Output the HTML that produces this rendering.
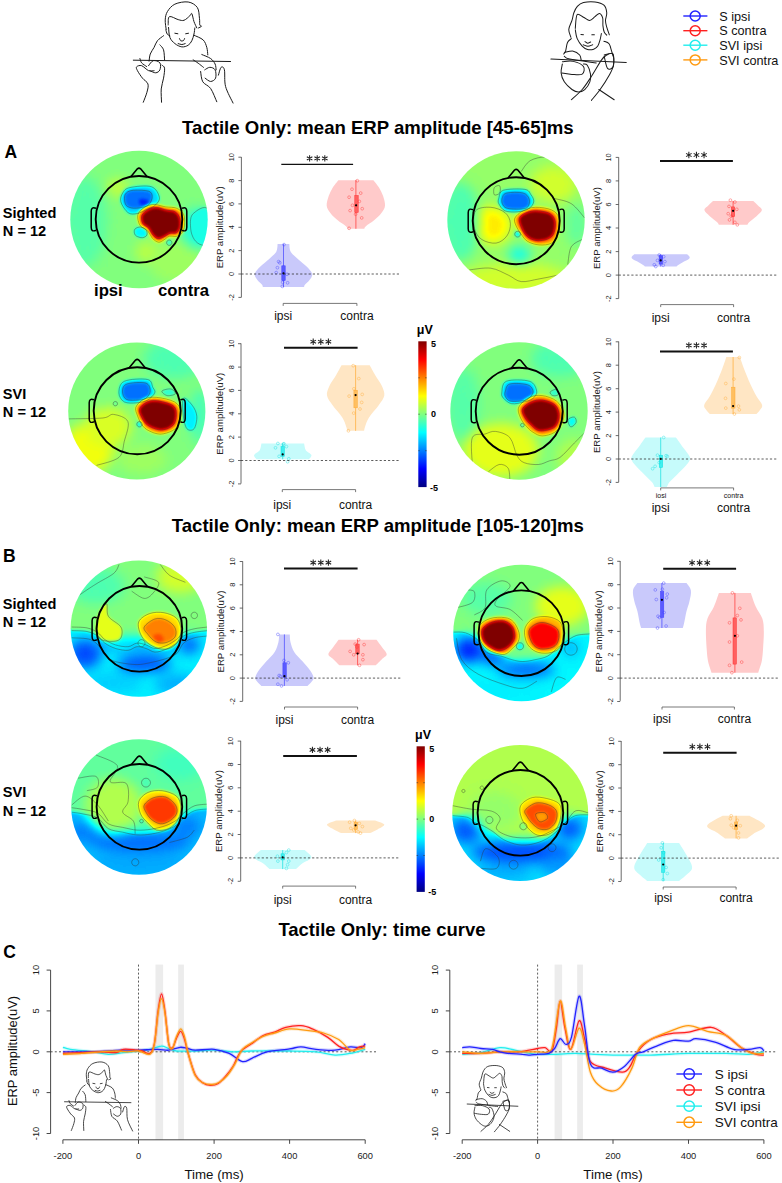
<!DOCTYPE html><html><head><meta charset="utf-8"><style>html,body{margin:0;padding:0;background:#fff;width:782px;height:1183px;overflow:hidden}svg{display:block}</style></head><body><svg width="782" height="1183" viewBox="0 0 782 1183" font-family="Liberation Sans, sans-serif">
<defs><linearGradient id="jetv" x1="0" y1="1" x2="0" y2="0"><stop offset="0" stop-color="#000080"/><stop offset="0.125" stop-color="#0000ff"/><stop offset="0.375" stop-color="#00ffff"/><stop offset="0.5" stop-color="#80ff80"/><stop offset="0.625" stop-color="#ffff00"/><stop offset="0.875" stop-color="#ff0000"/><stop offset="1" stop-color="#800000"/></linearGradient></defs>
<rect width="782" height="1183" fill="#fff"/>
<defs><clipPath id="clip0"><circle cx="139.0" cy="219.5" r="68.7"/></clipPath><clipPath id="clip1"><circle cx="516.0" cy="220.0" r="68.7"/></clipPath><clipPath id="clip2"><circle cx="136.8" cy="411.0" r="68.6"/></clipPath><clipPath id="clip3"><circle cx="519.0" cy="411.0" r="68.7"/></clipPath><clipPath id="clip4"><circle cx="138.8" cy="628.6" r="68.2"/></clipPath><clipPath id="clip5"><circle cx="521.4" cy="633.0" r="68.2"/></clipPath><clipPath id="clip6"><circle cx="139.0" cy="807.0" r="67.8"/></clipPath><clipPath id="clip7"><circle cx="520.2" cy="813.0" r="68.0"/></clipPath><filter id="jet" x="-5%" y="-5%" width="110%" height="110%" color-interpolation-filters="sRGB"><feGaussianBlur stdDeviation="1.7"/><feComponentTransfer><feFuncR type="table" tableValues="0 0 0 0 0.5 1 1 1 0.5"/><feFuncG type="table" tableValues="0 0 0.5 1 1 1 0.5 0 0"/><feFuncB type="table" tableValues="0.5 1 1 1 0.5 0 0 0 0"/></feComponentTransfer></filter><filter id="soft" x="-20%" y="-20%" width="140%" height="140%" color-interpolation-filters="sRGB"><feGaussianBlur stdDeviation="6"/></filter></defs>
<g clip-path="url(#clip0)"><g filter="url(#jet)">
<rect x="58.3" y="138.7" width="161.5" height="161.5" fill="#808080"/>
<g filter="url(#soft)">
<ellipse cx="117.3" cy="187.6" rx="10.7" ry="9.0" fill="#919191"/>
<ellipse cx="147.8" cy="252.0" rx="12.5" ry="10.7" fill="#8f8f8f"/>
<ellipse cx="85.1" cy="221.6" rx="21.5" ry="44.8" fill="#757575"/>
<ellipse cx="176.4" cy="261.0" rx="26.9" ry="21.5" fill="#878787"/>
<ellipse cx="197.9" cy="228.8" rx="16.1" ry="19.7" fill="#666666"/>
</g>
<path d="M122.7,193.0C124.2,190.6 125.1,188.6 129.9,187.6C134.6,186.5 146.4,185.1 151.3,186.7C156.3,188.3 158.8,194.3 159.4,197.4C160.0,200.6 156.9,203.6 154.9,205.5C153.0,207.4 150.8,207.7 147.8,209.1C144.8,210.4 140.3,213.0 137.0,213.6C133.7,214.1 130.8,214.6 128.1,212.7C125.4,210.7 121.8,205.2 120.9,201.9C120.0,198.6 121.2,195.4 122.7,193.0Z" fill="#575757"/>
<path d="M126.3,193.0C127.8,191.6 129.7,190.6 133.4,190.3C137.2,190.0 145.5,190.1 148.7,191.2C151.8,192.2 152.1,194.5 152.2,196.5C152.4,198.6 150.9,202.0 149.6,203.7C148.2,205.4 146.9,206.2 144.2,206.9C141.5,207.7 136.4,208.4 133.4,208.2C130.5,207.9 127.8,207.1 126.3,205.5C124.8,203.9 124.5,200.4 124.5,198.3C124.5,196.2 124.8,194.3 126.3,193.0Z" fill="#3c3c3c"/>
<path d="M139.7,199.2C140.9,198.5 146.6,199.2 147.8,200.1C149.0,201.0 148.1,203.9 146.9,204.6C145.7,205.3 141.8,205.5 140.6,204.6C139.4,203.7 138.5,200.0 139.7,199.2Z" fill="#292929"/>
<path d="M138.8,212.7C140.2,210.6 143.3,207.7 146.0,206.4C148.7,205.0 151.6,204.5 154.9,204.6C158.2,204.7 162.1,206.3 165.7,206.9C169.3,207.5 173.4,206.9 176.4,208.2C179.4,209.4 182.2,211.6 183.6,214.4C184.9,217.3 184.7,222.1 184.5,225.2C184.2,228.2 183.5,230.9 182.1,232.7C180.8,234.6 178.6,235.7 176.4,236.3C174.3,236.9 171.3,235.7 169.3,236.3C167.2,236.9 165.7,238.9 163.9,239.9C162.1,240.9 160.4,242.5 158.5,242.2C156.6,241.9 154.0,240.0 152.2,238.1C150.5,236.2 149.7,232.9 147.8,230.9C145.8,228.9 142.2,228.1 140.6,226.1C139.0,224.1 138.2,221.2 137.9,218.9C137.6,216.7 137.5,214.7 138.8,212.7Z" fill="#b8b8b8"/>
<path d="M142.0,215.3C143.0,213.0 146.2,210.7 148.7,209.4C151.1,208.2 153.9,207.6 156.7,207.6C159.6,207.7 162.6,209.3 165.7,210.0C168.7,210.7 172.7,210.4 175.0,211.8C177.3,213.1 178.8,215.5 179.6,218.0C180.5,220.6 180.5,224.5 180.0,227.0C179.5,229.4 178.1,231.7 176.4,232.7C174.8,233.8 172.2,232.6 170.1,233.2C168.1,233.9 166.0,235.9 163.9,236.8C161.8,237.7 159.6,239.1 157.6,238.6C155.7,238.2 153.7,235.9 152.2,234.1C150.8,232.3 150.2,229.7 148.7,227.9C147.1,226.1 143.9,225.5 142.8,223.4C141.7,221.3 141.1,217.7 142.0,215.3Z" fill="#ffffff"/>
<path d="M135.2,228.8C136.3,227.9 138.8,226.8 140.6,227.0C142.4,227.1 144.9,228.3 146.0,229.7C147.0,231.0 147.5,233.7 146.9,235.0C146.3,236.4 144.2,237.6 142.4,237.7C140.6,237.9 137.5,236.8 136.1,235.9C134.8,235.0 134.5,233.5 134.3,232.3C134.2,231.2 134.2,229.7 135.2,228.8Z" fill="#5e5e5e"/>
<path d="M171.9,242.7C171.9,243.4 171.6,244.2 171.1,244.6C170.7,245.1 169.9,245.4 169.3,245.4C168.6,245.4 167.8,245.1 167.4,244.6C166.9,244.2 166.6,243.4 166.6,242.7C166.6,242.1 166.9,241.3 167.4,240.8C167.8,240.4 168.6,240.0 169.3,240.0C169.9,240.0 170.7,240.4 171.1,240.8C171.6,241.3 171.9,242.1 171.9,242.7Z" fill="#6b6b6b"/>
<path d="M192.5,214.4C195.4,211.2 204.8,204.3 207.7,209.1C210.7,213.9 211.5,237.1 210.4,243.1C209.4,249.1 204.2,245.5 201.5,244.9C198.8,244.3 196.1,242.2 194.3,239.5C192.5,236.8 191.0,232.9 190.7,228.8C190.4,224.6 189.7,217.7 192.5,214.4Z" fill="#666666"/>
</g>
<path d="M122.7,193.0C124.2,190.6 125.1,188.6 129.9,187.6C134.6,186.5 146.4,185.1 151.3,186.7C156.3,188.3 158.8,194.3 159.4,197.4C160.0,200.6 156.9,203.6 154.9,205.5C153.0,207.4 150.8,207.7 147.8,209.1C144.8,210.4 140.3,213.0 137.0,213.6C133.7,214.1 130.8,214.6 128.1,212.7C125.4,210.7 121.8,205.2 120.9,201.9C120.0,198.6 121.2,195.4 122.7,193.0Z" fill="none" stroke="#333" stroke-opacity="0.75" stroke-width="0.55"/>
<path d="M126.3,193.0C127.8,191.6 129.7,190.6 133.4,190.3C137.2,190.0 145.5,190.1 148.7,191.2C151.8,192.2 152.1,194.5 152.2,196.5C152.4,198.6 150.9,202.0 149.6,203.7C148.2,205.4 146.9,206.2 144.2,206.9C141.5,207.7 136.4,208.4 133.4,208.2C130.5,207.9 127.8,207.1 126.3,205.5C124.8,203.9 124.5,200.4 124.5,198.3C124.5,196.2 124.8,194.3 126.3,193.0Z" fill="none" stroke="#333" stroke-opacity="0.75" stroke-width="0.55"/>
<path d="M138.8,212.7C140.2,210.6 143.3,207.7 146.0,206.4C148.7,205.0 151.6,204.5 154.9,204.6C158.2,204.7 162.1,206.3 165.7,206.9C169.3,207.5 173.4,206.9 176.4,208.2C179.4,209.4 182.2,211.6 183.6,214.4C184.9,217.3 184.7,222.1 184.5,225.2C184.2,228.2 183.5,230.9 182.1,232.7C180.8,234.6 178.6,235.7 176.4,236.3C174.3,236.9 171.3,235.7 169.3,236.3C167.2,236.9 165.7,238.9 163.9,239.9C162.1,240.9 160.4,242.5 158.5,242.2C156.6,241.9 154.0,240.0 152.2,238.1C150.5,236.2 149.7,232.9 147.8,230.9C145.8,228.9 142.2,228.1 140.6,226.1C139.0,224.1 138.2,221.2 137.9,218.9C137.6,216.7 137.5,214.7 138.8,212.7Z" fill="none" stroke="#333" stroke-opacity="0.75" stroke-width="0.55"/>
<path d="M142.0,215.3C143.0,213.0 146.2,210.7 148.7,209.4C151.1,208.2 153.9,207.6 156.7,207.6C159.6,207.7 162.6,209.3 165.7,210.0C168.7,210.7 172.7,210.4 175.0,211.8C177.3,213.1 178.8,215.5 179.6,218.0C180.5,220.6 180.5,224.5 180.0,227.0C179.5,229.4 178.1,231.7 176.4,232.7C174.8,233.8 172.2,232.6 170.1,233.2C168.1,233.9 166.0,235.9 163.9,236.8C161.8,237.7 159.6,239.1 157.6,238.6C155.7,238.2 153.7,235.9 152.2,234.1C150.8,232.3 150.2,229.7 148.7,227.9C147.1,226.1 143.9,225.5 142.8,223.4C141.7,221.3 141.1,217.7 142.0,215.3Z" fill="none" stroke="#333" stroke-opacity="0.75" stroke-width="0.55"/>
<path d="M135.2,228.8C136.3,227.9 138.8,226.8 140.6,227.0C142.4,227.1 144.9,228.3 146.0,229.7C147.0,231.0 147.5,233.7 146.9,235.0C146.3,236.4 144.2,237.6 142.4,237.7C140.6,237.9 137.5,236.8 136.1,235.9C134.8,235.0 134.5,233.5 134.3,232.3C134.2,231.2 134.2,229.7 135.2,228.8Z" fill="none" stroke="#333" stroke-opacity="0.75" stroke-width="0.55"/>
<path d="M171.9,242.7C171.9,243.4 171.6,244.2 171.1,244.6C170.7,245.1 169.9,245.4 169.3,245.4C168.6,245.4 167.8,245.1 167.4,244.6C166.9,244.2 166.6,243.4 166.6,242.7C166.6,242.1 166.9,241.3 167.4,240.8C167.8,240.4 168.6,240.0 169.3,240.0C169.9,240.0 170.7,240.4 171.1,240.8C171.6,241.3 171.9,242.1 171.9,242.7Z" fill="none" stroke="#333" stroke-opacity="0.75" stroke-width="0.55"/>
<path d="M192.5,214.4C195.4,211.2 204.8,204.3 207.7,209.1C210.7,213.9 211.5,237.1 210.4,243.1C209.4,249.1 204.2,245.5 201.5,244.9C198.8,244.3 196.1,242.2 194.3,239.5C192.5,236.8 191.0,232.9 190.7,228.8C190.4,224.6 189.7,217.7 192.5,214.4Z" fill="none" stroke="#333" stroke-opacity="0.75" stroke-width="0.55"/>
</g>
<circle cx="139.0" cy="219.3" r="43.3" fill="none" stroke="#000" stroke-width="1.9"/>
<path d="M130.8,176.8 L137.4,168.8 Q138.99641962047977,167.4 140.6,168.8 L147.2,176.8" fill="none" stroke="#000" stroke-width="1.6" stroke-linejoin="round"/>
<path d="M96.0,208.3 Q91.2,206.3 91.2,211.3 L91.2,227.3 Q91.2,232.3 96.0,230.3" fill="none" stroke="#000" stroke-width="1.5"/>
<path d="M182.0,208.3 Q186.8,206.3 186.8,211.3 L186.8,227.3 Q186.8,232.3 182.0,230.3" fill="none" stroke="#000" stroke-width="1.5"/>
<g clip-path="url(#clip1)"><g filter="url(#jet)">
<rect x="435.3" y="139.3" width="161.5" height="161.5" fill="#858585"/>
<g filter="url(#soft)">
<path d="M475.5,210.9C478.2,207.3 485.8,207.0 490.8,207.3C495.7,207.6 501.8,210.0 505.1,212.7C508.4,215.3 510.1,219.5 510.4,223.4C510.7,227.3 509.3,232.6 506.9,235.9C504.5,239.2 500.3,242.5 496.1,243.1C491.9,243.7 485.4,241.9 481.8,239.5C478.2,237.1 475.7,233.5 474.6,228.8C473.6,224.0 472.9,214.4 475.5,210.9Z" fill="#a4a4a4"/>
<ellipse cx="553.4" cy="184.0" rx="23.3" ry="17.9" fill="#949494"/>
<ellipse cx="460.3" cy="221.6" rx="19.7" ry="39.4" fill="#737373"/>
<ellipse cx="519.4" cy="255.6" rx="10.7" ry="9.0" fill="#616161"/>
<ellipse cx="515.8" cy="278.9" rx="53.7" ry="16.1" fill="#949494"/>
<ellipse cx="576.7" cy="225.2" rx="10.7" ry="21.5" fill="#787878"/>
</g>
<path d="M498.8,198.3C499.6,196.1 499.0,191.8 503.3,190.3C507.6,188.8 520.1,188.6 524.8,189.4C529.4,190.1 529.5,192.7 531.0,194.8C532.5,196.8 534.2,199.5 533.7,201.9C533.3,204.3 531.0,207.4 528.3,209.1C525.7,210.7 521.5,211.5 517.6,211.8C513.7,212.1 508.2,212.2 505.1,210.9C501.9,209.5 499.9,205.8 498.8,203.7C497.8,201.6 498.1,200.6 498.8,198.3Z" fill="#595959"/>
<path d="M502.4,197.4C503.1,195.6 503.4,193.7 506.9,193.0C510.3,192.2 519.2,191.9 523.0,193.0C526.7,194.0 528.5,196.8 529.2,199.2C530.0,201.6 529.1,205.6 527.5,207.3C525.8,208.9 522.8,208.9 519.4,209.1C516.0,209.2 509.7,209.1 506.9,208.2C504.0,207.3 503.1,205.5 502.4,203.7C501.6,201.9 501.6,199.2 502.4,197.4Z" fill="#3c3c3c"/>
<path d="M514.9,218.0C516.1,215.6 519.5,212.7 523.0,210.9C526.4,209.1 530.7,207.4 535.5,207.3C540.3,207.1 547.7,208.2 551.6,210.0C555.5,211.8 557.7,214.0 558.8,218.0C559.8,222.1 559.1,230.0 557.9,234.1C556.7,238.3 554.8,241.3 551.6,243.1C548.5,244.9 543.1,245.2 539.1,244.9C535.1,244.6 530.4,243.1 527.5,241.3C524.5,239.5 523.1,236.8 521.2,234.1C519.2,231.5 516.9,227.9 515.8,225.2C514.8,222.5 513.7,220.4 514.9,218.0Z" fill="#b8b8b8"/>
<path d="M519.4,218.0C520.3,215.6 523.6,213.9 526.6,212.7C529.5,211.5 533.4,210.7 537.3,210.9C541.2,211.0 546.8,211.8 549.8,213.6C552.8,215.3 554.6,218.2 555.2,221.6C555.8,225.0 554.9,231.2 553.4,234.1C551.9,237.1 549.2,238.5 546.3,239.5C543.3,240.6 538.8,241.0 535.5,240.4C532.2,239.8 528.9,238.2 526.6,235.9C524.2,233.7 522.4,230.0 521.2,227.0C520.0,224.0 518.5,220.4 519.4,218.0Z" fill="#ffffff"/>
<path d="M520.5,234.1C520.5,234.8 520.1,235.7 519.6,236.2C519.2,236.6 518.3,237.0 517.6,237.0C516.9,237.0 516.1,236.6 515.6,236.2C515.1,235.7 514.7,234.8 514.7,234.1C514.7,233.5 515.1,232.6 515.6,232.1C516.1,231.6 516.9,231.3 517.6,231.3C518.3,231.3 519.2,231.6 519.6,232.1C520.1,232.6 520.5,233.5 520.5,234.1Z" fill="#5e5e5e"/>
</g>
<path d="M475.5,210.9C478.2,207.3 485.8,207.0 490.8,207.3C495.7,207.6 501.8,210.0 505.1,212.7C508.4,215.3 510.1,219.5 510.4,223.4C510.7,227.3 509.3,232.6 506.9,235.9C504.5,239.2 500.3,242.5 496.1,243.1C491.9,243.7 485.4,241.9 481.8,239.5C478.2,237.1 475.7,233.5 474.6,228.8C473.6,224.0 472.9,214.4 475.5,210.9Z" fill="none" stroke="#333" stroke-opacity="0.75" stroke-width="0.55"/>
<path d="M498.8,198.3C499.6,196.1 499.0,191.8 503.3,190.3C507.6,188.8 520.1,188.6 524.8,189.4C529.4,190.1 529.5,192.7 531.0,194.8C532.5,196.8 534.2,199.5 533.7,201.9C533.3,204.3 531.0,207.4 528.3,209.1C525.7,210.7 521.5,211.5 517.6,211.8C513.7,212.1 508.2,212.2 505.1,210.9C501.9,209.5 499.9,205.8 498.8,203.7C497.8,201.6 498.1,200.6 498.8,198.3Z" fill="none" stroke="#333" stroke-opacity="0.75" stroke-width="0.55"/>
<path d="M502.4,197.4C503.1,195.6 503.4,193.7 506.9,193.0C510.3,192.2 519.2,191.9 523.0,193.0C526.7,194.0 528.5,196.8 529.2,199.2C530.0,201.6 529.1,205.6 527.5,207.3C525.8,208.9 522.8,208.9 519.4,209.1C516.0,209.2 509.7,209.1 506.9,208.2C504.0,207.3 503.1,205.5 502.4,203.7C501.6,201.9 501.6,199.2 502.4,197.4Z" fill="none" stroke="#333" stroke-opacity="0.75" stroke-width="0.55"/>
<path d="M514.9,218.0C516.1,215.6 519.5,212.7 523.0,210.9C526.4,209.1 530.7,207.4 535.5,207.3C540.3,207.1 547.7,208.2 551.6,210.0C555.5,211.8 557.7,214.0 558.8,218.0C559.8,222.1 559.1,230.0 557.9,234.1C556.7,238.3 554.8,241.3 551.6,243.1C548.5,244.9 543.1,245.2 539.1,244.9C535.1,244.6 530.4,243.1 527.5,241.3C524.5,239.5 523.1,236.8 521.2,234.1C519.2,231.5 516.9,227.9 515.8,225.2C514.8,222.5 513.7,220.4 514.9,218.0Z" fill="none" stroke="#333" stroke-opacity="0.75" stroke-width="0.55"/>
<path d="M519.4,218.0C520.3,215.6 523.6,213.9 526.6,212.7C529.5,211.5 533.4,210.7 537.3,210.9C541.2,211.0 546.8,211.8 549.8,213.6C552.8,215.3 554.6,218.2 555.2,221.6C555.8,225.0 554.9,231.2 553.4,234.1C551.9,237.1 549.2,238.5 546.3,239.5C543.3,240.6 538.8,241.0 535.5,240.4C532.2,239.8 528.9,238.2 526.6,235.9C524.2,233.7 522.4,230.0 521.2,227.0C520.0,224.0 518.5,220.4 519.4,218.0Z" fill="none" stroke="#333" stroke-opacity="0.75" stroke-width="0.55"/>
<path d="M520.5,234.1C520.5,234.8 520.1,235.7 519.6,236.2C519.2,236.6 518.3,237.0 517.6,237.0C516.9,237.0 516.1,236.6 515.6,236.2C515.1,235.7 514.7,234.8 514.7,234.1C514.7,233.5 515.1,232.6 515.6,232.1C516.1,231.6 516.9,231.3 517.6,231.3C518.3,231.3 519.2,231.6 519.6,232.1C520.1,232.6 520.5,233.5 520.5,234.1Z" fill="none" stroke="#333" stroke-opacity="0.75" stroke-width="0.55"/>
<path d="" fill="none" stroke="#333" stroke-opacity="0.75" stroke-width="0.55"/>
<path d="M521.2,171.5C522.7,169.7 526.0,163.1 530.1,160.7C534.3,158.4 540.9,156.6 546.3,157.2C551.6,157.8 559.7,163.1 562.4,164.3" fill="none" stroke="#333" stroke-opacity="0.75" stroke-width="0.55"/>
<path d="M553.4,198.3C556.4,199.2 566.1,200.4 571.3,203.7C576.5,207.0 582.5,215.6 584.7,218.0" fill="none" stroke="#333" stroke-opacity="0.75" stroke-width="0.55"/>
<path d="M469.3,269.9C472.9,269.6 484.2,267.3 490.8,268.2C497.3,269.0 503.6,273.1 508.7,275.3C513.7,277.6 516.1,281.0 521.2,281.6C526.3,282.2 533.1,279.9 539.1,278.9C545.1,277.8 551.0,276.8 557.0,275.3C563.0,273.8 571.9,270.8 574.9,269.9" fill="none" stroke="#333" stroke-opacity="0.75" stroke-width="0.55"/>
<path d="M567.7,264.6C568.3,261.6 568.9,250.8 571.3,246.7C573.7,242.5 580.3,240.7 582.1,239.5" fill="none" stroke="#333" stroke-opacity="0.75" stroke-width="0.55"/>
<path d="M494.3,187.6C495.2,186.1 498.8,184.9 499.7,185.8C500.6,186.7 500.6,191.5 499.7,193.0C498.8,194.5 495.2,195.6 494.3,194.8C493.4,193.9 493.4,189.1 494.3,187.6Z" fill="none" stroke="#333" stroke-opacity="0.75" stroke-width="0.55"/>
</g>
<circle cx="516.2" cy="220.7" r="43.5" fill="none" stroke="#000" stroke-width="1.9"/>
<path d="M508.0,178.0 L514.6,170.0 Q516.1754385964912,168.6 517.8,170.0 L524.4,178.0" fill="none" stroke="#000" stroke-width="1.6" stroke-linejoin="round"/>
<path d="M473.0,209.7 Q468.2,207.7 468.2,212.7 L468.2,228.7 Q468.2,233.7 473.0,231.7" fill="none" stroke="#000" stroke-width="1.5"/>
<path d="M559.4,209.7 Q564.2,207.7 564.2,212.7 L564.2,228.7 Q564.2,233.7 559.4,231.7" fill="none" stroke="#000" stroke-width="1.5"/>
<g clip-path="url(#clip2)"><g filter="url(#jet)">
<rect x="56.3" y="330.4" width="161.1" height="161.1" fill="#808080"/>
<g filter="url(#soft)">
<ellipse cx="88.5" cy="448.4" rx="25.1" ry="25.1" fill="#9c9c9c"/>
<ellipse cx="108.2" cy="426.9" rx="23.3" ry="19.7" fill="#969696"/>
<ellipse cx="174.4" cy="358.9" rx="30.4" ry="19.7" fill="#737373"/>
<ellipse cx="142.2" cy="459.2" rx="25.1" ry="14.3" fill="#878787"/>
<ellipse cx="199.5" cy="416.2" rx="9.0" ry="26.9" fill="#707070"/>
</g>
<path d="M118.9,392.9C118.9,389.5 119.5,383.5 124.3,381.3C129.1,379.0 142.8,378.4 147.6,379.5C152.3,380.5 151.7,385.3 152.9,387.5C154.1,389.8 155.6,390.8 154.7,392.9C153.8,395.0 150.5,398.4 147.6,400.1C144.6,401.7 140.7,402.5 136.8,402.8C132.9,403.1 127.3,403.5 124.3,401.9C121.3,400.2 118.9,396.3 118.9,392.9Z" fill="#595959"/>
<path d="M122.5,391.1C122.6,388.6 123.1,385.3 127.0,384.0C130.9,382.6 141.9,381.9 145.8,383.1C149.6,384.3 150.2,388.6 150.2,391.1C150.2,393.7 148.0,396.8 145.8,398.3C143.5,399.8 140.1,399.9 136.8,400.1C133.5,400.2 128.5,400.7 126.1,399.2C123.7,397.7 122.3,393.7 122.5,391.1Z" fill="#3c3c3c"/>
<path d="M135.9,407.2C137.0,404.4 140.5,400.8 144.0,399.2C147.4,397.5 151.4,396.9 156.5,397.4C161.6,397.8 170.4,399.6 174.4,401.9C178.4,404.1 179.9,407.2 180.7,410.8C181.4,414.4 180.2,420.1 178.9,423.3C177.5,426.6 175.8,428.7 172.6,430.5C169.5,432.3 164.1,434.1 160.1,434.1C156.1,434.1 151.4,432.0 148.5,430.5C145.5,429.0 144.0,427.5 142.2,425.1C140.4,422.8 138.8,419.2 137.7,416.2C136.7,413.2 134.9,410.1 135.9,407.2Z" fill="#b8b8b8"/>
<path d="M139.5,409.0C140.4,406.3 144.4,403.2 147.6,401.9C150.7,400.5 154.1,400.4 158.3,401.0C162.5,401.6 169.6,403.5 172.6,405.4C175.6,407.4 175.9,409.6 176.2,412.6C176.5,415.6 175.9,420.7 174.4,423.3C172.9,426.0 169.9,427.7 167.3,428.7C164.6,429.8 161.6,430.2 158.3,429.6C155.0,429.0 150.2,427.1 147.6,425.1C144.9,423.2 143.5,420.7 142.2,418.0C140.8,415.3 138.6,411.7 139.5,409.0Z" fill="#ffffff"/>
<path d="M142.2,424.2C142.2,424.9 141.8,425.7 141.4,426.1C141.0,426.6 140.1,426.9 139.5,426.9C138.9,426.9 138.1,426.6 137.6,426.1C137.2,425.7 136.8,424.9 136.8,424.2C136.8,423.6 137.2,422.8 137.6,422.3C138.1,421.9 138.9,421.6 139.5,421.6C140.1,421.6 141.0,421.9 141.4,422.3C141.8,422.8 142.2,423.6 142.2,424.2Z" fill="#5e5e5e"/>
<path d="M183.4,398.3C184.9,396.5 190.1,402.5 192.3,405.4C194.6,408.4 196.5,412.3 196.8,416.2C197.1,420.1 195.7,426.6 194.1,428.7C192.5,430.8 188.7,430.8 186.9,428.7C185.2,426.6 184.0,421.3 183.4,416.2C182.8,411.1 181.9,400.1 183.4,398.3Z" fill="#5c5c5c"/>
<path d="M161.9,391.1C162.5,390.0 168.6,388.5 170.8,389.0C173.1,389.4 175.9,392.7 175.3,393.8C174.7,394.9 169.5,396.0 167.3,395.6C165.0,395.2 161.3,392.2 161.9,391.1Z" fill="#6b6b6b"/>
<path d="M117.5,403.7C117.5,404.2 117.2,404.8 116.9,405.2C116.5,405.5 115.8,405.8 115.3,405.8C114.8,405.8 114.2,405.5 113.8,405.2C113.5,404.8 113.2,404.2 113.2,403.7C113.2,403.2 113.5,402.5 113.8,402.1C114.2,401.8 114.8,401.5 115.3,401.5C115.8,401.5 116.5,401.8 116.9,402.1C117.2,402.5 117.5,403.2 117.5,403.7Z" fill="#787878"/>
</g>
<path d="M118.9,392.9C118.9,389.5 119.5,383.5 124.3,381.3C129.1,379.0 142.8,378.4 147.6,379.5C152.3,380.5 151.7,385.3 152.9,387.5C154.1,389.8 155.6,390.8 154.7,392.9C153.8,395.0 150.5,398.4 147.6,400.1C144.6,401.7 140.7,402.5 136.8,402.8C132.9,403.1 127.3,403.5 124.3,401.9C121.3,400.2 118.9,396.3 118.9,392.9Z" fill="none" stroke="#333" stroke-opacity="0.75" stroke-width="0.55"/>
<path d="M122.5,391.1C122.6,388.6 123.1,385.3 127.0,384.0C130.9,382.6 141.9,381.9 145.8,383.1C149.6,384.3 150.2,388.6 150.2,391.1C150.2,393.7 148.0,396.8 145.8,398.3C143.5,399.8 140.1,399.9 136.8,400.1C133.5,400.2 128.5,400.7 126.1,399.2C123.7,397.7 122.3,393.7 122.5,391.1Z" fill="none" stroke="#333" stroke-opacity="0.75" stroke-width="0.55"/>
<path d="M135.9,407.2C137.0,404.4 140.5,400.8 144.0,399.2C147.4,397.5 151.4,396.9 156.5,397.4C161.6,397.8 170.4,399.6 174.4,401.9C178.4,404.1 179.9,407.2 180.7,410.8C181.4,414.4 180.2,420.1 178.9,423.3C177.5,426.6 175.8,428.7 172.6,430.5C169.5,432.3 164.1,434.1 160.1,434.1C156.1,434.1 151.4,432.0 148.5,430.5C145.5,429.0 144.0,427.5 142.2,425.1C140.4,422.8 138.8,419.2 137.7,416.2C136.7,413.2 134.9,410.1 135.9,407.2Z" fill="none" stroke="#333" stroke-opacity="0.75" stroke-width="0.55"/>
<path d="M139.5,409.0C140.4,406.3 144.4,403.2 147.6,401.9C150.7,400.5 154.1,400.4 158.3,401.0C162.5,401.6 169.6,403.5 172.6,405.4C175.6,407.4 175.9,409.6 176.2,412.6C176.5,415.6 175.9,420.7 174.4,423.3C172.9,426.0 169.9,427.7 167.3,428.7C164.6,429.8 161.6,430.2 158.3,429.6C155.0,429.0 150.2,427.1 147.6,425.1C144.9,423.2 143.5,420.7 142.2,418.0C140.8,415.3 138.6,411.7 139.5,409.0Z" fill="none" stroke="#333" stroke-opacity="0.75" stroke-width="0.55"/>
<path d="M142.2,424.2C142.2,424.9 141.8,425.7 141.4,426.1C141.0,426.6 140.1,426.9 139.5,426.9C138.9,426.9 138.1,426.6 137.6,426.1C137.2,425.7 136.8,424.9 136.8,424.2C136.8,423.6 137.2,422.8 137.6,422.3C138.1,421.9 138.9,421.6 139.5,421.6C140.1,421.6 141.0,421.9 141.4,422.3C141.8,422.8 142.2,423.6 142.2,424.2Z" fill="none" stroke="#333" stroke-opacity="0.75" stroke-width="0.55"/>
<path d="M183.4,398.3C184.9,396.5 190.1,402.5 192.3,405.4C194.6,408.4 196.5,412.3 196.8,416.2C197.1,420.1 195.7,426.6 194.1,428.7C192.5,430.8 188.7,430.8 186.9,428.7C185.2,426.6 184.0,421.3 183.4,416.2C182.8,411.1 181.9,400.1 183.4,398.3Z" fill="none" stroke="#333" stroke-opacity="0.75" stroke-width="0.55"/>
<path d="M161.9,391.1C162.5,390.0 168.6,388.5 170.8,389.0C173.1,389.4 175.9,392.7 175.3,393.8C174.7,394.9 169.5,396.0 167.3,395.6C165.0,395.2 161.3,392.2 161.9,391.1Z" fill="none" stroke="#333" stroke-opacity="0.75" stroke-width="0.55"/>
<path d="M117.5,403.7C117.5,404.2 117.2,404.8 116.9,405.2C116.5,405.5 115.8,405.8 115.3,405.8C114.8,405.8 114.2,405.5 113.8,405.2C113.5,404.8 113.2,404.2 113.2,403.7C113.2,403.2 113.5,402.5 113.8,402.1C114.2,401.8 114.8,401.5 115.3,401.5C115.8,401.5 116.5,401.8 116.9,402.1C117.2,402.5 117.5,403.2 117.5,403.7Z" fill="none" stroke="#333" stroke-opacity="0.75" stroke-width="0.55"/>
<path d="M68.8,418.9C74.5,418.7 95.3,418.7 102.8,418.0C110.3,417.2 109.4,413.8 113.5,414.4C117.7,415.0 126.1,417.1 127.9,421.6C129.7,426.0 125.8,435.3 124.3,441.3C122.8,447.2 123.5,453.3 118.9,457.4C114.3,461.4 100.3,464.1 96.5,465.4" fill="none" stroke="#333" stroke-opacity="0.75" stroke-width="0.55"/>
</g>
<circle cx="137.2" cy="410.8" r="43.5" fill="none" stroke="#000" stroke-width="1.9"/>
<path d="M129.0,368.1 L135.6,360.1 Q137.17543859649123,358.7 138.8,360.1 L145.4,368.1" fill="none" stroke="#000" stroke-width="1.6" stroke-linejoin="round"/>
<path d="M94.0,399.8 Q89.2,397.8 89.2,402.8 L89.2,418.8 Q89.2,423.8 94.0,421.8" fill="none" stroke="#000" stroke-width="1.5"/>
<path d="M180.4,399.8 Q185.2,397.8 185.2,402.8 L185.2,418.8 Q185.2,423.8 180.4,421.8" fill="none" stroke="#000" stroke-width="1.5"/>
<g clip-path="url(#clip3)"><g filter="url(#jet)">
<rect x="438.3" y="330.3" width="161.5" height="161.5" fill="#808080"/>
<g filter="url(#soft)">
<ellipse cx="500.9" cy="450.2" rx="37.6" ry="26.9" fill="#999999"/>
<ellipse cx="560.0" cy="358.9" rx="28.6" ry="17.9" fill="#737373"/>
<ellipse cx="463.3" cy="403.7" rx="16.1" ry="35.8" fill="#757575"/>
<ellipse cx="574.3" cy="457.4" rx="17.9" ry="17.9" fill="#8c8c8c"/>
</g>
<path d="M501.8,392.9C502.3,390.1 501.7,383.2 506.3,381.3C510.9,379.3 524.5,379.6 529.6,381.3C534.6,382.9 536.1,388.3 536.7,391.1C537.3,394.0 535.2,396.5 533.1,398.3C531.1,400.1 527.8,401.0 524.2,401.9C520.6,402.8 515.1,404.3 511.7,403.7C508.2,403.1 505.2,400.1 503.6,398.3C502.0,396.5 501.4,395.7 501.8,392.9Z" fill="#595959"/>
<path d="M505.4,391.1C506.1,389.0 506.1,385.0 509.9,384.0C513.6,382.9 523.9,383.5 527.8,384.9C531.6,386.2 533.1,389.6 533.1,392.0C533.1,394.4 529.9,397.7 527.8,399.2C525.7,400.7 523.6,400.7 520.6,401.0C517.6,401.3 512.4,401.7 509.9,401.0C507.3,400.2 506.1,398.1 505.4,396.5C504.6,394.9 504.6,393.2 505.4,391.1Z" fill="#3c3c3c"/>
<path d="M518.8,407.2C520.3,403.8 525.7,399.3 529.6,397.4C533.4,395.5 537.6,395.0 542.1,395.6C546.6,396.2 552.8,398.1 556.4,401.0C560.0,403.8 562.7,408.9 563.6,412.6C564.5,416.3 563.3,420.1 561.8,423.3C560.3,426.6 557.9,430.2 554.6,432.3C551.3,434.4 545.7,435.9 542.1,435.9C538.5,435.9 535.7,433.8 533.1,432.3C530.6,430.8 529.0,429.3 526.9,426.9C524.8,424.5 522.0,421.3 520.6,418.0C519.3,414.7 517.3,410.7 518.8,407.2Z" fill="#b8b8b8"/>
<path d="M522.4,409.0C523.4,406.3 528.1,403.4 531.3,401.9C534.6,400.4 538.2,399.6 542.1,400.1C546.0,400.5 551.8,402.2 554.6,404.6C557.5,406.9 558.8,411.0 559.1,414.4C559.4,417.8 558.1,422.6 556.4,425.1C554.8,427.7 552.2,428.7 549.3,429.6C546.3,430.5 541.5,431.3 538.5,430.5C535.5,429.8 533.6,427.2 531.3,425.1C529.1,423.1 526.6,420.7 525.1,418.0C523.6,415.3 521.4,411.7 522.4,409.0Z" fill="#ffffff"/>
<path d="M568.0,419.8C568.6,418.1 573.0,416.6 574.3,417.1C575.7,417.5 576.7,420.8 576.1,422.5C575.5,424.1 572.1,427.4 570.7,426.9C569.4,426.5 567.5,421.4 568.0,419.8Z" fill="#616161"/>
<path d="M550.1,392.0C550.7,391.0 555.1,388.9 556.4,389.3C557.8,389.8 558.8,393.7 558.2,394.7C557.6,395.7 554.2,396.0 552.8,395.6C551.5,395.2 549.5,393.1 550.1,392.0Z" fill="#6b6b6b"/>
<path d="M524.2,425.1C524.2,425.6 524.0,426.1 523.7,426.4C523.4,426.7 522.8,426.9 522.4,426.9C522.0,426.9 521.4,426.7 521.1,426.4C520.8,426.1 520.6,425.6 520.6,425.1C520.6,424.7 520.8,424.2 521.1,423.9C521.4,423.6 522.0,423.3 522.4,423.3C522.8,423.3 523.4,423.6 523.7,423.9C524.0,424.2 524.2,424.7 524.2,425.1Z" fill="#666666"/>
</g>
<path d="M501.8,392.9C502.3,390.1 501.7,383.2 506.3,381.3C510.9,379.3 524.5,379.6 529.6,381.3C534.6,382.9 536.1,388.3 536.7,391.1C537.3,394.0 535.2,396.5 533.1,398.3C531.1,400.1 527.8,401.0 524.2,401.9C520.6,402.8 515.1,404.3 511.7,403.7C508.2,403.1 505.2,400.1 503.6,398.3C502.0,396.5 501.4,395.7 501.8,392.9Z" fill="none" stroke="#333" stroke-opacity="0.75" stroke-width="0.55"/>
<path d="M505.4,391.1C506.1,389.0 506.1,385.0 509.9,384.0C513.6,382.9 523.9,383.5 527.8,384.9C531.6,386.2 533.1,389.6 533.1,392.0C533.1,394.4 529.9,397.7 527.8,399.2C525.7,400.7 523.6,400.7 520.6,401.0C517.6,401.3 512.4,401.7 509.9,401.0C507.3,400.2 506.1,398.1 505.4,396.5C504.6,394.9 504.6,393.2 505.4,391.1Z" fill="none" stroke="#333" stroke-opacity="0.75" stroke-width="0.55"/>
<path d="M518.8,407.2C520.3,403.8 525.7,399.3 529.6,397.4C533.4,395.5 537.6,395.0 542.1,395.6C546.6,396.2 552.8,398.1 556.4,401.0C560.0,403.8 562.7,408.9 563.6,412.6C564.5,416.3 563.3,420.1 561.8,423.3C560.3,426.6 557.9,430.2 554.6,432.3C551.3,434.4 545.7,435.9 542.1,435.9C538.5,435.9 535.7,433.8 533.1,432.3C530.6,430.8 529.0,429.3 526.9,426.9C524.8,424.5 522.0,421.3 520.6,418.0C519.3,414.7 517.3,410.7 518.8,407.2Z" fill="none" stroke="#333" stroke-opacity="0.75" stroke-width="0.55"/>
<path d="M522.4,409.0C523.4,406.3 528.1,403.4 531.3,401.9C534.6,400.4 538.2,399.6 542.1,400.1C546.0,400.5 551.8,402.2 554.6,404.6C557.5,406.9 558.8,411.0 559.1,414.4C559.4,417.8 558.1,422.6 556.4,425.1C554.8,427.7 552.2,428.7 549.3,429.6C546.3,430.5 541.5,431.3 538.5,430.5C535.5,429.8 533.6,427.2 531.3,425.1C529.1,423.1 526.6,420.7 525.1,418.0C523.6,415.3 521.4,411.7 522.4,409.0Z" fill="none" stroke="#333" stroke-opacity="0.75" stroke-width="0.55"/>
<path d="M568.0,419.8C568.6,418.1 573.0,416.6 574.3,417.1C575.7,417.5 576.7,420.8 576.1,422.5C575.5,424.1 572.1,427.4 570.7,426.9C569.4,426.5 567.5,421.4 568.0,419.8Z" fill="none" stroke="#333" stroke-opacity="0.75" stroke-width="0.55"/>
<path d="M550.1,392.0C550.7,391.0 555.1,388.9 556.4,389.3C557.8,389.8 558.8,393.7 558.2,394.7C557.6,395.7 554.2,396.0 552.8,395.6C551.5,395.2 549.5,393.1 550.1,392.0Z" fill="none" stroke="#333" stroke-opacity="0.75" stroke-width="0.55"/>
<path d="M524.2,425.1C524.2,425.6 524.0,426.1 523.7,426.4C523.4,426.7 522.8,426.9 522.4,426.9C522.0,426.9 521.4,426.7 521.1,426.4C520.8,426.1 520.6,425.6 520.6,425.1C520.6,424.7 520.8,424.2 521.1,423.9C521.4,423.6 522.0,423.3 522.4,423.3C522.8,423.3 523.4,423.6 523.7,423.9C524.0,424.2 524.2,424.7 524.2,425.1Z" fill="none" stroke="#333" stroke-opacity="0.75" stroke-width="0.55"/>
<path d="M472.3,464.5C472.3,460.0 470.2,442.7 472.3,437.7C474.4,432.6 480.9,435.1 484.8,434.1C488.7,433.0 491.4,430.8 495.5,431.4C499.7,432.0 506.3,433.6 509.9,437.7C513.4,441.7 514.6,451.4 517.0,455.6C519.4,459.7 520.6,461.2 524.2,462.7C527.8,464.2 534.3,464.8 538.5,464.5C542.7,464.2 545.7,462.1 549.3,460.9C552.8,459.7 555.8,460.3 560.0,457.4C564.2,454.4 569.8,447.5 574.3,443.0C578.8,438.6 584.8,432.6 586.8,430.5" fill="none" stroke="#333" stroke-opacity="0.75" stroke-width="0.55"/>
<path d="M488.4,471.7C490.2,470.5 495.8,465.1 499.1,464.5C502.4,463.9 506.3,465.4 508.1,468.1C509.9,470.8 509.6,478.5 509.9,480.6" fill="none" stroke="#333" stroke-opacity="0.75" stroke-width="0.55"/>
</g>
<circle cx="519.2" cy="411.2" r="43.5" fill="none" stroke="#000" stroke-width="1.9"/>
<path d="M511.0,368.5 L517.6,360.5 Q519.1754385964912,359.1 520.8,360.5 L527.4,368.5" fill="none" stroke="#000" stroke-width="1.6" stroke-linejoin="round"/>
<path d="M476.0,400.2 Q471.2,398.2 471.2,403.2 L471.2,419.2 Q471.2,424.2 476.0,422.2" fill="none" stroke="#000" stroke-width="1.5"/>
<path d="M562.4,400.2 Q567.2,398.2 567.2,403.2 L567.2,419.2 Q567.2,424.2 562.4,422.2" fill="none" stroke="#000" stroke-width="1.5"/>
<g clip-path="url(#clip4)"><g filter="url(#jet)">
<rect x="58.6" y="548.4" width="160.4" height="160.4" fill="#808080"/>
<path d="M61.8,630.2C63.5,617.4 67.5,630.4 71.7,630.6C75.9,630.8 82.6,630.6 86.9,631.5C91.2,632.4 94.7,634.0 97.6,636.0C100.6,637.9 101.8,641.1 104.8,643.1C107.8,645.2 111.7,647.3 115.5,648.5C119.4,649.7 124.5,650.6 128.1,650.3C131.7,650.0 134.0,647.0 137.0,646.7C140.0,646.4 143.0,647.6 146.0,648.5C149.0,649.4 151.6,651.9 154.9,652.1C158.2,652.2 162.1,650.9 165.7,649.4C169.3,647.9 173.4,645.4 176.4,643.1C179.4,640.9 180.6,637.8 183.6,636.0C186.6,634.2 190.3,633.3 194.3,632.4C198.3,631.5 203.9,631.0 207.7,630.6C211.6,630.2 215.9,617.4 217.6,630.2C219.2,643.1 243.5,694.7 217.6,707.6C191.6,720.5 87.8,720.5 61.8,707.6C35.9,694.7 60.2,643.1 61.8,630.2Z" fill="#5c5c5c"/>
<g filter="url(#soft)">
<ellipse cx="85.1" cy="653.9" rx="16.1" ry="14.3" fill="#333333"/>
<ellipse cx="144.2" cy="663.7" rx="26.9" ry="8.1" fill="#333333"/>
<ellipse cx="188.9" cy="644.9" rx="10.7" ry="9.0" fill="#383838"/>
<ellipse cx="113.8" cy="682.5" rx="28.6" ry="10.7" fill="#545454"/>
<ellipse cx="176.4" cy="684.3" rx="21.5" ry="10.7" fill="#4c4c4c"/>
<ellipse cx="140.6" cy="644.9" rx="44.8" ry="7.2" fill="#4c4c4c"/>
<ellipse cx="180.0" cy="576.9" rx="23.3" ry="16.1" fill="#949494"/>
<ellipse cx="95.9" cy="585.9" rx="28.6" ry="17.9" fill="#737373"/>
</g>
<path d="M99.4,612.7C101.2,608.2 105.1,603.2 106.6,603.8C108.1,604.4 106.0,612.4 108.4,616.3C110.8,620.2 118.8,623.4 120.9,627.0C123.0,630.6 122.1,635.4 120.9,637.8C119.7,640.2 117.0,641.1 113.8,641.3C110.5,641.6 104.2,641.3 101.2,639.6C98.2,637.8 96.2,635.1 95.9,630.6C95.6,626.1 97.6,617.2 99.4,612.7Z" fill="#999999"/>
<path d="M138.8,621.7C140.3,618.2 145.4,615.1 149.6,613.6C153.7,612.1 159.4,612.0 163.9,612.7C168.4,613.5 173.6,615.4 176.4,618.1C179.2,620.8 180.6,624.9 180.9,628.8C181.2,632.7 180.1,638.1 178.2,641.3C176.3,644.6 172.5,647.3 169.3,648.5C166.0,649.7 162.1,649.4 158.5,648.5C154.9,647.6 150.8,645.5 147.8,643.1C144.8,640.8 142.1,637.8 140.6,634.2C139.1,630.6 137.3,625.1 138.8,621.7Z" fill="#a8a8a8"/>
<path d="M144.2,627.0C145.4,624.5 151.3,620.2 154.9,619.0C158.5,617.8 162.4,618.5 165.7,619.9C169.0,621.2 173.0,624.3 174.6,627.0C176.3,629.7 176.4,633.6 175.5,636.0C174.6,638.4 171.5,640.2 169.3,641.3C167.0,642.5 164.5,643.1 162.1,643.1C159.7,643.1 157.3,642.8 154.9,641.3C152.5,639.9 149.6,636.6 147.8,634.2C146.0,631.8 143.0,629.6 144.2,627.0Z" fill="#bfbfbf"/>
<path d="M153.1,636.0C153.4,634.5 158.5,633.6 160.3,634.2C162.1,634.8 164.2,638.1 163.9,639.6C163.6,641.1 160.3,643.7 158.5,643.1C156.7,642.5 152.8,637.5 153.1,636.0Z" fill="#cccccc"/>
<path d="M145.1,643.1C145.1,644.0 144.6,645.1 144.0,645.7C143.4,646.3 142.3,646.7 141.5,646.7C140.7,646.7 139.6,646.3 139.0,645.7C138.4,645.1 137.9,644.0 137.9,643.1C137.9,642.3 138.4,641.2 139.0,640.6C139.6,640.0 140.7,639.6 141.5,639.6C142.3,639.6 143.4,640.0 144.0,640.6C144.6,641.2 145.1,642.3 145.1,643.1Z" fill="#666666"/>
</g>
<path d="M99.4,612.7C101.2,608.2 105.1,603.2 106.6,603.8C108.1,604.4 106.0,612.4 108.4,616.3C110.8,620.2 118.8,623.4 120.9,627.0C123.0,630.6 122.1,635.4 120.9,637.8C119.7,640.2 117.0,641.1 113.8,641.3C110.5,641.6 104.2,641.3 101.2,639.6C98.2,637.8 96.2,635.1 95.9,630.6C95.6,626.1 97.6,617.2 99.4,612.7Z" fill="none" stroke="#333" stroke-opacity="0.75" stroke-width="0.55"/>
<path d="M138.8,621.7C140.3,618.2 145.4,615.1 149.6,613.6C153.7,612.1 159.4,612.0 163.9,612.7C168.4,613.5 173.6,615.4 176.4,618.1C179.2,620.8 180.6,624.9 180.9,628.8C181.2,632.7 180.1,638.1 178.2,641.3C176.3,644.6 172.5,647.3 169.3,648.5C166.0,649.7 162.1,649.4 158.5,648.5C154.9,647.6 150.8,645.5 147.8,643.1C144.8,640.8 142.1,637.8 140.6,634.2C139.1,630.6 137.3,625.1 138.8,621.7Z" fill="none" stroke="#333" stroke-opacity="0.75" stroke-width="0.55"/>
<path d="M144.2,627.0C145.4,624.5 151.3,620.2 154.9,619.0C158.5,617.8 162.4,618.5 165.7,619.9C169.0,621.2 173.0,624.3 174.6,627.0C176.3,629.7 176.4,633.6 175.5,636.0C174.6,638.4 171.5,640.2 169.3,641.3C167.0,642.5 164.5,643.1 162.1,643.1C159.7,643.1 157.3,642.8 154.9,641.3C152.5,639.9 149.6,636.6 147.8,634.2C146.0,631.8 143.0,629.6 144.2,627.0Z" fill="none" stroke="#333" stroke-opacity="0.75" stroke-width="0.55"/>
<path d="M145.1,643.1C145.1,644.0 144.6,645.1 144.0,645.7C143.4,646.3 142.3,646.7 141.5,646.7C140.7,646.7 139.6,646.3 139.0,645.7C138.4,645.1 137.9,644.0 137.9,643.1C137.9,642.3 138.4,641.2 139.0,640.6C139.6,640.0 140.7,639.6 141.5,639.6C142.3,639.6 143.4,640.0 144.0,640.6C144.6,641.2 145.1,642.3 145.1,643.1Z" fill="none" stroke="#333" stroke-opacity="0.75" stroke-width="0.55"/>
<path d="M71.7,627.0C74.2,627.2 82.6,627.0 86.9,627.9C91.2,628.8 94.7,630.5 97.6,632.4C100.6,634.3 101.8,637.5 104.8,639.6C107.8,641.6 111.7,643.7 115.5,644.9C119.4,646.1 124.5,647.0 128.1,646.7C131.7,646.4 134.0,643.4 137.0,643.1C140.0,642.8 143.0,644.0 146.0,644.9C149.0,645.8 151.6,648.4 154.9,648.5C158.2,648.7 162.1,647.3 165.7,645.8C169.3,644.3 173.4,641.8 176.4,639.6C179.4,637.3 180.6,634.2 183.6,632.4C186.6,630.6 190.3,629.7 194.3,628.8C198.3,627.9 205.5,627.3 207.7,627.0" fill="none" stroke="#333" stroke-opacity="0.75" stroke-width="0.55"/>
<path d="M71.7,630.6C74.2,630.8 82.6,630.6 86.9,631.5C91.2,632.4 94.7,634.0 97.6,636.0C100.6,637.9 101.8,641.1 104.8,643.1C107.8,645.2 111.7,647.3 115.5,648.5C119.4,649.7 124.5,650.6 128.1,650.3C131.7,650.0 134.0,647.0 137.0,646.7C140.0,646.4 143.0,647.6 146.0,648.5C149.0,649.4 151.6,651.9 154.9,652.1C158.2,652.2 162.1,650.9 165.7,649.4C169.3,647.9 173.4,645.4 176.4,643.1C179.4,640.9 180.6,637.8 183.6,636.0C186.6,634.2 190.3,633.3 194.3,632.4C198.3,631.5 205.5,630.9 207.7,630.6" fill="none" stroke="#333" stroke-opacity="0.75" stroke-width="0.55"/>
<path d="M71.7,637.8C74.8,638.1 85.6,637.8 90.5,639.6C95.4,641.3 97.9,645.2 101.2,648.5C104.5,651.8 106.9,656.9 110.2,659.3C113.5,661.6 116.4,661.9 120.9,662.8C125.4,663.7 132.3,664.6 137.0,664.6C141.8,664.6 145.1,663.7 149.6,662.8C154.0,661.9 159.4,660.7 163.9,659.3C168.4,657.8 173.1,656.6 176.4,653.9C179.7,651.2 180.6,645.8 183.6,643.1C186.6,640.5 190.3,639.0 194.3,637.8C198.3,636.6 205.5,636.3 207.7,636.0" fill="none" stroke="#333" stroke-opacity="0.75" stroke-width="0.55"/>
<path d="M79.7,594.8C82.4,593.0 90.2,587.6 95.9,584.1C101.5,580.5 109.9,576.6 113.8,573.3C117.6,570.0 118.2,565.9 119.1,564.4" fill="none" stroke="#333" stroke-opacity="0.75" stroke-width="0.55"/>
<path d="M160.3,564.4C161.8,566.2 165.1,572.1 169.3,575.1C173.4,578.1 182.7,581.1 185.4,582.3" fill="none" stroke="#333" stroke-opacity="0.75" stroke-width="0.55"/>
<path d="M131.7,591.2C133.7,592.4 140.6,598.1 144.2,598.4C147.8,598.7 150.8,595.7 153.1,593.0C155.5,590.3 160.0,585.0 158.5,582.3C157.0,579.6 146.6,577.8 144.2,576.9" fill="none" stroke="#333" stroke-opacity="0.75" stroke-width="0.55"/>
<path d="M197.5,615.4C197.5,616.2 197.1,617.1 196.6,617.7C196.1,618.2 195.1,618.6 194.3,618.6C193.6,618.6 192.6,618.2 192.0,617.7C191.5,617.1 191.1,616.2 191.1,615.4C191.1,614.6 191.5,613.6 192.0,613.1C192.6,612.6 193.6,612.2 194.3,612.2C195.1,612.2 196.1,612.6 196.6,613.1C197.1,613.6 197.5,614.6 197.5,615.4Z" fill="none" stroke="#333" stroke-opacity="0.75" stroke-width="0.55"/>
</g>
<circle cx="139.4" cy="628.8" r="42.8" fill="none" stroke="#000" stroke-width="1.9"/>
<path d="M131.2,586.8 L137.8,578.8 Q139.35445757250267,577.4 141.0,578.8 L147.6,586.8" fill="none" stroke="#000" stroke-width="1.6" stroke-linejoin="round"/>
<path d="M96.9,617.8 Q92.1,615.8 92.1,620.8 L92.1,636.8 Q92.1,641.8 96.9,639.8" fill="none" stroke="#000" stroke-width="1.5"/>
<path d="M181.8,617.8 Q186.6,615.8 186.6,620.8 L186.6,636.8 Q186.6,641.8 181.8,639.8" fill="none" stroke="#000" stroke-width="1.5"/>
<g clip-path="url(#clip5)"><g filter="url(#jet)">
<rect x="441.1" y="552.8" width="160.4" height="160.4" fill="#808080"/>
<path d="M443.8,631.7C445.5,618.5 450.1,631.9 453.7,632.1C457.3,632.3 461.3,631.5 465.3,632.8C469.3,634.1 474.3,636.7 477.9,640.0C481.4,643.3 482.9,649.8 486.8,652.5C490.7,655.2 496.9,654.9 501.1,656.1C505.3,657.3 508.3,658.8 511.9,659.7C515.4,660.6 518.7,661.5 522.6,661.5C526.5,661.5 531.0,660.6 535.1,659.7C539.3,658.8 543.8,658.2 547.7,656.1C551.5,654.0 555.4,649.5 558.4,647.1C561.4,644.8 562.6,643.7 565.6,641.8C568.6,639.8 572.3,636.8 576.3,635.5C580.3,634.2 585.9,634.2 589.7,633.9C593.6,633.6 597.9,620.6 599.6,633.5C601.2,646.5 625.5,698.6 599.6,711.6C573.6,724.6 469.8,724.9 443.8,711.6C417.9,698.3 442.2,645.0 443.8,631.7Z" fill="#5e5e5e"/>
<g filter="url(#soft)">
<ellipse cx="468.9" cy="650.0" rx="14.3" ry="12.5" fill="#292929"/>
<ellipse cx="492.2" cy="657.9" rx="10.7" ry="7.2" fill="#333333"/>
<ellipse cx="526.2" cy="669.7" rx="28.6" ry="7.2" fill="#383838"/>
<ellipse cx="570.9" cy="648.2" rx="8.1" ry="8.1" fill="#4c4c4c"/>
<ellipse cx="504.7" cy="688.3" rx="35.8" ry="10.7" fill="#5c5c5c"/>
<ellipse cx="562.0" cy="606.0" rx="26.9" ry="19.7" fill="#999999"/>
<ellipse cx="486.8" cy="598.8" rx="25.1" ry="16.1" fill="#757575"/>
</g>
<path d="M479.6,625.7C481.4,622.4 486.2,619.8 490.4,618.5C494.6,617.2 500.8,617.0 504.7,617.6C508.6,618.2 511.3,619.5 513.7,622.1C516.0,624.6 518.3,629.5 519.0,632.8C519.8,636.1 519.3,639.1 518.1,641.8C516.9,644.5 514.1,646.8 511.9,648.9C509.6,651.0 507.7,653.7 504.7,654.3C501.7,654.9 497.2,653.7 494.0,652.5C490.7,651.3 487.4,649.5 485.0,647.1C482.6,644.8 480.5,641.8 479.6,638.2C478.7,634.6 477.9,628.9 479.6,625.7Z" fill="#b8b8b8"/>
<path d="M482.3,629.2C483.8,626.3 488.4,623.4 492.2,622.1C495.9,620.7 501.3,620.3 504.7,621.2C508.1,622.1 511.1,624.6 512.8,627.4C514.4,630.3 515.3,634.9 514.6,638.2C513.8,641.5 510.8,645.1 508.3,647.1C505.7,649.2 502.3,650.7 499.3,650.7C496.4,650.7 493.1,648.9 490.4,647.1C487.7,645.3 484.6,643.0 483.2,640.0C481.9,637.0 480.8,632.2 482.3,629.2Z" fill="#ffffff"/>
<path d="M525.3,627.4C526.6,624.2 529.6,620.3 533.3,618.5C537.1,616.7 543.2,616.1 547.7,616.7C552.1,617.3 557.7,619.1 560.2,622.1C562.7,625.1 562.9,630.4 562.9,634.6C562.9,638.8 562.1,644.2 560.2,647.1C558.3,650.1 554.8,651.6 551.3,652.5C547.7,653.4 542.3,653.4 538.7,652.5C535.1,651.6 532.0,649.5 529.8,647.1C527.5,644.8 526.0,641.5 525.3,638.2C524.5,634.9 524.0,630.7 525.3,627.4Z" fill="#b2b2b2"/>
<path d="M528.9,631.0C529.5,627.7 533.2,625.2 536.0,623.9C538.9,622.5 542.3,622.1 545.9,623.0C549.5,623.9 555.4,626.4 557.5,629.2C559.6,632.1 559.2,637.0 558.4,640.0C557.7,643.0 556.0,645.6 553.0,647.1C550.1,648.6 543.9,649.5 540.5,648.9C537.1,648.3 534.4,646.5 532.5,643.6C530.5,640.6 528.3,634.3 528.9,631.0Z" fill="#e0e0e0"/>
<path d="M523.5,646.2C523.5,647.1 523.1,648.2 522.5,648.8C521.9,649.4 520.8,649.8 519.9,649.8C519.1,649.8 518.0,649.4 517.4,648.8C516.8,648.2 516.3,647.1 516.3,646.2C516.3,645.4 516.8,644.3 517.4,643.7C518.0,643.1 519.1,642.7 519.9,642.7C520.8,642.7 521.9,643.1 522.5,643.7C523.1,644.3 523.5,645.4 523.5,646.2Z" fill="#616161"/>
</g>
<path d="M479.6,625.7C481.4,622.4 486.2,619.8 490.4,618.5C494.6,617.2 500.8,617.0 504.7,617.6C508.6,618.2 511.3,619.5 513.7,622.1C516.0,624.6 518.3,629.5 519.0,632.8C519.8,636.1 519.3,639.1 518.1,641.8C516.9,644.5 514.1,646.8 511.9,648.9C509.6,651.0 507.7,653.7 504.7,654.3C501.7,654.9 497.2,653.7 494.0,652.5C490.7,651.3 487.4,649.5 485.0,647.1C482.6,644.8 480.5,641.8 479.6,638.2C478.7,634.6 477.9,628.9 479.6,625.7Z" fill="none" stroke="#333" stroke-opacity="0.75" stroke-width="0.55"/>
<path d="M482.3,629.2C483.8,626.3 488.4,623.4 492.2,622.1C495.9,620.7 501.3,620.3 504.7,621.2C508.1,622.1 511.1,624.6 512.8,627.4C514.4,630.3 515.3,634.9 514.6,638.2C513.8,641.5 510.8,645.1 508.3,647.1C505.7,649.2 502.3,650.7 499.3,650.7C496.4,650.7 493.1,648.9 490.4,647.1C487.7,645.3 484.6,643.0 483.2,640.0C481.9,637.0 480.8,632.2 482.3,629.2Z" fill="none" stroke="#333" stroke-opacity="0.75" stroke-width="0.55"/>
<path d="M525.3,627.4C526.6,624.2 529.6,620.3 533.3,618.5C537.1,616.7 543.2,616.1 547.7,616.7C552.1,617.3 557.7,619.1 560.2,622.1C562.7,625.1 562.9,630.4 562.9,634.6C562.9,638.8 562.1,644.2 560.2,647.1C558.3,650.1 554.8,651.6 551.3,652.5C547.7,653.4 542.3,653.4 538.7,652.5C535.1,651.6 532.0,649.5 529.8,647.1C527.5,644.8 526.0,641.5 525.3,638.2C524.5,634.9 524.0,630.7 525.3,627.4Z" fill="none" stroke="#333" stroke-opacity="0.75" stroke-width="0.55"/>
<path d="M528.9,631.0C529.5,627.7 533.2,625.2 536.0,623.9C538.9,622.5 542.3,622.1 545.9,623.0C549.5,623.9 555.4,626.4 557.5,629.2C559.6,632.1 559.2,637.0 558.4,640.0C557.7,643.0 556.0,645.6 553.0,647.1C550.1,648.6 543.9,649.5 540.5,648.9C537.1,648.3 534.4,646.5 532.5,643.6C530.5,640.6 528.3,634.3 528.9,631.0Z" fill="none" stroke="#333" stroke-opacity="0.75" stroke-width="0.55"/>
<path d="M523.5,646.2C523.5,647.1 523.1,648.2 522.5,648.8C521.9,649.4 520.8,649.8 519.9,649.8C519.1,649.8 518.0,649.4 517.4,648.8C516.8,648.2 516.3,647.1 516.3,646.2C516.3,645.4 516.8,644.3 517.4,643.7C518.0,643.1 519.1,642.7 519.9,642.7C520.8,642.7 521.9,643.1 522.5,643.7C523.1,644.3 523.5,645.4 523.5,646.2Z" fill="none" stroke="#333" stroke-opacity="0.75" stroke-width="0.55"/>
<path d="M453.7,632.1C455.6,632.2 461.3,631.5 465.3,632.8C469.3,634.1 474.3,636.7 477.9,640.0C481.4,643.3 482.9,649.8 486.8,652.5C490.7,655.2 496.9,654.9 501.1,656.1C505.3,657.3 508.3,658.8 511.9,659.7C515.4,660.6 518.7,661.5 522.6,661.5C526.5,661.5 531.0,660.6 535.1,659.7C539.3,658.8 543.8,658.2 547.7,656.1C551.5,654.0 555.4,649.5 558.4,647.1C561.4,644.8 562.6,643.7 565.6,641.8C568.6,639.8 572.3,636.8 576.3,635.5C580.3,634.2 587.5,634.2 589.7,633.9" fill="none" stroke="#333" stroke-opacity="0.75" stroke-width="0.55"/>
<path d="M456.4,607.8C459.1,606.9 469.5,605.1 472.5,602.4C475.5,599.7 475.2,593.7 474.3,591.6C473.4,589.6 468.3,590.2 467.1,589.9" fill="none" stroke="#333" stroke-opacity="0.75" stroke-width="0.55"/>
<path d="M474.3,614.9C476.1,613.7 482.9,611.9 485.0,607.8C487.1,603.6 484.1,594.3 486.8,589.9C489.5,585.4 497.2,581.5 501.1,580.9C505.0,580.3 510.7,583.3 510.1,586.3C509.5,589.3 499.9,595.5 497.5,598.8C495.2,602.1 493.7,604.2 495.8,606.0C497.8,607.8 505.6,607.2 510.1,609.5C514.6,611.9 520.5,618.5 522.6,620.3" fill="none" stroke="#333" stroke-opacity="0.75" stroke-width="0.55"/>
<path d="M456.4,638.2C457.3,641.8 458.2,653.7 461.7,659.7C465.3,665.6 470.7,669.8 477.9,674.0C485.0,678.2 497.2,682.3 504.7,684.7C512.2,687.1 517.2,688.9 522.6,688.3C528.0,687.7 534.5,682.3 536.9,681.2" fill="none" stroke="#333" stroke-opacity="0.75" stroke-width="0.55"/>
<path d="M551.3,691.9C552.1,689.5 554.2,679.7 556.6,677.6C559.0,675.5 564.1,679.1 565.6,679.4" fill="none" stroke="#333" stroke-opacity="0.75" stroke-width="0.55"/>
<path d="M577.2,648.9C577.2,650.4 576.4,652.3 575.4,653.4C574.3,654.4 572.4,655.2 570.9,655.2C569.5,655.2 567.6,654.4 566.5,653.4C565.5,652.3 564.7,650.4 564.7,648.9C564.7,647.5 565.5,645.5 566.5,644.5C567.6,643.5 569.5,642.7 570.9,642.7C572.4,642.7 574.3,643.5 575.4,644.5C576.4,645.5 577.2,647.5 577.2,648.9Z" fill="none" stroke="#333" stroke-opacity="0.75" stroke-width="0.55"/>
</g>
<circle cx="521.4" cy="633.2" r="42.8" fill="none" stroke="#000" stroke-width="1.9"/>
<path d="M513.2,591.2 L519.8,583.2 Q521.3544575725027,581.8 523.0,583.2 L529.6,591.2" fill="none" stroke="#000" stroke-width="1.6" stroke-linejoin="round"/>
<path d="M478.9,622.2 Q474.1,620.2 474.1,625.2 L474.1,641.2 Q474.1,646.2 478.9,644.2" fill="none" stroke="#000" stroke-width="1.5"/>
<path d="M563.8,622.2 Q568.6,620.2 568.6,625.2 L568.6,641.2 Q568.6,646.2 563.8,644.2" fill="none" stroke="#000" stroke-width="1.5"/>
<g clip-path="url(#clip6)"><g filter="url(#jet)">
<rect x="59.1" y="727.1" width="159.7" height="159.7" fill="#787878"/>
<path d="M61.8,811.8C63.5,799.6 68.1,811.8 71.7,812.2C75.3,812.5 79.0,813.0 83.3,814.0C87.6,814.9 93.5,815.5 97.6,817.9C101.8,820.4 104.2,826.3 108.4,828.7C112.6,831.0 117.9,831.2 122.7,832.2C127.5,833.3 132.3,834.6 137.0,834.9C141.8,835.2 146.6,834.8 151.3,834.0C156.1,833.3 161.5,831.9 165.7,830.4C169.8,829.0 173.4,827.2 176.4,825.1C179.4,823.0 180.6,820.3 183.6,817.9C186.6,815.5 190.3,812.2 194.3,810.8C198.3,809.3 203.9,809.3 207.7,809.0C211.6,808.6 215.9,795.8 217.6,808.6C219.2,821.4 243.5,872.8 217.6,885.6C191.6,898.4 87.8,897.9 61.8,885.6C35.9,873.3 60.2,824.1 61.8,811.8Z" fill="#4f4f4f"/>
<g filter="url(#soft)">
<ellipse cx="140.6" cy="842.6" rx="50.1" ry="9.0" fill="#3b3b3b"/>
<ellipse cx="85.1" cy="831.9" rx="16.1" ry="10.7" fill="#404040"/>
<ellipse cx="187.2" cy="826.5" rx="14.3" ry="10.7" fill="#404040"/>
<ellipse cx="140.6" cy="862.3" rx="46.5" ry="10.7" fill="#4a4a4a"/>
<ellipse cx="113.8" cy="805.0" rx="28.6" ry="26.9" fill="#8c8c8c"/>
<ellipse cx="180.0" cy="763.9" rx="25.1" ry="16.1" fill="#707070"/>
</g>
<path d="M138.8,801.4C140.0,797.9 143.9,794.3 147.8,792.5C151.6,790.7 157.3,790.1 162.1,790.7C166.9,791.3 173.3,793.4 176.4,796.1C179.5,798.8 180.6,802.9 180.9,806.8C181.2,810.7 180.1,815.8 178.2,819.3C176.3,822.9 172.8,826.5 169.3,828.3C165.7,830.1 160.3,831.0 156.7,830.1C153.1,829.2 150.5,825.6 147.8,822.9C145.1,820.2 142.1,817.6 140.6,814.0C139.1,810.4 137.6,805.0 138.8,801.4Z" fill="#a8a8a8"/>
<path d="M144.2,805.0C145.4,802.6 149.6,799.2 153.1,797.9C156.7,796.5 161.9,795.8 165.7,797.0C169.4,798.2 173.7,802.2 175.5,805.0C177.3,807.9 177.5,811.3 176.4,814.0C175.4,816.7 171.9,819.5 169.3,821.1C166.6,822.8 163.3,824.1 160.3,823.8C157.3,823.5 153.7,821.3 151.3,819.3C149.0,817.4 147.2,814.6 146.0,812.2C144.8,809.8 143.0,807.4 144.2,805.0Z" fill="#d1d1d1"/>
<path d="M150.5,782.6C150.5,783.7 149.9,785.1 149.1,785.8C148.4,786.6 147.0,787.1 146.0,787.1C144.9,787.1 143.6,786.6 142.8,785.8C142.1,785.1 141.5,783.7 141.5,782.6C141.5,781.6 142.1,780.2 142.8,779.5C143.6,778.7 144.9,778.2 146.0,778.2C147.0,778.2 148.4,778.7 149.1,779.5C149.9,780.2 150.5,781.6 150.5,782.6Z" fill="#737373"/>
<path d="M143.3,821.1C143.3,821.6 143.1,822.1 142.8,822.4C142.5,822.7 141.9,822.9 141.5,822.9C141.1,822.9 140.5,822.7 140.2,822.4C139.9,822.1 139.7,821.6 139.7,821.1C139.7,820.7 139.9,820.2 140.2,819.9C140.5,819.6 141.1,819.3 141.5,819.3C141.9,819.3 142.5,819.6 142.8,819.9C143.1,820.2 143.3,820.7 143.3,821.1Z" fill="#6b6b6b"/>
</g>
<path d="M138.8,801.4C140.0,797.9 143.9,794.3 147.8,792.5C151.6,790.7 157.3,790.1 162.1,790.7C166.9,791.3 173.3,793.4 176.4,796.1C179.5,798.8 180.6,802.9 180.9,806.8C181.2,810.7 180.1,815.8 178.2,819.3C176.3,822.9 172.8,826.5 169.3,828.3C165.7,830.1 160.3,831.0 156.7,830.1C153.1,829.2 150.5,825.6 147.8,822.9C145.1,820.2 142.1,817.6 140.6,814.0C139.1,810.4 137.6,805.0 138.8,801.4Z" fill="none" stroke="#333" stroke-opacity="0.75" stroke-width="0.55"/>
<path d="M144.2,805.0C145.4,802.6 149.6,799.2 153.1,797.9C156.7,796.5 161.9,795.8 165.7,797.0C169.4,798.2 173.7,802.2 175.5,805.0C177.3,807.9 177.5,811.3 176.4,814.0C175.4,816.7 171.9,819.5 169.3,821.1C166.6,822.8 163.3,824.1 160.3,823.8C157.3,823.5 153.7,821.3 151.3,819.3C149.0,817.4 147.2,814.6 146.0,812.2C144.8,809.8 143.0,807.4 144.2,805.0Z" fill="none" stroke="#333" stroke-opacity="0.75" stroke-width="0.55"/>
<path d="M150.5,782.6C150.5,783.7 149.9,785.1 149.1,785.8C148.4,786.6 147.0,787.1 146.0,787.1C144.9,787.1 143.6,786.6 142.8,785.8C142.1,785.1 141.5,783.7 141.5,782.6C141.5,781.6 142.1,780.2 142.8,779.5C143.6,778.7 144.9,778.2 146.0,778.2C147.0,778.2 148.4,778.7 149.1,779.5C149.9,780.2 150.5,781.6 150.5,782.6Z" fill="none" stroke="#333" stroke-opacity="0.75" stroke-width="0.55"/>
<path d="M143.3,821.1C143.3,821.6 143.1,822.1 142.8,822.4C142.5,822.7 141.9,822.9 141.5,822.9C141.1,822.9 140.5,822.7 140.2,822.4C139.9,822.1 139.7,821.6 139.7,821.1C139.7,820.7 139.9,820.2 140.2,819.9C140.5,819.6 141.1,819.3 141.5,819.3C141.9,819.3 142.5,819.6 142.8,819.9C143.1,820.2 143.3,820.7 143.3,821.1Z" fill="none" stroke="#333" stroke-opacity="0.75" stroke-width="0.55"/>
<path d="M71.7,812.2C73.6,812.5 79.0,813.0 83.3,814.0C87.6,814.9 93.5,815.5 97.6,817.9C101.8,820.4 104.2,826.3 108.4,828.7C112.6,831.0 117.9,831.2 122.7,832.2C127.5,833.3 132.3,834.6 137.0,834.9C141.8,835.2 146.6,834.8 151.3,834.0C156.1,833.3 161.5,831.9 165.7,830.4C169.8,829.0 173.4,827.2 176.4,825.1C179.4,823.0 180.6,820.3 183.6,817.9C186.6,815.5 190.3,812.2 194.3,810.8C198.3,809.3 205.5,809.3 207.7,809.0" fill="none" stroke="#333" stroke-opacity="0.75" stroke-width="0.55"/>
<path d="M71.7,807.7C73.6,808.0 79.0,808.6 83.3,809.5C87.6,810.4 93.5,810.7 97.6,813.1C101.8,815.5 104.2,821.4 108.4,823.8C112.6,826.2 117.9,826.4 122.7,827.4C127.5,828.4 132.3,829.8 137.0,830.1C141.8,830.4 146.6,829.9 151.3,829.2C156.1,828.4 161.5,827.1 165.7,825.6C169.8,824.1 173.4,822.3 176.4,820.2C179.4,818.2 180.6,815.5 183.6,813.1C186.6,810.7 190.3,807.4 194.3,805.9C198.3,804.4 205.5,804.4 207.7,804.1" fill="none" stroke="#333" stroke-opacity="0.75" stroke-width="0.55"/>
<path d="M95.9,754.9C99.4,756.7 114.9,761.2 117.3,765.6C119.7,770.1 108.7,778.8 110.2,781.8C111.7,784.7 123.3,780.3 126.3,783.5C129.3,786.8 128.7,796.7 128.1,801.4C127.5,806.2 121.8,808.9 122.7,812.2C123.6,815.5 131.4,817.6 133.4,821.1C135.5,824.7 134.9,831.6 135.2,833.7" fill="none" stroke="#333" stroke-opacity="0.75" stroke-width="0.55"/>
<path d="M78.0,778.2C80.9,777.9 92.6,774.9 95.9,776.4C99.1,777.9 99.1,784.7 97.6,787.1C96.2,789.5 88.7,790.1 86.9,790.7" fill="none" stroke="#333" stroke-opacity="0.75" stroke-width="0.55"/>
<path d="M71.7,805.0C73.9,803.5 80.8,796.1 85.1,796.1C89.4,796.1 93.8,800.9 97.6,805.0C101.5,809.2 106.6,818.5 108.4,821.1" fill="none" stroke="#333" stroke-opacity="0.75" stroke-width="0.55"/>
<path d="M138.8,862.3C138.8,863.2 138.4,864.2 137.8,864.8C137.2,865.4 136.1,865.9 135.2,865.9C134.4,865.9 133.3,865.4 132.7,864.8C132.1,864.2 131.7,863.2 131.7,862.3C131.7,861.5 132.1,860.4 132.7,859.8C133.3,859.2 134.4,858.7 135.2,858.7C136.1,858.7 137.2,859.2 137.8,859.8C138.4,860.4 138.8,861.5 138.8,862.3Z" fill="none" stroke="#333" stroke-opacity="0.75" stroke-width="0.55"/>
<path d="" fill="none" stroke="#333" stroke-opacity="0.75" stroke-width="0.55"/>
<path d="M169.3,842.6C172.2,841.7 183.0,839.3 187.2,837.3C191.3,835.2 193.1,831.3 194.3,830.1" fill="none" stroke="#333" stroke-opacity="0.75" stroke-width="0.55"/>
</g>
<circle cx="139.4" cy="806.8" r="42.8" fill="none" stroke="#000" stroke-width="1.9"/>
<path d="M131.2,764.8 L137.8,756.8 Q139.35445757250267,755.4 141.0,756.8 L147.6,764.8" fill="none" stroke="#000" stroke-width="1.6" stroke-linejoin="round"/>
<path d="M96.9,795.8 Q92.1,793.8 92.1,798.8 L92.1,814.8 Q92.1,819.8 96.9,817.8" fill="none" stroke="#000" stroke-width="1.5"/>
<path d="M181.8,795.8 Q186.6,793.8 186.6,798.8 L186.6,814.8 Q186.6,819.8 181.8,817.8" fill="none" stroke="#000" stroke-width="1.5"/>
<g clip-path="url(#clip7)"><g filter="url(#jet)">
<rect x="440.1" y="733.0" width="160.1" height="160.1" fill="#8c8c8c"/>
<path d="M442.8,815.3C444.5,802.7 448.5,815.3 452.7,815.7C456.9,816.0 464.2,816.3 467.9,817.5C471.6,818.7 472.7,821.5 475.1,822.8C477.4,824.2 479.2,823.9 482.2,825.3C485.2,826.8 489.4,829.2 493.0,831.6C496.5,834.0 499.5,837.5 503.7,839.7C507.9,841.8 513.3,843.9 518.0,844.7C522.8,845.4 527.6,845.1 532.3,844.1C537.1,843.2 542.5,841.0 546.7,838.8C550.8,836.5 554.1,833.6 557.4,830.7C560.7,827.9 563.4,824.3 566.4,821.8C569.3,819.3 571.6,816.8 575.3,815.7C579.0,814.5 584.9,815.0 588.7,814.8C592.6,814.6 596.9,801.6 598.6,814.4C600.2,827.2 624.5,878.7 598.6,891.6C572.6,904.4 468.8,904.3 442.8,891.6C416.9,878.9 441.2,828.0 442.8,815.3Z" fill="#575757"/>
<g filter="url(#soft)">
<ellipse cx="494.8" cy="811.0" rx="25.1" ry="19.7" fill="#858585"/>
<ellipse cx="521.6" cy="852.2" rx="50.1" ry="10.7" fill="#333333"/>
<ellipse cx="466.1" cy="830.7" rx="14.3" ry="12.5" fill="#363636"/>
<ellipse cx="569.9" cy="828.9" rx="12.5" ry="10.7" fill="#363636"/>
<ellipse cx="503.7" cy="871.9" rx="28.6" ry="9.0" fill="#4c4c4c"/>
<ellipse cx="557.4" cy="864.7" rx="17.9" ry="10.7" fill="#454545"/>
</g>
<path d="M520.7,805.7C522.5,802.2 528.0,798.8 532.3,797.6C536.7,796.4 542.2,797.5 546.7,798.5C551.1,799.5 556.8,801.2 559.2,803.9C561.6,806.6 561.3,810.7 561.0,814.6C560.7,818.5 559.5,823.9 557.4,827.1C555.3,830.4 551.7,833.0 548.5,834.3C545.2,835.6 541.0,836.1 537.7,835.2C534.4,834.3 531.5,831.8 528.8,828.9C526.1,826.1 523.0,822.1 521.6,818.2C520.3,814.3 518.9,809.1 520.7,805.7Z" fill="#a8a8a8"/>
<path d="M525.2,810.1C526.7,807.9 532.1,803.9 535.9,803.0C539.8,802.1 545.0,803.4 548.5,804.8C551.9,806.1 555.3,808.2 556.5,811.0C557.7,813.9 557.0,818.8 555.6,821.8C554.3,824.8 551.1,827.7 548.5,828.9C545.8,830.1 542.2,829.8 539.5,828.9C536.8,828.0 534.4,825.6 532.3,823.6C530.3,821.5 528.2,818.6 527.0,816.4C525.8,814.2 523.7,812.4 525.2,810.1Z" fill="#cccccc"/>
<path d="M535.9,813.7C537.1,812.5 542.9,812.1 544.9,812.8C546.8,813.6 548.2,816.7 547.6,818.2C547.0,819.7 542.9,821.5 541.3,821.8C539.7,822.1 538.6,821.3 537.7,820.0C536.8,818.6 534.7,814.9 535.9,813.7Z" fill="#b8b8b8"/>
<path d="M493.0,820.0C493.0,820.8 492.5,821.9 491.9,822.5C491.3,823.1 490.2,823.6 489.4,823.6C488.5,823.6 487.4,823.1 486.9,822.5C486.3,821.9 485.8,820.8 485.8,820.0C485.8,819.1 486.3,818.0 486.9,817.4C487.4,816.8 488.5,816.4 489.4,816.4C490.2,816.4 491.3,816.8 491.9,817.4C492.5,818.0 493.0,819.1 493.0,820.0Z" fill="#808080"/>
<path d="M527.0,826.2C527.0,827.1 526.5,828.2 525.9,828.8C525.3,829.4 524.2,829.8 523.4,829.8C522.6,829.8 521.5,829.4 520.9,828.8C520.3,828.2 519.8,827.1 519.8,826.2C519.8,825.4 520.3,824.3 520.9,823.7C521.5,823.1 522.6,822.7 523.4,822.7C524.2,822.7 525.3,823.1 525.9,823.7C526.5,824.3 527.0,825.4 527.0,826.2Z" fill="#808080"/>
</g>
<path d="M520.7,805.7C522.5,802.2 528.0,798.8 532.3,797.6C536.7,796.4 542.2,797.5 546.7,798.5C551.1,799.5 556.8,801.2 559.2,803.9C561.6,806.6 561.3,810.7 561.0,814.6C560.7,818.5 559.5,823.9 557.4,827.1C555.3,830.4 551.7,833.0 548.5,834.3C545.2,835.6 541.0,836.1 537.7,835.2C534.4,834.3 531.5,831.8 528.8,828.9C526.1,826.1 523.0,822.1 521.6,818.2C520.3,814.3 518.9,809.1 520.7,805.7Z" fill="none" stroke="#333" stroke-opacity="0.75" stroke-width="0.55"/>
<path d="M525.2,810.1C526.7,807.9 532.1,803.9 535.9,803.0C539.8,802.1 545.0,803.4 548.5,804.8C551.9,806.1 555.3,808.2 556.5,811.0C557.7,813.9 557.0,818.8 555.6,821.8C554.3,824.8 551.1,827.7 548.5,828.9C545.8,830.1 542.2,829.8 539.5,828.9C536.8,828.0 534.4,825.6 532.3,823.6C530.3,821.5 528.2,818.6 527.0,816.4C525.8,814.2 523.7,812.4 525.2,810.1Z" fill="none" stroke="#333" stroke-opacity="0.75" stroke-width="0.55"/>
<path d="M535.9,813.7C537.1,812.5 542.9,812.1 544.9,812.8C546.8,813.6 548.2,816.7 547.6,818.2C547.0,819.7 542.9,821.5 541.3,821.8C539.7,822.1 538.6,821.3 537.7,820.0C536.8,818.6 534.7,814.9 535.9,813.7Z" fill="none" stroke="#333" stroke-opacity="0.75" stroke-width="0.55"/>
<path d="M493.0,820.0C493.0,820.8 492.5,821.9 491.9,822.5C491.3,823.1 490.2,823.6 489.4,823.6C488.5,823.6 487.4,823.1 486.9,822.5C486.3,821.9 485.8,820.8 485.8,820.0C485.8,819.1 486.3,818.0 486.9,817.4C487.4,816.8 488.5,816.4 489.4,816.4C490.2,816.4 491.3,816.8 491.9,817.4C492.5,818.0 493.0,819.1 493.0,820.0Z" fill="none" stroke="#333" stroke-opacity="0.75" stroke-width="0.55"/>
<path d="M527.0,826.2C527.0,827.1 526.5,828.2 525.9,828.8C525.3,829.4 524.2,829.8 523.4,829.8C522.6,829.8 521.5,829.4 520.9,828.8C520.3,828.2 519.8,827.1 519.8,826.2C519.8,825.4 520.3,824.3 520.9,823.7C521.5,823.1 522.6,822.7 523.4,822.7C524.2,822.7 525.3,823.1 525.9,823.7C526.5,824.3 527.0,825.4 527.0,826.2Z" fill="none" stroke="#333" stroke-opacity="0.75" stroke-width="0.55"/>
<path d="M452.7,805.7C455.8,806.3 465.1,808.3 471.5,809.2C477.9,810.1 486.4,809.5 491.2,811.0C495.9,812.5 499.2,815.2 500.1,818.2C501.0,821.2 495.1,825.9 496.5,828.9C498.0,831.9 504.3,834.6 509.1,836.1C513.9,837.6 520.1,837.9 525.2,837.9C530.3,837.9 535.0,837.3 539.5,836.1C544.0,834.9 547.9,832.8 552.0,830.7C556.2,828.6 560.7,826.8 564.6,823.6C568.5,820.3 571.4,812.8 575.3,811.0C579.3,809.2 586.1,812.5 588.2,812.8" fill="none" stroke="#333" stroke-opacity="0.75" stroke-width="0.55"/>
<path d="M452.7,815.7C455.2,816.0 464.2,816.3 467.9,817.5C471.6,818.7 472.7,821.5 475.1,822.8C477.4,824.2 479.2,823.9 482.2,825.3C485.2,826.8 489.4,829.2 493.0,831.6C496.5,834.0 499.5,837.5 503.7,839.7C507.9,841.8 513.3,843.9 518.0,844.7C522.8,845.4 527.6,845.1 532.3,844.1C537.1,843.2 542.5,841.0 546.7,838.8C550.8,836.5 554.1,833.6 557.4,830.7C560.7,827.9 563.4,824.3 566.4,821.8C569.3,819.3 571.6,816.8 575.3,815.7C579.0,814.5 586.5,814.9 588.7,814.8" fill="none" stroke="#333" stroke-opacity="0.75" stroke-width="0.55"/>
<path d="M480.4,861.2C481.3,859.1 482.8,849.2 485.8,848.6C488.8,848.0 496.5,854.3 498.3,857.6C500.1,860.9 499.5,866.5 496.5,868.3C493.6,870.1 483.1,868.3 480.4,868.3" fill="none" stroke="#333" stroke-opacity="0.75" stroke-width="0.55"/>
<path d="M518.0,864.7C518.0,865.8 517.5,867.2 516.7,867.9C516.0,868.6 514.6,869.2 513.6,869.2C512.5,869.2 511.1,868.6 510.4,867.9C509.6,867.2 509.1,865.8 509.1,864.7C509.1,863.7 509.6,862.3 510.4,861.6C511.1,860.8 512.5,860.3 513.6,860.3C514.6,860.3 516.0,860.8 516.7,861.6C517.5,862.3 518.0,863.7 518.0,864.7Z" fill="none" stroke="#333" stroke-opacity="0.75" stroke-width="0.55"/>
<path d="" fill="none" stroke="#333" stroke-opacity="0.75" stroke-width="0.55"/>
<path d="M556.0,847.7C556.0,848.7 555.5,849.9 554.8,850.5C554.2,851.2 553.0,851.7 552.0,851.7C551.1,851.7 549.9,851.2 549.3,850.5C548.6,849.9 548.1,848.7 548.1,847.7C548.1,846.8 548.6,845.6 549.3,844.9C549.9,844.3 551.1,843.8 552.0,843.8C553.0,843.8 554.2,844.3 554.8,844.9C555.5,845.6 556.0,846.8 556.0,847.7Z" fill="none" stroke="#333" stroke-opacity="0.75" stroke-width="0.55"/>
<path d="M465.0,791.0C465.0,791.4 464.8,791.8 464.6,792.1C464.3,792.4 463.8,792.6 463.4,792.6C463.0,792.6 462.6,792.4 462.3,792.1C462.0,791.8 461.8,791.4 461.8,791.0C461.8,790.6 462.0,790.1 462.3,789.8C462.6,789.6 463.0,789.4 463.4,789.4C463.8,789.4 464.3,789.6 464.6,789.8C464.8,790.1 465.0,790.6 465.0,791.0Z" fill="none" stroke="#333" stroke-opacity="0.75" stroke-width="0.55"/>
<path d="M483.7,787.8C483.7,788.2 483.4,788.7 483.1,789.0C482.8,789.3 482.3,789.5 481.9,789.5C481.4,789.5 480.9,789.3 480.6,789.0C480.3,788.7 480.1,788.2 480.1,787.8C480.1,787.3 480.3,786.8 480.6,786.5C480.9,786.2 481.4,786.0 481.9,786.0C482.3,786.0 482.8,786.2 483.1,786.5C483.4,786.8 483.7,787.3 483.7,787.8Z" fill="none" stroke="#333" stroke-opacity="0.75" stroke-width="0.55"/>
</g>
<circle cx="520.4" cy="812.8" r="42.8" fill="none" stroke="#000" stroke-width="1.9"/>
<path d="M512.2,770.8 L518.8,762.8 Q520.3544575725027,761.4 522.0,762.8 L528.6,770.8" fill="none" stroke="#000" stroke-width="1.6" stroke-linejoin="round"/>
<path d="M477.9,801.8 Q473.1,799.8 473.1,804.8 L473.1,820.8 Q473.1,825.8 477.9,823.8" fill="none" stroke="#000" stroke-width="1.5"/>
<path d="M562.8,801.8 Q567.6,799.8 567.6,804.8 L567.6,820.8 Q567.6,825.8 562.8,823.8" fill="none" stroke="#000" stroke-width="1.5"/>
<text x="182.1" y="134.0" font-size="18.5" font-weight="bold" text-anchor="start" fill="#000" textLength="391.4" lengthAdjust="spacingAndGlyphs" >Tactile Only: mean ERP amplitude [45-65]ms</text>
<text x="171.8" y="531.5" font-size="18.5" font-weight="bold" text-anchor="start" fill="#000" textLength="412" lengthAdjust="spacingAndGlyphs" >Tactile Only: mean ERP amplitude [105-120]ms</text>
<text x="278.4" y="935.7" font-size="18.5" font-weight="bold" text-anchor="start" fill="#000" textLength="207.2" lengthAdjust="spacingAndGlyphs" >Tactile Only: time curve</text>
<text x="4.6" y="157.6" font-size="17.5" font-weight="bold" text-anchor="start" fill="#000" >A</text>
<text x="3.0" y="561.9" font-size="17.5" font-weight="bold" text-anchor="start" fill="#000" >B</text>
<text x="3.2" y="958.4" font-size="17.5" font-weight="bold" text-anchor="start" fill="#000" >C</text>
<text x="2.8" y="218.2" font-size="14.6" font-weight="bold" text-anchor="start" fill="#000" >Sighted</text>
<text x="2.8" y="235.7" font-size="14.6" font-weight="bold" text-anchor="start" fill="#000" >N = 12</text>
<text x="2.8" y="399.3" font-size="14.6" font-weight="bold" text-anchor="start" fill="#000" >SVI</text>
<text x="2.8" y="416.5" font-size="14.6" font-weight="bold" text-anchor="start" fill="#000" >N = 12</text>
<text x="2.8" y="609.0" font-size="14.6" font-weight="bold" text-anchor="start" fill="#000" >Sighted</text>
<text x="2.8" y="626.6" font-size="14.6" font-weight="bold" text-anchor="start" fill="#000" >N = 12</text>
<text x="2.8" y="797.4" font-size="14.6" font-weight="bold" text-anchor="start" fill="#000" >SVI</text>
<text x="2.8" y="815.6" font-size="14.6" font-weight="bold" text-anchor="start" fill="#000" >N = 12</text>
<text x="94.0" y="296.0" font-size="16.7" font-weight="bold" text-anchor="start" fill="#000" >ipsi</text>
<text x="158.0" y="296.0" font-size="16.7" font-weight="bold" text-anchor="start" fill="#000" >contra</text>
<rect x="418.3" y="341.3" width="8.300000000000011" height="145.8" fill="url(#jetv)"/>
<line x1="418.3" y1="377.8" x2="419.8" y2="377.8" stroke="#333" stroke-width="0.6"/><line x1="425.1" y1="377.8" x2="426.6" y2="377.8" stroke="#333" stroke-width="0.6"/>
<line x1="418.3" y1="414.2" x2="419.8" y2="414.2" stroke="#333" stroke-width="0.6"/><line x1="425.1" y1="414.2" x2="426.6" y2="414.2" stroke="#333" stroke-width="0.6"/>
<line x1="418.3" y1="450.7" x2="419.8" y2="450.7" stroke="#333" stroke-width="0.6"/><line x1="425.1" y1="450.7" x2="426.6" y2="450.7" stroke="#333" stroke-width="0.6"/>
<text x="416.8" y="334.3" font-size="12.5" font-weight="bold" text-anchor="start" fill="#000" >μV</text>
<text x="431.1" y="347.3" font-size="9" font-weight="bold" text-anchor="start" fill="#000" >5</text>
<text x="431.1" y="417.4" font-size="9" font-weight="bold" text-anchor="start" fill="#000" >0</text>
<text x="430.1" y="490.6" font-size="9" font-weight="bold" text-anchor="start" fill="#000" >-5</text>
<rect x="416.6" y="746.3" width="8.199999999999989" height="145.60000000000002" fill="url(#jetv)"/>
<line x1="416.6" y1="782.7" x2="418.1" y2="782.7" stroke="#333" stroke-width="0.6"/><line x1="423.3" y1="782.7" x2="424.8" y2="782.7" stroke="#333" stroke-width="0.6"/>
<line x1="416.6" y1="819.1" x2="418.1" y2="819.1" stroke="#333" stroke-width="0.6"/><line x1="423.3" y1="819.1" x2="424.8" y2="819.1" stroke="#333" stroke-width="0.6"/>
<line x1="416.6" y1="855.5" x2="418.1" y2="855.5" stroke="#333" stroke-width="0.6"/><line x1="423.3" y1="855.5" x2="424.8" y2="855.5" stroke="#333" stroke-width="0.6"/>
<text x="415.1" y="739.3" font-size="12.5" font-weight="bold" text-anchor="start" fill="#000" >μV</text>
<text x="429.3" y="752.3" font-size="9" font-weight="bold" text-anchor="start" fill="#000" >5</text>
<text x="429.3" y="822.3" font-size="9" font-weight="bold" text-anchor="start" fill="#000" >0</text>
<text x="428.3" y="895.4" font-size="9" font-weight="bold" text-anchor="start" fill="#000" >-5</text>
<line x1="241.4" y1="157.1" x2="241.4" y2="297.3" stroke="#444" stroke-width="0.8"/>
<line x1="238.4" y1="297.4" x2="241.4" y2="297.4" stroke="#444" stroke-width="0.8"/>
<text transform="translate(233.9,297.4) rotate(-90)" font-size="7.4" text-anchor="middle" fill="#222">-2</text>
<line x1="238.4" y1="274.0" x2="241.4" y2="274.0" stroke="#444" stroke-width="0.8"/>
<text transform="translate(233.9,274.0) rotate(-90)" font-size="7.4" text-anchor="middle" fill="#222">0</text>
<line x1="238.4" y1="250.6" x2="241.4" y2="250.6" stroke="#444" stroke-width="0.8"/>
<text transform="translate(233.9,250.6) rotate(-90)" font-size="7.4" text-anchor="middle" fill="#222">2</text>
<line x1="238.4" y1="227.3" x2="241.4" y2="227.3" stroke="#444" stroke-width="0.8"/>
<text transform="translate(233.9,227.3) rotate(-90)" font-size="7.4" text-anchor="middle" fill="#222">4</text>
<line x1="238.4" y1="203.9" x2="241.4" y2="203.9" stroke="#444" stroke-width="0.8"/>
<text transform="translate(233.9,203.9) rotate(-90)" font-size="7.4" text-anchor="middle" fill="#222">6</text>
<line x1="238.4" y1="180.6" x2="241.4" y2="180.6" stroke="#444" stroke-width="0.8"/>
<text transform="translate(233.9,180.6) rotate(-90)" font-size="7.4" text-anchor="middle" fill="#222">8</text>
<line x1="238.4" y1="157.2" x2="241.4" y2="157.2" stroke="#444" stroke-width="0.8"/>
<text transform="translate(233.9,157.2) rotate(-90)" font-size="7.4" text-anchor="middle" fill="#222">10</text>
<text transform="translate(223.1,227.4) rotate(-90)" font-size="9.6" text-anchor="middle" fill="#222">ERP amplitude(uV)</text>
<line x1="281.3" y1="164.4" x2="353.1" y2="164.4" stroke="#111" stroke-width="1.4"/>
<path d="M309.60,155.20V161.60M306.83,156.80L312.37,160.00M306.83,160.00L312.37,156.80" stroke="#222" stroke-width="1.05" fill="none"/>
<path d="M317.20,155.20V161.60M314.43,156.80L319.97,160.00M314.43,160.00L319.97,156.80" stroke="#222" stroke-width="1.05" fill="none"/>
<path d="M324.80,155.20V161.60M322.03,156.80L327.57,160.00M322.03,160.00L327.57,156.80" stroke="#222" stroke-width="1.05" fill="none"/>
<path d="M283.2,305.9 V303.4 H356.9 V305.9" fill="none" stroke="#555" stroke-width="0.8"/>
<text x="283.2" y="320.4" font-size="12" font-weight="normal" text-anchor="middle" fill="#111" >ipsi</text>
<text x="356.9" y="320.4" font-size="12" font-weight="normal" text-anchor="middle" fill="#111" >contra</text>
<line x1="618.7" y1="157.3" x2="618.7" y2="298.5" stroke="#444" stroke-width="0.8"/>
<line x1="615.7" y1="298.6" x2="618.7" y2="298.6" stroke="#444" stroke-width="0.8"/>
<text transform="translate(611.2,298.6) rotate(-90)" font-size="7.4" text-anchor="middle" fill="#222">-2</text>
<line x1="615.7" y1="275.1" x2="618.7" y2="275.1" stroke="#444" stroke-width="0.8"/>
<text transform="translate(611.2,275.1) rotate(-90)" font-size="7.4" text-anchor="middle" fill="#222">0</text>
<line x1="615.7" y1="251.6" x2="618.7" y2="251.6" stroke="#444" stroke-width="0.8"/>
<text transform="translate(611.2,251.6) rotate(-90)" font-size="7.4" text-anchor="middle" fill="#222">2</text>
<line x1="615.7" y1="228.0" x2="618.7" y2="228.0" stroke="#444" stroke-width="0.8"/>
<text transform="translate(611.2,228.0) rotate(-90)" font-size="7.4" text-anchor="middle" fill="#222">4</text>
<line x1="615.7" y1="204.5" x2="618.7" y2="204.5" stroke="#444" stroke-width="0.8"/>
<text transform="translate(611.2,204.5) rotate(-90)" font-size="7.4" text-anchor="middle" fill="#222">6</text>
<line x1="615.7" y1="180.9" x2="618.7" y2="180.9" stroke="#444" stroke-width="0.8"/>
<text transform="translate(611.2,180.9) rotate(-90)" font-size="7.4" text-anchor="middle" fill="#222">8</text>
<line x1="615.7" y1="157.4" x2="618.7" y2="157.4" stroke="#444" stroke-width="0.8"/>
<text transform="translate(611.2,157.4) rotate(-90)" font-size="7.4" text-anchor="middle" fill="#222">10</text>
<text transform="translate(600.4,228.1) rotate(-90)" font-size="9.6" text-anchor="middle" fill="#222">ERP amplitude(uV)</text>
<line x1="660" y1="161" x2="732.9" y2="161" stroke="#111" stroke-width="2.0"/>
<path d="M688.85,151.80V158.20M686.08,153.40L691.62,156.60M686.08,156.60L691.62,153.40" stroke="#222" stroke-width="1.05" fill="none"/>
<path d="M696.45,151.80V158.20M693.68,153.40L699.22,156.60M693.68,156.60L699.22,153.40" stroke="#222" stroke-width="1.05" fill="none"/>
<path d="M704.05,151.80V158.20M701.28,153.40L706.82,156.60M701.28,156.60L706.82,153.40" stroke="#222" stroke-width="1.05" fill="none"/>
<path d="M660.7,307.1 V304.6 H733.6 V307.1" fill="none" stroke="#555" stroke-width="0.8"/>
<text x="660.7" y="321.8" font-size="12" font-weight="normal" text-anchor="middle" fill="#111" >ipsi</text>
<text x="733.6" y="321.8" font-size="12" font-weight="normal" text-anchor="middle" fill="#111" >contra</text>
<line x1="241.0" y1="343.4" x2="241.0" y2="483.6" stroke="#444" stroke-width="0.8"/>
<line x1="238.0" y1="483.9" x2="241.0" y2="483.9" stroke="#444" stroke-width="0.8"/>
<text transform="translate(233.5,483.9) rotate(-90)" font-size="7.4" text-anchor="middle" fill="#222">-2</text>
<line x1="238.0" y1="460.5" x2="241.0" y2="460.5" stroke="#444" stroke-width="0.8"/>
<text transform="translate(233.5,460.5) rotate(-90)" font-size="7.4" text-anchor="middle" fill="#222">0</text>
<line x1="238.0" y1="437.1" x2="241.0" y2="437.1" stroke="#444" stroke-width="0.8"/>
<text transform="translate(233.5,437.1) rotate(-90)" font-size="7.4" text-anchor="middle" fill="#222">2</text>
<line x1="238.0" y1="413.8" x2="241.0" y2="413.8" stroke="#444" stroke-width="0.8"/>
<text transform="translate(233.5,413.8) rotate(-90)" font-size="7.4" text-anchor="middle" fill="#222">4</text>
<line x1="238.0" y1="390.4" x2="241.0" y2="390.4" stroke="#444" stroke-width="0.8"/>
<text transform="translate(233.5,390.4) rotate(-90)" font-size="7.4" text-anchor="middle" fill="#222">6</text>
<line x1="238.0" y1="367.1" x2="241.0" y2="367.1" stroke="#444" stroke-width="0.8"/>
<text transform="translate(233.5,367.1) rotate(-90)" font-size="7.4" text-anchor="middle" fill="#222">8</text>
<line x1="238.0" y1="343.7" x2="241.0" y2="343.7" stroke="#444" stroke-width="0.8"/>
<text transform="translate(233.5,343.7) rotate(-90)" font-size="7.4" text-anchor="middle" fill="#222">10</text>
<text transform="translate(222.7,413.7) rotate(-90)" font-size="9.6" text-anchor="middle" fill="#222">ERP amplitude(uV)</text>
<line x1="284" y1="347.7" x2="357.6" y2="347.7" stroke="#111" stroke-width="2.0"/>
<path d="M313.20,338.50V344.90M310.43,340.10L315.97,343.30M310.43,343.30L315.97,340.10" stroke="#222" stroke-width="1.05" fill="none"/>
<path d="M320.80,338.50V344.90M318.03,340.10L323.57,343.30M318.03,343.30L323.57,340.10" stroke="#222" stroke-width="1.05" fill="none"/>
<path d="M328.40,338.50V344.90M325.63,340.10L331.17,343.30M325.63,343.30L331.17,340.10" stroke="#222" stroke-width="1.05" fill="none"/>
<path d="M282.3,492.1 V489.6 H355.6 V492.1" fill="none" stroke="#555" stroke-width="0.8"/>
<text x="282.3" y="508.6" font-size="12" font-weight="normal" text-anchor="middle" fill="#111" >ipsi</text>
<text x="355.6" y="508.6" font-size="12" font-weight="normal" text-anchor="middle" fill="#111" >contra</text>
<line x1="618.7" y1="341.5" x2="618.7" y2="482.2" stroke="#444" stroke-width="0.8"/>
<line x1="615.7" y1="482.4" x2="618.7" y2="482.4" stroke="#444" stroke-width="0.8"/>
<text transform="translate(611.2,482.4) rotate(-90)" font-size="7.4" text-anchor="middle" fill="#222">-2</text>
<line x1="615.7" y1="459.0" x2="618.7" y2="459.0" stroke="#444" stroke-width="0.8"/>
<text transform="translate(611.2,459.0) rotate(-90)" font-size="7.4" text-anchor="middle" fill="#222">0</text>
<line x1="615.7" y1="435.6" x2="618.7" y2="435.6" stroke="#444" stroke-width="0.8"/>
<text transform="translate(611.2,435.6) rotate(-90)" font-size="7.4" text-anchor="middle" fill="#222">2</text>
<line x1="615.7" y1="412.1" x2="618.7" y2="412.1" stroke="#444" stroke-width="0.8"/>
<text transform="translate(611.2,412.1) rotate(-90)" font-size="7.4" text-anchor="middle" fill="#222">4</text>
<line x1="615.7" y1="388.7" x2="618.7" y2="388.7" stroke="#444" stroke-width="0.8"/>
<text transform="translate(611.2,388.7) rotate(-90)" font-size="7.4" text-anchor="middle" fill="#222">6</text>
<line x1="615.7" y1="365.2" x2="618.7" y2="365.2" stroke="#444" stroke-width="0.8"/>
<text transform="translate(611.2,365.2) rotate(-90)" font-size="7.4" text-anchor="middle" fill="#222">8</text>
<line x1="615.7" y1="341.8" x2="618.7" y2="341.8" stroke="#444" stroke-width="0.8"/>
<text transform="translate(611.2,341.8) rotate(-90)" font-size="7.4" text-anchor="middle" fill="#222">10</text>
<text transform="translate(600.4,412.1) rotate(-90)" font-size="9.6" text-anchor="middle" fill="#222">ERP amplitude(uV)</text>
<line x1="660" y1="351.4" x2="732.9" y2="351.4" stroke="#111" stroke-width="2.0"/>
<path d="M688.85,342.20V348.60M686.08,343.80L691.62,347.00M686.08,347.00L691.62,343.80" stroke="#222" stroke-width="1.05" fill="none"/>
<path d="M696.45,342.20V348.60M693.68,343.80L699.22,347.00M693.68,347.00L699.22,343.80" stroke="#222" stroke-width="1.05" fill="none"/>
<path d="M704.05,342.20V348.60M701.28,343.80L706.82,347.00M701.28,347.00L706.82,343.80" stroke="#222" stroke-width="1.05" fill="none"/>
<path d="M660.7,490.4 V487.9 H733.6 V490.4" fill="none" stroke="#555" stroke-width="0.8"/>
<text x="660.7" y="511.7" font-size="12" font-weight="normal" text-anchor="middle" fill="#111" >ipsi</text>
<text x="733.6" y="511.7" font-size="12" font-weight="normal" text-anchor="middle" fill="#111" >contra</text>
<line x1="242.7" y1="561.3" x2="242.7" y2="701.2" stroke="#444" stroke-width="0.8"/>
<line x1="239.7" y1="701.4" x2="242.7" y2="701.4" stroke="#444" stroke-width="0.8"/>
<text transform="translate(235.2,701.4) rotate(-90)" font-size="7.4" text-anchor="middle" fill="#222">-2</text>
<line x1="239.7" y1="678.1" x2="242.7" y2="678.1" stroke="#444" stroke-width="0.8"/>
<text transform="translate(235.2,678.1) rotate(-90)" font-size="7.4" text-anchor="middle" fill="#222">0</text>
<line x1="239.7" y1="654.8" x2="242.7" y2="654.8" stroke="#444" stroke-width="0.8"/>
<text transform="translate(235.2,654.8) rotate(-90)" font-size="7.4" text-anchor="middle" fill="#222">2</text>
<line x1="239.7" y1="631.5" x2="242.7" y2="631.5" stroke="#444" stroke-width="0.8"/>
<text transform="translate(235.2,631.5) rotate(-90)" font-size="7.4" text-anchor="middle" fill="#222">4</text>
<line x1="239.7" y1="608.1" x2="242.7" y2="608.1" stroke="#444" stroke-width="0.8"/>
<text transform="translate(235.2,608.1) rotate(-90)" font-size="7.4" text-anchor="middle" fill="#222">6</text>
<line x1="239.7" y1="584.8" x2="242.7" y2="584.8" stroke="#444" stroke-width="0.8"/>
<text transform="translate(235.2,584.8) rotate(-90)" font-size="7.4" text-anchor="middle" fill="#222">8</text>
<line x1="239.7" y1="561.5" x2="242.7" y2="561.5" stroke="#444" stroke-width="0.8"/>
<text transform="translate(235.2,561.5) rotate(-90)" font-size="7.4" text-anchor="middle" fill="#222">10</text>
<text transform="translate(224.4,631.5) rotate(-90)" font-size="9.6" text-anchor="middle" fill="#222">ERP amplitude(uV)</text>
<line x1="284" y1="568.6" x2="357.6" y2="568.6" stroke="#111" stroke-width="2.0"/>
<path d="M313.20,559.40V565.80M310.43,561.00L315.97,564.20M310.43,564.20L315.97,561.00" stroke="#222" stroke-width="1.05" fill="none"/>
<path d="M320.80,559.40V565.80M318.03,561.00L323.57,564.20M318.03,564.20L323.57,561.00" stroke="#222" stroke-width="1.05" fill="none"/>
<path d="M328.40,559.40V565.80M325.63,561.00L331.17,564.20M325.63,564.20L331.17,561.00" stroke="#222" stroke-width="1.05" fill="none"/>
<path d="M284.5,709.5 V707.0 H357.6 V709.5" fill="none" stroke="#555" stroke-width="0.8"/>
<text x="284.5" y="724.3" font-size="12" font-weight="normal" text-anchor="middle" fill="#111" >ipsi</text>
<text x="357.6" y="724.3" font-size="12" font-weight="normal" text-anchor="middle" fill="#111" >contra</text>
<line x1="620.2" y1="561.0" x2="620.2" y2="700.9" stroke="#444" stroke-width="0.8"/>
<line x1="617.2" y1="701.5" x2="620.2" y2="701.5" stroke="#444" stroke-width="0.8"/>
<text transform="translate(612.7,701.5) rotate(-90)" font-size="7.4" text-anchor="middle" fill="#222">-2</text>
<line x1="617.2" y1="678.1" x2="620.2" y2="678.1" stroke="#444" stroke-width="0.8"/>
<text transform="translate(612.7,678.1) rotate(-90)" font-size="7.4" text-anchor="middle" fill="#222">0</text>
<line x1="617.2" y1="654.7" x2="620.2" y2="654.7" stroke="#444" stroke-width="0.8"/>
<text transform="translate(612.7,654.7) rotate(-90)" font-size="7.4" text-anchor="middle" fill="#222">2</text>
<line x1="617.2" y1="631.4" x2="620.2" y2="631.4" stroke="#444" stroke-width="0.8"/>
<text transform="translate(612.7,631.4) rotate(-90)" font-size="7.4" text-anchor="middle" fill="#222">4</text>
<line x1="617.2" y1="608.0" x2="620.2" y2="608.0" stroke="#444" stroke-width="0.8"/>
<text transform="translate(612.7,608.0) rotate(-90)" font-size="7.4" text-anchor="middle" fill="#222">6</text>
<line x1="617.2" y1="584.7" x2="620.2" y2="584.7" stroke="#444" stroke-width="0.8"/>
<text transform="translate(612.7,584.7) rotate(-90)" font-size="7.4" text-anchor="middle" fill="#222">8</text>
<line x1="617.2" y1="561.3" x2="620.2" y2="561.3" stroke="#444" stroke-width="0.8"/>
<text transform="translate(612.7,561.3) rotate(-90)" font-size="7.4" text-anchor="middle" fill="#222">10</text>
<text transform="translate(601.9,631.2) rotate(-90)" font-size="9.6" text-anchor="middle" fill="#222">ERP amplitude(uV)</text>
<line x1="663.2" y1="568.8" x2="736.1" y2="568.8" stroke="#111" stroke-width="2.0"/>
<path d="M692.05,559.60V566.00M689.28,561.20L694.82,564.40M689.28,564.40L694.82,561.20" stroke="#222" stroke-width="1.05" fill="none"/>
<path d="M699.65,559.60V566.00M696.88,561.20L702.42,564.40M696.88,564.40L702.42,561.20" stroke="#222" stroke-width="1.05" fill="none"/>
<path d="M707.25,559.60V566.00M704.48,561.20L710.02,564.40M704.48,564.40L710.02,561.20" stroke="#222" stroke-width="1.05" fill="none"/>
<path d="M662,709.5 V707.0 H734.4 V709.5" fill="none" stroke="#555" stroke-width="0.8"/>
<text x="662.0" y="723.0" font-size="12" font-weight="normal" text-anchor="middle" fill="#111" >ipsi</text>
<text x="734.4" y="723.0" font-size="12" font-weight="normal" text-anchor="middle" fill="#111" >contra</text>
<line x1="240.7" y1="740.8" x2="240.7" y2="881.0" stroke="#444" stroke-width="0.8"/>
<line x1="237.7" y1="881.3" x2="240.7" y2="881.3" stroke="#444" stroke-width="0.8"/>
<text transform="translate(233.2,881.3) rotate(-90)" font-size="7.4" text-anchor="middle" fill="#222">-2</text>
<line x1="237.7" y1="857.9" x2="240.7" y2="857.9" stroke="#444" stroke-width="0.8"/>
<text transform="translate(233.2,857.9) rotate(-90)" font-size="7.4" text-anchor="middle" fill="#222">0</text>
<line x1="237.7" y1="834.5" x2="240.7" y2="834.5" stroke="#444" stroke-width="0.8"/>
<text transform="translate(233.2,834.5) rotate(-90)" font-size="7.4" text-anchor="middle" fill="#222">2</text>
<line x1="237.7" y1="811.2" x2="240.7" y2="811.2" stroke="#444" stroke-width="0.8"/>
<text transform="translate(233.2,811.2) rotate(-90)" font-size="7.4" text-anchor="middle" fill="#222">4</text>
<line x1="237.7" y1="787.8" x2="240.7" y2="787.8" stroke="#444" stroke-width="0.8"/>
<text transform="translate(233.2,787.8) rotate(-90)" font-size="7.4" text-anchor="middle" fill="#222">6</text>
<line x1="237.7" y1="764.5" x2="240.7" y2="764.5" stroke="#444" stroke-width="0.8"/>
<text transform="translate(233.2,764.5) rotate(-90)" font-size="7.4" text-anchor="middle" fill="#222">8</text>
<line x1="237.7" y1="741.1" x2="240.7" y2="741.1" stroke="#444" stroke-width="0.8"/>
<text transform="translate(233.2,741.1) rotate(-90)" font-size="7.4" text-anchor="middle" fill="#222">10</text>
<text transform="translate(222.4,811.1) rotate(-90)" font-size="9.6" text-anchor="middle" fill="#222">ERP amplitude(uV)</text>
<line x1="283.2" y1="755.9" x2="356.9" y2="755.9" stroke="#111" stroke-width="2.0"/>
<path d="M312.45,746.70V753.10M309.68,748.30L315.22,751.50M309.68,751.50L315.22,748.30" stroke="#222" stroke-width="1.05" fill="none"/>
<path d="M320.05,746.70V753.10M317.28,748.30L322.82,751.50M317.28,751.50L322.82,748.30" stroke="#222" stroke-width="1.05" fill="none"/>
<path d="M327.65,746.70V753.10M324.88,748.30L330.42,751.50M324.88,751.50L330.42,748.30" stroke="#222" stroke-width="1.05" fill="none"/>
<path d="M282.7,888.6 V886.1 H355.6 V888.6" fill="none" stroke="#555" stroke-width="0.8"/>
<text x="282.7" y="903.6" font-size="12" font-weight="normal" text-anchor="middle" fill="#111" >ipsi</text>
<text x="355.6" y="903.6" font-size="12" font-weight="normal" text-anchor="middle" fill="#111" >contra</text>
<line x1="621.2" y1="741.0" x2="621.2" y2="880.9" stroke="#444" stroke-width="0.8"/>
<line x1="618.2" y1="881.5" x2="621.2" y2="881.5" stroke="#444" stroke-width="0.8"/>
<text transform="translate(613.7,881.5) rotate(-90)" font-size="7.4" text-anchor="middle" fill="#222">-2</text>
<line x1="618.2" y1="858.1" x2="621.2" y2="858.1" stroke="#444" stroke-width="0.8"/>
<text transform="translate(613.7,858.1) rotate(-90)" font-size="7.4" text-anchor="middle" fill="#222">0</text>
<line x1="618.2" y1="834.7" x2="621.2" y2="834.7" stroke="#444" stroke-width="0.8"/>
<text transform="translate(613.7,834.7) rotate(-90)" font-size="7.4" text-anchor="middle" fill="#222">2</text>
<line x1="618.2" y1="811.4" x2="621.2" y2="811.4" stroke="#444" stroke-width="0.8"/>
<text transform="translate(613.7,811.4) rotate(-90)" font-size="7.4" text-anchor="middle" fill="#222">4</text>
<line x1="618.2" y1="788.0" x2="621.2" y2="788.0" stroke="#444" stroke-width="0.8"/>
<text transform="translate(613.7,788.0) rotate(-90)" font-size="7.4" text-anchor="middle" fill="#222">6</text>
<line x1="618.2" y1="764.7" x2="621.2" y2="764.7" stroke="#444" stroke-width="0.8"/>
<text transform="translate(613.7,764.7) rotate(-90)" font-size="7.4" text-anchor="middle" fill="#222">8</text>
<line x1="618.2" y1="741.3" x2="621.2" y2="741.3" stroke="#444" stroke-width="0.8"/>
<text transform="translate(613.7,741.3) rotate(-90)" font-size="7.4" text-anchor="middle" fill="#222">10</text>
<text transform="translate(602.9,811.2) rotate(-90)" font-size="9.6" text-anchor="middle" fill="#222">ERP amplitude(uV)</text>
<line x1="663.2" y1="752.7" x2="736.6" y2="752.7" stroke="#111" stroke-width="2.0"/>
<path d="M692.30,743.50V749.90M689.53,745.10L695.07,748.30M689.53,748.30L695.07,745.10" stroke="#222" stroke-width="1.05" fill="none"/>
<path d="M699.90,743.50V749.90M697.13,745.10L702.67,748.30M697.13,748.30L702.67,745.10" stroke="#222" stroke-width="1.05" fill="none"/>
<path d="M707.50,743.50V749.90M704.73,745.10L710.27,748.30M704.73,748.30L710.27,745.10" stroke="#222" stroke-width="1.05" fill="none"/>
<path d="M663.2,889.5 V887.0 H736.1 V889.5" fill="none" stroke="#555" stroke-width="0.8"/>
<text x="663.2" y="902.3" font-size="12" font-weight="normal" text-anchor="middle" fill="#111" >ipsi</text>
<text x="736.1" y="902.3" font-size="12" font-weight="normal" text-anchor="middle" fill="#111" >contra</text>
<path d="M289.3,244.1C289.6,245.4 289.3,249.4 290.8,251.9C292.2,254.4 295.4,256.8 298.1,259.2C300.7,261.6 304.2,264.1 306.6,266.5C308.9,268.9 311.6,271.5 312.1,273.8C312.7,276.0 310.9,278.0 309.7,279.8C308.5,281.7 305.8,283.5 304.9,284.7C303.9,285.9 304.3,286.7 304.1,287.1L262.8,287.1C262.7,286.7 263.0,285.9 262.1,284.7C261.2,283.5 258.5,281.7 257.2,279.8C256.0,278.0 254.3,276.0 254.8,273.8C255.3,271.5 258.0,268.9 260.4,266.5C262.7,264.1 266.3,261.6 268.9,259.2C271.5,256.8 274.7,254.4 276.2,251.9C277.6,249.4 277.4,245.4 277.6,244.1Z" fill="#c9c9fb"/>
<line x1="283.5" y1="244.1" x2="283.5" y2="287.1" stroke="#4040ff" stroke-width="0.7"/>
<rect x="281.8" y="265.8" width="3.4" height="14.8" fill="#5a5aff" stroke="#4040ff" stroke-width="0.5"/>
<circle cx="284.0" cy="244.6" r="1.4" fill="none" stroke="#4040ff" stroke-width="0.5" stroke-opacity="0.8"/>
<circle cx="278.6" cy="261.6" r="1.4" fill="none" stroke="#4040ff" stroke-width="0.5" stroke-opacity="0.8"/>
<circle cx="279.8" cy="262.8" r="1.4" fill="none" stroke="#4040ff" stroke-width="0.5" stroke-opacity="0.8"/>
<circle cx="277.4" cy="267.7" r="1.4" fill="none" stroke="#4040ff" stroke-width="0.5" stroke-opacity="0.8"/>
<circle cx="276.2" cy="272.6" r="1.4" fill="none" stroke="#4040ff" stroke-width="0.5" stroke-opacity="0.8"/>
<circle cx="287.1" cy="274.3" r="1.4" fill="none" stroke="#4040ff" stroke-width="0.5" stroke-opacity="0.8"/>
<circle cx="282.7" cy="282.3" r="1.4" fill="none" stroke="#4040ff" stroke-width="0.5" stroke-opacity="0.8"/>
<circle cx="287.6" cy="282.8" r="1.4" fill="none" stroke="#4040ff" stroke-width="0.5" stroke-opacity="0.8"/>
<circle cx="282.3" cy="286.4" r="1.4" fill="none" stroke="#4040ff" stroke-width="0.5" stroke-opacity="0.8"/>
<circle cx="283.5" cy="273.3" r="1.1" fill="#000"/>
<path d="M373.4,180.2C374.3,181.4 377.3,184.9 379.0,187.5C380.6,190.2 382.1,193.0 383.1,196.0C384.1,199.1 385.3,202.9 385.0,205.7C384.8,208.6 383.2,210.6 381.4,213.0C379.6,215.5 376.7,218.1 374.1,220.3C371.5,222.5 367.2,225.0 365.6,226.4C364.0,227.8 364.6,228.4 364.4,228.8L347.4,228.8C347.2,228.4 347.8,227.8 346.2,226.4C344.5,225.0 340.3,222.5 337.7,220.3C335.0,218.1 332.2,215.5 330.4,213.0C328.5,210.6 327.0,208.6 326.7,205.7C326.4,202.9 327.7,199.1 328.7,196.0C329.7,193.0 331.2,190.2 332.8,187.5C334.4,184.9 337.5,181.4 338.4,180.2Z" fill="#ffcaca"/>
<line x1="355.9" y1="180.2" x2="355.9" y2="228.8" stroke="#ff3030" stroke-width="0.7"/>
<rect x="354.8" y="195.5" width="3.4" height="17.0" fill="#ff6060" stroke="#ff3030" stroke-width="0.5"/>
<circle cx="357.3" cy="180.7" r="1.4" fill="none" stroke="#ff3030" stroke-width="0.5" stroke-opacity="0.8"/>
<circle cx="352.0" cy="189.2" r="1.4" fill="none" stroke="#ff3030" stroke-width="0.5" stroke-opacity="0.8"/>
<circle cx="360.7" cy="193.1" r="1.4" fill="none" stroke="#ff3030" stroke-width="0.5" stroke-opacity="0.8"/>
<circle cx="349.1" cy="197.2" r="1.4" fill="none" stroke="#ff3030" stroke-width="0.5" stroke-opacity="0.8"/>
<circle cx="359.3" cy="201.4" r="1.4" fill="none" stroke="#ff3030" stroke-width="0.5" stroke-opacity="0.8"/>
<circle cx="352.5" cy="205.3" r="1.4" fill="none" stroke="#ff3030" stroke-width="0.5" stroke-opacity="0.8"/>
<circle cx="362.2" cy="208.7" r="1.4" fill="none" stroke="#ff3030" stroke-width="0.5" stroke-opacity="0.8"/>
<circle cx="350.1" cy="210.6" r="1.4" fill="none" stroke="#ff3030" stroke-width="0.5" stroke-opacity="0.8"/>
<circle cx="361.7" cy="217.9" r="1.4" fill="none" stroke="#ff3030" stroke-width="0.5" stroke-opacity="0.8"/>
<circle cx="349.1" cy="228.3" r="1.4" fill="none" stroke="#ff3030" stroke-width="0.5" stroke-opacity="0.8"/>
<circle cx="355.6" cy="214.2" r="1.4" fill="none" stroke="#ff3030" stroke-width="0.5" stroke-opacity="0.8"/>
<circle cx="356.1" cy="205.3" r="1.1" fill="#000"/>
<path d="M687.2,254.3C687.6,254.9 690.2,256.7 689.7,257.9C689.2,259.2 686.0,260.4 684.0,261.6C682.1,262.9 679.1,264.5 677.9,265.3C676.7,266.1 676.9,266.3 676.7,266.5L644.8,266.5C644.5,266.3 644.8,266.1 643.5,265.3C642.3,264.5 639.4,262.9 637.4,261.6C635.4,260.4 632.3,259.2 631.7,257.9C631.2,256.7 633.8,254.9 634.2,254.3Z" fill="#c9c9fb"/>
<line x1="660.7" y1="254.3" x2="660.7" y2="266.5" stroke="#4040ff" stroke-width="0.7"/>
<rect x="659.1" y="255.5" width="3.4" height="8.6" fill="#5a5aff" stroke="#4040ff" stroke-width="0.5"/>
<circle cx="659.2" cy="255.0" r="1.4" fill="none" stroke="#4040ff" stroke-width="0.5" stroke-opacity="0.8"/>
<circle cx="663.7" cy="256.7" r="1.4" fill="none" stroke="#4040ff" stroke-width="0.5" stroke-opacity="0.8"/>
<circle cx="657.5" cy="260.4" r="1.4" fill="none" stroke="#4040ff" stroke-width="0.5" stroke-opacity="0.8"/>
<circle cx="664.9" cy="261.6" r="1.4" fill="none" stroke="#4040ff" stroke-width="0.5" stroke-opacity="0.8"/>
<circle cx="654.3" cy="264.8" r="1.4" fill="none" stroke="#4040ff" stroke-width="0.5" stroke-opacity="0.8"/>
<circle cx="655.8" cy="266.5" r="1.4" fill="none" stroke="#4040ff" stroke-width="0.5" stroke-opacity="0.8"/>
<circle cx="663.2" cy="265.3" r="1.4" fill="none" stroke="#4040ff" stroke-width="0.5" stroke-opacity="0.8"/>
<circle cx="661.2" cy="257.9" r="1.4" fill="none" stroke="#4040ff" stroke-width="0.5" stroke-opacity="0.8"/>
<circle cx="660.7" cy="260.4" r="1.1" fill="#000"/>
<path d="M753.3,201.0C754.0,201.7 756.3,203.6 757.7,205.2C759.1,206.7 762.1,208.2 761.9,210.1C761.7,211.9 758.6,214.2 756.5,216.2C754.3,218.2 750.6,220.9 749.1,222.3C747.6,223.8 747.7,224.4 747.4,224.8L718.9,224.8C718.6,224.4 718.7,223.8 717.2,222.3C715.7,220.9 711.9,218.2 709.8,216.2C707.7,214.2 704.6,211.9 704.4,210.1C704.2,208.2 707.2,206.7 708.6,205.2C710.0,203.6 712.3,201.7 713.0,201.0Z" fill="#ffcaca"/>
<line x1="733.1" y1="201.0" x2="733.1" y2="224.8" stroke="#ff3030" stroke-width="0.7"/>
<rect x="731.3" y="206.9" width="3.4" height="9.8" fill="#ff6060" stroke="#ff3030" stroke-width="0.5"/>
<circle cx="730.4" cy="200.2" r="1.4" fill="none" stroke="#ff3030" stroke-width="0.5" stroke-opacity="0.8"/>
<circle cx="734.9" cy="202.0" r="1.4" fill="none" stroke="#ff3030" stroke-width="0.5" stroke-opacity="0.8"/>
<circle cx="729.0" cy="206.4" r="1.4" fill="none" stroke="#ff3030" stroke-width="0.5" stroke-opacity="0.8"/>
<circle cx="736.8" cy="209.3" r="1.4" fill="none" stroke="#ff3030" stroke-width="0.5" stroke-opacity="0.8"/>
<circle cx="728.2" cy="213.7" r="1.4" fill="none" stroke="#ff3030" stroke-width="0.5" stroke-opacity="0.8"/>
<circle cx="729.5" cy="219.9" r="1.4" fill="none" stroke="#ff3030" stroke-width="0.5" stroke-opacity="0.8"/>
<circle cx="734.9" cy="222.3" r="1.4" fill="none" stroke="#ff3030" stroke-width="0.5" stroke-opacity="0.8"/>
<circle cx="737.3" cy="224.8" r="1.4" fill="none" stroke="#ff3030" stroke-width="0.5" stroke-opacity="0.8"/>
<circle cx="731.2" cy="216.2" r="1.4" fill="none" stroke="#ff3030" stroke-width="0.5" stroke-opacity="0.8"/>
<circle cx="733.1" cy="210.8" r="1.1" fill="#000"/>
<path d="M304.1,443.5C304.4,444.6 304.6,448.3 305.8,450.3C307.0,452.2 310.9,453.6 311.4,455.1C311.9,456.6 309.4,458.6 309.0,459.3L256.5,459.3C256.1,458.6 253.6,456.6 254.1,455.1C254.6,453.6 258.5,452.2 259.7,450.3C260.9,448.3 261.1,444.6 261.4,443.5Z" fill="#c6fbfb"/>
<line x1="282.7" y1="443.5" x2="282.7" y2="459.3" stroke="#10e0e0" stroke-width="0.7"/>
<rect x="281.0" y="446.6" width="3.4" height="9.7" fill="#40f0f0" stroke="#10e0e0" stroke-width="0.5"/>
<circle cx="277.9" cy="443.5" r="1.4" fill="none" stroke="#10e0e0" stroke-width="0.5" stroke-opacity="0.8"/>
<circle cx="284.0" cy="443.7" r="1.4" fill="none" stroke="#10e0e0" stroke-width="0.5" stroke-opacity="0.8"/>
<circle cx="275.5" cy="447.8" r="1.4" fill="none" stroke="#10e0e0" stroke-width="0.5" stroke-opacity="0.8"/>
<circle cx="286.4" cy="446.6" r="1.4" fill="none" stroke="#10e0e0" stroke-width="0.5" stroke-opacity="0.8"/>
<circle cx="279.1" cy="456.3" r="1.4" fill="none" stroke="#10e0e0" stroke-width="0.5" stroke-opacity="0.8"/>
<circle cx="288.8" cy="458.8" r="1.4" fill="none" stroke="#10e0e0" stroke-width="0.5" stroke-opacity="0.8"/>
<circle cx="287.6" cy="461.7" r="1.4" fill="none" stroke="#10e0e0" stroke-width="0.5" stroke-opacity="0.8"/>
<circle cx="283.2" cy="444.2" r="1.4" fill="none" stroke="#10e0e0" stroke-width="0.5" stroke-opacity="0.8"/>
<circle cx="282.7" cy="454.4" r="1.1" fill="#000"/>
<path d="M369.7,365.2C370.6,366.8 373.1,371.5 375.1,374.9C377.1,378.4 380.3,382.4 381.9,385.9C383.4,389.3 384.8,392.4 384.3,395.6C383.8,398.8 381.3,401.7 378.7,405.3C376.2,409.0 371.3,413.8 369.0,417.5C366.7,421.1 365.7,425.0 364.9,427.2C364.1,429.4 364.3,430.2 364.1,430.8L347.1,430.8C347.0,430.2 347.2,429.4 346.4,427.2C345.6,425.0 344.6,421.1 342.3,417.5C340.0,413.8 335.1,409.0 332.6,405.3C330.0,401.7 327.5,398.8 327.0,395.6C326.4,392.4 327.9,389.3 329.4,385.9C330.9,382.4 334.2,378.4 336.2,374.9C338.2,371.5 340.7,366.8 341.5,365.2Z" fill="#ffe6c4"/>
<line x1="355.6" y1="365.2" x2="355.6" y2="430.8" stroke="#ffaa33" stroke-width="0.7"/>
<rect x="353.9" y="390.3" width="3.4" height="17.5" fill="#ffbf60" stroke="#ffaa33" stroke-width="0.5"/>
<circle cx="353.2" cy="365.7" r="1.4" fill="none" stroke="#ffaa33" stroke-width="0.5" stroke-opacity="0.8"/>
<circle cx="358.8" cy="378.6" r="1.4" fill="none" stroke="#ffaa33" stroke-width="0.5" stroke-opacity="0.8"/>
<circle cx="353.9" cy="388.8" r="1.4" fill="none" stroke="#ffaa33" stroke-width="0.5" stroke-opacity="0.8"/>
<circle cx="349.1" cy="396.1" r="1.4" fill="none" stroke="#ffaa33" stroke-width="0.5" stroke-opacity="0.8"/>
<circle cx="362.2" cy="394.4" r="1.4" fill="none" stroke="#ffaa33" stroke-width="0.5" stroke-opacity="0.8"/>
<circle cx="361.7" cy="402.4" r="1.4" fill="none" stroke="#ffaa33" stroke-width="0.5" stroke-opacity="0.8"/>
<circle cx="360.0" cy="409.0" r="1.4" fill="none" stroke="#ffaa33" stroke-width="0.5" stroke-opacity="0.8"/>
<circle cx="353.7" cy="413.1" r="1.4" fill="none" stroke="#ffaa33" stroke-width="0.5" stroke-opacity="0.8"/>
<circle cx="348.4" cy="430.8" r="1.4" fill="none" stroke="#ffaa33" stroke-width="0.5" stroke-opacity="0.8"/>
<circle cx="355.6" cy="395.1" r="1.1" fill="#000"/>
<path d="M675.9,437.5C676.9,438.8 679.4,442.5 681.6,445.4C683.7,448.3 687.6,452.8 688.9,455.2C690.3,457.7 690.3,458.3 689.7,460.1C689.1,462.0 687.4,463.8 685.3,466.3C683.1,468.7 679.3,472.2 676.7,474.9C674.0,477.5 670.9,480.2 669.3,482.2C667.7,484.3 667.3,486.3 666.8,487.1L654.6,487.1C654.2,486.3 653.8,484.3 652.1,482.2C650.5,480.2 647.4,477.5 644.8,474.9C642.1,472.2 638.3,468.7 636.2,466.3C634.0,463.8 632.4,462.0 631.7,460.1C631.1,458.3 631.1,457.7 632.5,455.2C633.8,452.8 637.7,448.3 639.8,445.4C642.0,442.5 644.5,438.8 645.5,437.5Z" fill="#c6fbfb"/>
<line x1="660.7" y1="437.5" x2="660.7" y2="487.1" stroke="#10e0e0" stroke-width="0.7"/>
<rect x="659.3" y="455.2" width="3.4" height="12.3" fill="#40f0f0" stroke="#10e0e0" stroke-width="0.5"/>
<circle cx="663.7" cy="437.5" r="1.4" fill="none" stroke="#10e0e0" stroke-width="0.5" stroke-opacity="0.8"/>
<circle cx="657.5" cy="455.2" r="1.4" fill="none" stroke="#10e0e0" stroke-width="0.5" stroke-opacity="0.8"/>
<circle cx="666.1" cy="455.7" r="1.4" fill="none" stroke="#10e0e0" stroke-width="0.5" stroke-opacity="0.8"/>
<circle cx="667.3" cy="456.4" r="1.4" fill="none" stroke="#10e0e0" stroke-width="0.5" stroke-opacity="0.8"/>
<circle cx="655.1" cy="466.3" r="1.4" fill="none" stroke="#10e0e0" stroke-width="0.5" stroke-opacity="0.8"/>
<circle cx="652.6" cy="468.7" r="1.4" fill="none" stroke="#10e0e0" stroke-width="0.5" stroke-opacity="0.8"/>
<circle cx="659.2" cy="462.6" r="1.4" fill="none" stroke="#10e0e0" stroke-width="0.5" stroke-opacity="0.8"/>
<circle cx="660.7" cy="458.9" r="1.1" fill="#000"/>
<path d="M740.0,357.0C740.7,359.1 742.5,364.8 744.2,369.3C745.9,373.8 748.3,379.5 750.3,384.0C752.4,388.5 754.5,392.8 756.5,396.3C758.4,399.8 761.5,402.6 762.1,404.9C762.7,407.1 761.1,408.3 760.1,409.8C759.2,411.3 757.1,413.3 756.5,414.0L709.8,414.0C709.2,413.3 707.1,411.3 706.1,409.8C705.2,408.3 703.6,407.1 704.2,404.9C704.8,402.6 707.9,399.8 709.8,396.3C711.8,392.8 713.9,388.5 716.0,384.0C718.0,379.5 720.4,373.8 722.1,369.3C723.8,364.8 725.6,359.1 726.3,357.0Z" fill="#ffe6c4"/>
<line x1="733.1" y1="357.0" x2="733.1" y2="414.0" stroke="#ffaa33" stroke-width="0.7"/>
<rect x="731.6" y="387.2" width="3.4" height="20.9" fill="#ffbf60" stroke="#ffaa33" stroke-width="0.5"/>
<circle cx="739.3" cy="357.5" r="1.4" fill="none" stroke="#ffaa33" stroke-width="0.5" stroke-opacity="0.8"/>
<circle cx="733.9" cy="379.1" r="1.4" fill="none" stroke="#ffaa33" stroke-width="0.5" stroke-opacity="0.8"/>
<circle cx="725.8" cy="383.5" r="1.4" fill="none" stroke="#ffaa33" stroke-width="0.5" stroke-opacity="0.8"/>
<circle cx="725.5" cy="398.3" r="1.4" fill="none" stroke="#ffaa33" stroke-width="0.5" stroke-opacity="0.8"/>
<circle cx="725.8" cy="408.1" r="1.4" fill="none" stroke="#ffaa33" stroke-width="0.5" stroke-opacity="0.8"/>
<circle cx="738.5" cy="406.1" r="1.4" fill="none" stroke="#ffaa33" stroke-width="0.5" stroke-opacity="0.8"/>
<circle cx="739.3" cy="409.8" r="1.4" fill="none" stroke="#ffaa33" stroke-width="0.5" stroke-opacity="0.8"/>
<circle cx="734.4" cy="414.0" r="1.4" fill="none" stroke="#ffaa33" stroke-width="0.5" stroke-opacity="0.8"/>
<circle cx="733.1" cy="406.1" r="1.1" fill="#000"/>
<path d="M289.8,634.4C289.9,635.7 289.8,639.3 290.5,642.2C291.3,645.1 292.1,648.7 294.2,651.9C296.2,655.1 299.9,658.4 302.7,661.6C305.4,664.9 308.9,668.6 310.7,671.3C312.5,674.1 313.5,676.3 313.6,678.1C313.7,680.0 312.2,681.0 311.2,682.3C310.2,683.6 308.1,685.3 307.5,685.9L261.4,685.9C260.8,685.3 258.7,683.6 257.7,682.3C256.7,681.0 255.2,680.0 255.3,678.1C255.4,676.3 256.4,674.1 258.2,671.3C260.0,668.6 263.5,664.9 266.2,661.6C269.0,658.4 272.7,655.1 274.7,651.9C276.8,648.7 277.6,645.1 278.4,642.2C279.1,639.3 279.0,635.7 279.1,634.4Z" fill="#c9c9fb"/>
<line x1="284.4" y1="634.4" x2="284.4" y2="685.9" stroke="#4040ff" stroke-width="0.7"/>
<rect x="282.9" y="662.8" width="3.4" height="14.6" fill="#5a5aff" stroke="#4040ff" stroke-width="0.5"/>
<circle cx="277.9" cy="634.4" r="1.4" fill="none" stroke="#4040ff" stroke-width="0.5" stroke-opacity="0.8"/>
<circle cx="284.0" cy="660.4" r="1.4" fill="none" stroke="#4040ff" stroke-width="0.5" stroke-opacity="0.8"/>
<circle cx="288.3" cy="662.8" r="1.4" fill="none" stroke="#4040ff" stroke-width="0.5" stroke-opacity="0.8"/>
<circle cx="279.1" cy="675.5" r="1.4" fill="none" stroke="#4040ff" stroke-width="0.5" stroke-opacity="0.8"/>
<circle cx="280.3" cy="676.2" r="1.4" fill="none" stroke="#4040ff" stroke-width="0.5" stroke-opacity="0.8"/>
<circle cx="287.1" cy="679.8" r="1.4" fill="none" stroke="#4040ff" stroke-width="0.5" stroke-opacity="0.8"/>
<circle cx="277.9" cy="684.2" r="1.4" fill="none" stroke="#4040ff" stroke-width="0.5" stroke-opacity="0.8"/>
<circle cx="281.5" cy="685.9" r="1.4" fill="none" stroke="#4040ff" stroke-width="0.5" stroke-opacity="0.8"/>
<circle cx="284.4" cy="676.2" r="1.1" fill="#000"/>
<path d="M376.5,639.8C377.4,641.0 380.2,644.6 381.9,647.0C383.6,649.5 386.7,652.3 386.7,654.3C386.7,656.4 383.7,657.4 381.9,659.2C380.1,661.0 376.8,664.3 375.8,665.3L339.4,665.3C338.3,664.3 335.1,661.0 333.3,659.2C331.5,657.4 328.4,656.4 328.4,654.3C328.4,652.3 331.6,649.5 333.3,647.0C335.0,644.6 337.7,641.0 338.6,639.8Z" fill="#ffcaca"/>
<line x1="357.6" y1="639.8" x2="357.6" y2="665.3" stroke="#ff3030" stroke-width="0.7"/>
<rect x="355.8" y="644.1" width="3.4" height="9.7" fill="#ff6060" stroke="#ff3030" stroke-width="0.5"/>
<circle cx="358.6" cy="639.8" r="1.4" fill="none" stroke="#ff3030" stroke-width="0.5" stroke-opacity="0.8"/>
<circle cx="355.2" cy="644.1" r="1.4" fill="none" stroke="#ff3030" stroke-width="0.5" stroke-opacity="0.8"/>
<circle cx="364.1" cy="644.6" r="1.4" fill="none" stroke="#ff3030" stroke-width="0.5" stroke-opacity="0.8"/>
<circle cx="350.1" cy="651.4" r="1.4" fill="none" stroke="#ff3030" stroke-width="0.5" stroke-opacity="0.8"/>
<circle cx="353.7" cy="654.8" r="1.4" fill="none" stroke="#ff3030" stroke-width="0.5" stroke-opacity="0.8"/>
<circle cx="362.9" cy="654.8" r="1.4" fill="none" stroke="#ff3030" stroke-width="0.5" stroke-opacity="0.8"/>
<circle cx="362.9" cy="659.7" r="1.4" fill="none" stroke="#ff3030" stroke-width="0.5" stroke-opacity="0.8"/>
<circle cx="359.5" cy="665.3" r="1.4" fill="none" stroke="#ff3030" stroke-width="0.5" stroke-opacity="0.8"/>
<circle cx="356.9" cy="647.0" r="1.4" fill="none" stroke="#ff3030" stroke-width="0.5" stroke-opacity="0.8"/>
<circle cx="357.6" cy="653.6" r="1.1" fill="#000"/>
<path d="M686.5,583.1C687.2,584.3 690.4,587.4 690.9,590.4C691.4,593.5 690.2,598.0 689.4,601.5C688.7,604.9 687.4,607.6 686.5,611.3C685.6,615.0 684.7,620.8 684.0,623.6C683.4,626.4 683.0,627.3 682.8,628.0L641.1,628.0C640.9,627.3 640.5,626.4 639.8,623.6C639.2,620.8 638.3,615.0 637.4,611.3C636.5,607.6 635.2,604.9 634.4,601.5C633.7,598.0 632.5,593.5 633.0,590.4C633.5,587.4 636.6,584.3 637.4,583.1Z" fill="#c9c9fb"/>
<line x1="661.9" y1="583.1" x2="661.9" y2="628.0" stroke="#4040ff" stroke-width="0.7"/>
<rect x="660.4" y="591.6" width="3.4" height="25.8" fill="#5a5aff" stroke="#4040ff" stroke-width="0.5"/>
<circle cx="663.7" cy="583.1" r="1.4" fill="none" stroke="#4040ff" stroke-width="0.5" stroke-opacity="0.8"/>
<circle cx="655.3" cy="589.9" r="1.4" fill="none" stroke="#4040ff" stroke-width="0.5" stroke-opacity="0.8"/>
<circle cx="662.4" cy="589.2" r="1.4" fill="none" stroke="#4040ff" stroke-width="0.5" stroke-opacity="0.8"/>
<circle cx="656.3" cy="599.5" r="1.4" fill="none" stroke="#4040ff" stroke-width="0.5" stroke-opacity="0.8"/>
<circle cx="666.6" cy="597.8" r="1.4" fill="none" stroke="#4040ff" stroke-width="0.5" stroke-opacity="0.8"/>
<circle cx="667.3" cy="594.1" r="1.4" fill="none" stroke="#4040ff" stroke-width="0.5" stroke-opacity="0.8"/>
<circle cx="658.0" cy="616.2" r="1.4" fill="none" stroke="#4040ff" stroke-width="0.5" stroke-opacity="0.8"/>
<circle cx="659.5" cy="617.4" r="1.4" fill="none" stroke="#4040ff" stroke-width="0.5" stroke-opacity="0.8"/>
<circle cx="664.1" cy="612.5" r="1.4" fill="none" stroke="#4040ff" stroke-width="0.5" stroke-opacity="0.8"/>
<circle cx="657.5" cy="628.0" r="1.4" fill="none" stroke="#4040ff" stroke-width="0.5" stroke-opacity="0.8"/>
<circle cx="666.1" cy="626.0" r="1.4" fill="none" stroke="#4040ff" stroke-width="0.5" stroke-opacity="0.8"/>
<circle cx="661.9" cy="599.8" r="1.1" fill="#000"/>
<path d="M750.8,592.9C751.6,595.1 753.8,602.1 755.7,606.4C757.7,610.7 761.0,614.6 762.4,618.7C763.7,622.7 763.7,626.0 763.8,630.9C764.0,635.8 763.4,643.2 763.1,648.1C762.8,653.0 762.5,656.9 761.9,660.4C761.3,663.9 760.0,666.9 759.4,669.0C758.8,671.0 758.4,672.1 758.2,672.7L711.5,672.7C711.3,672.1 710.9,671.0 710.3,669.0C709.7,666.9 708.5,663.9 707.9,660.4C707.2,656.9 707.0,653.0 706.6,648.1C706.3,643.2 705.8,635.8 705.9,630.9C706.0,626.0 706.0,622.7 707.4,618.7C708.7,614.6 712.1,610.7 714.0,606.4C715.9,602.1 718.1,595.1 718.9,592.9Z" fill="#ffcaca"/>
<line x1="734.9" y1="592.9" x2="734.9" y2="672.7" stroke="#ff3030" stroke-width="0.7"/>
<rect x="733.0" y="617.9" width="3.4" height="46.2" fill="#ff6060" stroke="#ff3030" stroke-width="0.5"/>
<circle cx="732.4" cy="592.9" r="1.4" fill="none" stroke="#ff3030" stroke-width="0.5" stroke-opacity="0.8"/>
<circle cx="739.8" cy="608.3" r="1.4" fill="none" stroke="#ff3030" stroke-width="0.5" stroke-opacity="0.8"/>
<circle cx="737.3" cy="615.5" r="1.4" fill="none" stroke="#ff3030" stroke-width="0.5" stroke-opacity="0.8"/>
<circle cx="741.0" cy="619.9" r="1.4" fill="none" stroke="#ff3030" stroke-width="0.5" stroke-opacity="0.8"/>
<circle cx="729.5" cy="622.8" r="1.4" fill="none" stroke="#ff3030" stroke-width="0.5" stroke-opacity="0.8"/>
<circle cx="737.3" cy="635.8" r="1.4" fill="none" stroke="#ff3030" stroke-width="0.5" stroke-opacity="0.8"/>
<circle cx="729.5" cy="642.0" r="1.4" fill="none" stroke="#ff3030" stroke-width="0.5" stroke-opacity="0.8"/>
<circle cx="729.5" cy="665.3" r="1.4" fill="none" stroke="#ff3030" stroke-width="0.5" stroke-opacity="0.8"/>
<circle cx="741.7" cy="662.1" r="1.4" fill="none" stroke="#ff3030" stroke-width="0.5" stroke-opacity="0.8"/>
<circle cx="731.9" cy="672.7" r="1.4" fill="none" stroke="#ff3030" stroke-width="0.5" stroke-opacity="0.8"/>
<circle cx="734.9" cy="635.8" r="1.1" fill="#000"/>
<path d="M304.6,850.1C305.7,851.3 311.8,855.2 311.4,857.4C311.0,859.6 304.7,861.5 302.2,863.5C299.6,865.4 297.1,868.1 296.1,869.1L269.4,869.1C268.4,868.1 265.9,865.4 263.3,863.5C260.8,861.5 254.5,859.6 254.1,857.4C253.7,855.2 259.7,851.3 260.9,850.1Z" fill="#c6fbfb"/>
<line x1="282.7" y1="850.1" x2="282.7" y2="869.1" stroke="#10e0e0" stroke-width="0.7"/>
<rect x="281.0" y="853.8" width="3.4" height="6.1" fill="#40f0f0" stroke="#10e0e0" stroke-width="0.5"/>
<circle cx="288.8" cy="850.1" r="1.4" fill="none" stroke="#10e0e0" stroke-width="0.5" stroke-opacity="0.8"/>
<circle cx="286.4" cy="852.6" r="1.4" fill="none" stroke="#10e0e0" stroke-width="0.5" stroke-opacity="0.8"/>
<circle cx="277.4" cy="856.2" r="1.4" fill="none" stroke="#10e0e0" stroke-width="0.5" stroke-opacity="0.8"/>
<circle cx="277.9" cy="861.1" r="1.4" fill="none" stroke="#10e0e0" stroke-width="0.5" stroke-opacity="0.8"/>
<circle cx="287.6" cy="864.7" r="1.4" fill="none" stroke="#10e0e0" stroke-width="0.5" stroke-opacity="0.8"/>
<circle cx="286.4" cy="868.4" r="1.4" fill="none" stroke="#10e0e0" stroke-width="0.5" stroke-opacity="0.8"/>
<circle cx="288.8" cy="861.1" r="1.4" fill="none" stroke="#10e0e0" stroke-width="0.5" stroke-opacity="0.8"/>
<circle cx="282.7" cy="857.4" r="1.1" fill="#000"/>
<path d="M375.1,820.5C376.6,821.2 383.9,823.1 384.3,824.6C384.7,826.1 379.9,828.1 377.5,829.5C375.2,830.9 371.4,832.5 370.2,833.1L341.1,833.1C339.8,832.5 336.1,830.9 333.8,829.5C331.4,828.1 326.6,826.1 327.0,824.6C327.4,823.1 334.7,821.2 336.2,820.5Z" fill="#ffe6c4"/>
<line x1="355.6" y1="820.5" x2="355.6" y2="833.1" stroke="#ffaa33" stroke-width="0.7"/>
<rect x="354.1" y="822.2" width="3.4" height="7.3" fill="#ffbf60" stroke="#ffaa33" stroke-width="0.5"/>
<circle cx="354.4" cy="820.5" r="1.4" fill="none" stroke="#ffaa33" stroke-width="0.5" stroke-opacity="0.8"/>
<circle cx="349.6" cy="822.2" r="1.4" fill="none" stroke="#ffaa33" stroke-width="0.5" stroke-opacity="0.8"/>
<circle cx="359.3" cy="823.4" r="1.4" fill="none" stroke="#ffaa33" stroke-width="0.5" stroke-opacity="0.8"/>
<circle cx="350.8" cy="828.3" r="1.4" fill="none" stroke="#ffaa33" stroke-width="0.5" stroke-opacity="0.8"/>
<circle cx="362.4" cy="826.6" r="1.4" fill="none" stroke="#ffaa33" stroke-width="0.5" stroke-opacity="0.8"/>
<circle cx="353.7" cy="830.0" r="1.4" fill="none" stroke="#ffaa33" stroke-width="0.5" stroke-opacity="0.8"/>
<circle cx="360.5" cy="833.1" r="1.4" fill="none" stroke="#ffaa33" stroke-width="0.5" stroke-opacity="0.8"/>
<circle cx="358.1" cy="831.9" r="1.4" fill="none" stroke="#ffaa33" stroke-width="0.5" stroke-opacity="0.8"/>
<circle cx="355.6" cy="825.3" r="1.1" fill="#000"/>
<path d="M679.1,842.9C680.4,844.9 684.3,851.0 686.5,855.1C688.7,859.2 692.1,864.1 692.1,867.4C692.1,870.7 688.7,872.5 686.5,874.8C684.3,877.0 680.4,879.9 679.1,880.9L647.2,880.9C646.0,879.9 642.0,877.0 639.8,874.8C637.7,872.5 634.2,870.7 634.2,867.4C634.2,864.1 637.7,859.2 639.8,855.1C642.0,851.0 646.0,844.9 647.2,842.9Z" fill="#c6fbfb"/>
<line x1="663.2" y1="842.9" x2="663.2" y2="880.9" stroke="#10e0e0" stroke-width="0.7"/>
<rect x="661.5" y="851.4" width="3.4" height="20.9" fill="#40f0f0" stroke="#10e0e0" stroke-width="0.5"/>
<circle cx="662.4" cy="842.9" r="1.4" fill="none" stroke="#10e0e0" stroke-width="0.5" stroke-opacity="0.8"/>
<circle cx="661.2" cy="847.8" r="1.4" fill="none" stroke="#10e0e0" stroke-width="0.5" stroke-opacity="0.8"/>
<circle cx="663.7" cy="852.7" r="1.4" fill="none" stroke="#10e0e0" stroke-width="0.5" stroke-opacity="0.8"/>
<circle cx="658.7" cy="860.0" r="1.4" fill="none" stroke="#10e0e0" stroke-width="0.5" stroke-opacity="0.8"/>
<circle cx="666.1" cy="867.4" r="1.4" fill="none" stroke="#10e0e0" stroke-width="0.5" stroke-opacity="0.8"/>
<circle cx="667.3" cy="873.5" r="1.4" fill="none" stroke="#10e0e0" stroke-width="0.5" stroke-opacity="0.8"/>
<circle cx="663.2" cy="879.7" r="1.4" fill="none" stroke="#10e0e0" stroke-width="0.5" stroke-opacity="0.8"/>
<circle cx="663.2" cy="864.5" r="1.1" fill="#000"/>
<path d="M749.6,815.8C752.2,817.5 764.2,822.8 765.1,825.7C765.9,828.5 757.5,830.9 754.5,833.0C751.5,835.2 748.4,837.5 747.1,838.4L725.0,838.4C723.8,837.5 720.7,835.2 717.7,833.0C714.7,830.9 706.3,828.5 707.1,825.7C707.9,822.8 720.0,817.5 722.6,815.8Z" fill="#ffe6c4"/>
<line x1="736.1" y1="815.8" x2="736.1" y2="838.4" stroke="#ffaa33" stroke-width="0.7"/>
<rect x="734.4" y="822.0" width="3.4" height="7.4" fill="#ffbf60" stroke="#ffaa33" stroke-width="0.5"/>
<circle cx="731.2" cy="815.8" r="1.4" fill="none" stroke="#ffaa33" stroke-width="0.5" stroke-opacity="0.8"/>
<circle cx="730.4" cy="818.8" r="1.4" fill="none" stroke="#ffaa33" stroke-width="0.5" stroke-opacity="0.8"/>
<circle cx="737.3" cy="820.3" r="1.4" fill="none" stroke="#ffaa33" stroke-width="0.5" stroke-opacity="0.8"/>
<circle cx="731.2" cy="825.2" r="1.4" fill="none" stroke="#ffaa33" stroke-width="0.5" stroke-opacity="0.8"/>
<circle cx="740.3" cy="825.7" r="1.4" fill="none" stroke="#ffaa33" stroke-width="0.5" stroke-opacity="0.8"/>
<circle cx="733.6" cy="827.6" r="1.4" fill="none" stroke="#ffaa33" stroke-width="0.5" stroke-opacity="0.8"/>
<circle cx="738.5" cy="833.0" r="1.4" fill="none" stroke="#ffaa33" stroke-width="0.5" stroke-opacity="0.8"/>
<circle cx="738.5" cy="837.9" r="1.4" fill="none" stroke="#ffaa33" stroke-width="0.5" stroke-opacity="0.8"/>
<circle cx="736.1" cy="825.7" r="1.1" fill="#000"/>
<line x1="241.4" y1="274.0" x2="399.4" y2="274.0" stroke="#333" stroke-width="0.8" stroke-dasharray="2.2,2"/>
<line x1="618.7" y1="275.1" x2="776.7" y2="275.1" stroke="#333" stroke-width="0.8" stroke-dasharray="2.2,2"/>
<line x1="241.0" y1="460.5" x2="399.0" y2="460.5" stroke="#333" stroke-width="0.8" stroke-dasharray="2.2,2"/>
<line x1="618.7" y1="459.0" x2="776.7" y2="459.0" stroke="#333" stroke-width="0.8" stroke-dasharray="2.2,2"/>
<line x1="242.7" y1="678.1" x2="400.7" y2="678.1" stroke="#333" stroke-width="0.8" stroke-dasharray="2.2,2"/>
<line x1="620.2" y1="678.1" x2="778.2" y2="678.1" stroke="#333" stroke-width="0.8" stroke-dasharray="2.2,2"/>
<line x1="240.7" y1="857.9" x2="398.7" y2="857.9" stroke="#333" stroke-width="0.8" stroke-dasharray="2.2,2"/>
<line x1="621.2" y1="858.1" x2="779.2" y2="858.1" stroke="#333" stroke-width="0.8" stroke-dasharray="2.2,2"/>
<rect x="155.5" y="964.6" width="7.6" height="175.2" fill="#ececec"/>
<rect x="178.2" y="964.6" width="5.7" height="175.2" fill="#ececec"/>
<line x1="50.6" y1="970.1" x2="50.6" y2="1133.5" stroke="#333" stroke-width="0.9"/>
<line x1="46.6" y1="970.1" x2="50.6" y2="970.1" stroke="#333" stroke-width="0.9"/>
<text transform="translate(39.1,970.1) rotate(-90)" font-size="9.3" text-anchor="middle" fill="#222">10</text>
<line x1="46.6" y1="1010.9" x2="50.6" y2="1010.9" stroke="#333" stroke-width="0.9"/>
<text transform="translate(39.1,1010.9) rotate(-90)" font-size="9.3" text-anchor="middle" fill="#222">5</text>
<line x1="46.6" y1="1051.8" x2="50.6" y2="1051.8" stroke="#333" stroke-width="0.9"/>
<text transform="translate(39.1,1051.8) rotate(-90)" font-size="9.3" text-anchor="middle" fill="#222">0</text>
<line x1="46.6" y1="1092.6" x2="50.6" y2="1092.6" stroke="#333" stroke-width="0.9"/>
<text transform="translate(39.1,1092.6) rotate(-90)" font-size="9.3" text-anchor="middle" fill="#222">-5</text>
<line x1="46.6" y1="1133.5" x2="50.6" y2="1133.5" stroke="#333" stroke-width="0.9"/>
<text transform="translate(39.1,1133.5) rotate(-90)" font-size="9.3" text-anchor="middle" fill="#222">-10</text>
<line x1="62.9" y1="1139.8" x2="365.2" y2="1139.8" stroke="#333" stroke-width="0.9"/>
<line x1="62.9" y1="1139.8" x2="62.9" y2="1143.8" stroke="#333" stroke-width="0.9"/>
<text x="62.9" y="1159.2" font-size="9.3" text-anchor="middle" fill="#222">-200</text>
<line x1="138.5" y1="1139.8" x2="138.5" y2="1143.8" stroke="#333" stroke-width="0.9"/>
<text x="138.5" y="1159.2" font-size="9.3" text-anchor="middle" fill="#222">0</text>
<line x1="214.1" y1="1139.8" x2="214.1" y2="1143.8" stroke="#333" stroke-width="0.9"/>
<text x="214.1" y="1159.2" font-size="9.3" text-anchor="middle" fill="#222">200</text>
<line x1="289.6" y1="1139.8" x2="289.6" y2="1143.8" stroke="#333" stroke-width="0.9"/>
<text x="289.6" y="1159.2" font-size="9.3" text-anchor="middle" fill="#222">400</text>
<line x1="365.2" y1="1139.8" x2="365.2" y2="1143.8" stroke="#333" stroke-width="0.9"/>
<text x="365.2" y="1159.2" font-size="9.3" text-anchor="middle" fill="#222">600</text>
<text x="214.1" y="1178.6" font-size="13.3" text-anchor="middle" fill="#111">Time (ms)</text>
<line x1="50.6" y1="1051.8" x2="378.2" y2="1051.8" stroke="#444" stroke-width="0.9" stroke-dasharray="2,2.2"/>
<line x1="138.5" y1="964.6" x2="138.5" y2="1139.8" stroke="#333" stroke-width="0.8" stroke-dasharray="2,2"/>
<path d="M62.9,1047.3C64.2,1047.6 65.5,1048.6 70.5,1049.3C75.5,1050.1 86.9,1051.0 93.2,1051.8C99.5,1052.6 103.2,1054.1 108.3,1054.3C113.3,1054.4 118.4,1053.2 123.4,1052.6C128.4,1052.1 134.1,1051.5 138.5,1051.0C142.9,1050.4 146.1,1050.2 149.8,1049.3C153.6,1048.5 158.0,1046.2 161.2,1046.1C164.3,1045.9 166.2,1047.7 168.7,1048.5C171.2,1049.3 171.9,1050.6 176.3,1051.0C180.7,1051.4 188.9,1051.1 195.2,1051.0C201.5,1050.8 207.8,1050.0 214.1,1050.2C220.4,1050.3 226.7,1051.7 232.9,1051.8C239.2,1051.9 242.4,1051.1 251.8,1051.0C261.3,1050.8 278.9,1050.8 289.6,1051.0C300.3,1051.1 308.5,1051.1 316.1,1051.8C323.6,1052.5 329.3,1054.8 335.0,1055.1C340.6,1055.3 345.0,1054.4 350.1,1053.4C355.1,1052.5 362.7,1050.0 365.2,1049.3" fill="none" stroke="#22eeee" stroke-opacity="0.18" stroke-width="3.5"/>
<path d="M62.9,1047.3C64.2,1047.6 65.5,1048.6 70.5,1049.3C75.5,1050.1 86.9,1051.0 93.2,1051.8C99.5,1052.6 103.2,1054.1 108.3,1054.3C113.3,1054.4 118.4,1053.2 123.4,1052.6C128.4,1052.1 134.1,1051.5 138.5,1051.0C142.9,1050.4 146.1,1050.2 149.8,1049.3C153.6,1048.5 158.0,1046.2 161.2,1046.1C164.3,1045.9 166.2,1047.7 168.7,1048.5C171.2,1049.3 171.9,1050.6 176.3,1051.0C180.7,1051.4 188.9,1051.1 195.2,1051.0C201.5,1050.8 207.8,1050.0 214.1,1050.2C220.4,1050.3 226.7,1051.7 232.9,1051.8C239.2,1051.9 242.4,1051.1 251.8,1051.0C261.3,1050.8 278.9,1050.8 289.6,1051.0C300.3,1051.1 308.5,1051.1 316.1,1051.8C323.6,1052.5 329.3,1054.8 335.0,1055.1C340.6,1055.3 345.0,1054.4 350.1,1053.4C355.1,1052.5 362.7,1050.0 365.2,1049.3" fill="none" stroke="#22eeee" stroke-width="1.3"/>
<path d="M62.9,1051.8C66.1,1051.8 75.5,1051.9 81.8,1051.8C88.1,1051.7 94.4,1051.7 100.7,1051.4C107.0,1051.1 113.3,1050.4 119.6,1050.2C125.9,1050.0 132.2,1050.3 138.5,1050.2C144.8,1050.0 152.4,1049.3 157.4,1049.3C162.4,1049.3 164.9,1050.5 168.7,1050.2C172.5,1049.8 176.9,1047.6 180.1,1047.3C183.2,1047.0 185.1,1048.1 187.6,1048.5C190.1,1049.0 190.8,1050.0 195.2,1050.2C199.6,1050.3 208.4,1048.8 214.1,1049.3C219.7,1049.9 224.4,1051.4 229.2,1053.4C233.9,1055.5 238.6,1060.8 242.4,1061.6C246.2,1062.4 247.7,1060.0 251.8,1058.3C255.9,1056.7 260.7,1053.4 267.0,1051.8C273.2,1050.2 284.0,1049.8 289.6,1048.9C295.3,1048.1 296.5,1046.8 301.0,1046.9C305.4,1047.0 310.4,1048.8 316.1,1049.3C321.7,1049.9 329.3,1050.6 335.0,1050.2C340.6,1049.8 345.7,1047.3 350.1,1046.9C354.5,1046.5 358.9,1048.3 361.4,1047.7C363.9,1047.2 364.6,1044.3 365.2,1043.6" fill="none" stroke="#2222ff" stroke-opacity="0.18" stroke-width="3.5"/>
<path d="M62.9,1051.8C66.1,1051.8 75.5,1051.9 81.8,1051.8C88.1,1051.7 94.4,1051.7 100.7,1051.4C107.0,1051.1 113.3,1050.4 119.6,1050.2C125.9,1050.0 132.2,1050.3 138.5,1050.2C144.8,1050.0 152.4,1049.3 157.4,1049.3C162.4,1049.3 164.9,1050.5 168.7,1050.2C172.5,1049.8 176.9,1047.6 180.1,1047.3C183.2,1047.0 185.1,1048.1 187.6,1048.5C190.1,1049.0 190.8,1050.0 195.2,1050.2C199.6,1050.3 208.4,1048.8 214.1,1049.3C219.7,1049.9 224.4,1051.4 229.2,1053.4C233.9,1055.5 238.6,1060.8 242.4,1061.6C246.2,1062.4 247.7,1060.0 251.8,1058.3C255.9,1056.7 260.7,1053.4 267.0,1051.8C273.2,1050.2 284.0,1049.8 289.6,1048.9C295.3,1048.1 296.5,1046.8 301.0,1046.9C305.4,1047.0 310.4,1048.8 316.1,1049.3C321.7,1049.9 329.3,1050.6 335.0,1050.2C340.6,1049.8 345.7,1047.3 350.1,1046.9C354.5,1046.5 358.9,1048.3 361.4,1047.7C363.9,1047.2 364.6,1044.3 365.2,1043.6" fill="none" stroke="#2222ff" stroke-width="1.3"/>
<path d="M62.9,1053.4C66.1,1053.3 75.5,1052.9 81.8,1052.6C88.1,1052.3 95.1,1051.8 100.7,1051.8C106.4,1051.8 112.1,1053.0 115.8,1052.6C119.6,1052.2 120.2,1049.8 123.4,1049.3C126.5,1048.9 131.6,1049.5 134.7,1049.8C137.9,1050.0 139.8,1050.4 142.3,1051.0C144.8,1051.6 147.8,1054.7 149.8,1053.4C151.8,1052.2 153.0,1050.7 154.4,1043.6C155.8,1036.5 156.9,1019.3 158.1,1010.9C159.3,1002.6 160.4,993.8 161.5,993.8C162.7,993.8 163.7,1002.6 164.9,1010.9C166.1,1019.3 167.5,1037.5 168.7,1043.6C170.0,1049.8 171.2,1048.5 172.5,1047.7C173.8,1046.9 175.0,1041.5 176.3,1038.7C177.6,1036.0 179.2,1031.6 180.4,1031.4C181.7,1031.1 182.5,1033.3 183.8,1037.1C185.2,1040.9 186.5,1048.0 188.4,1054.3C190.3,1060.5 192.8,1069.9 195.2,1074.7C197.6,1079.4 200.2,1081.1 202.7,1082.8C205.2,1084.6 207.8,1085.2 210.3,1085.3C212.8,1085.4 215.3,1085.2 217.8,1083.7C220.4,1082.2 222.9,1079.2 225.4,1076.3C227.9,1073.5 230.4,1070.6 232.9,1066.5C235.5,1062.4 237.4,1055.6 240.5,1051.8C243.7,1048.0 248.1,1046.4 251.8,1043.6C255.6,1040.9 259.4,1037.4 263.2,1035.5C267.0,1033.6 270.7,1033.6 274.5,1032.2C278.3,1030.8 281.4,1028.4 285.8,1027.3C290.2,1026.2 296.5,1025.4 301.0,1025.7C305.4,1025.9 307.9,1027.0 312.3,1028.9C316.7,1030.8 323.0,1034.2 327.4,1037.1C331.8,1040.0 335.6,1044.0 338.7,1046.1C341.9,1048.1 343.8,1048.7 346.3,1049.3C348.8,1050.0 351.6,1050.6 353.8,1050.2C356.0,1049.8 357.6,1047.6 359.5,1046.9C361.4,1046.2 364.2,1046.2 365.2,1046.1" fill="none" stroke="#ff2020" stroke-opacity="0.18" stroke-width="3.5"/>
<path d="M62.9,1053.4C66.1,1053.3 75.5,1052.9 81.8,1052.6C88.1,1052.3 95.1,1051.8 100.7,1051.8C106.4,1051.8 112.1,1053.0 115.8,1052.6C119.6,1052.2 120.2,1049.8 123.4,1049.3C126.5,1048.9 131.6,1049.5 134.7,1049.8C137.9,1050.0 139.8,1050.4 142.3,1051.0C144.8,1051.6 147.8,1054.7 149.8,1053.4C151.8,1052.2 153.0,1050.7 154.4,1043.6C155.8,1036.5 156.9,1019.3 158.1,1010.9C159.3,1002.6 160.4,993.8 161.5,993.8C162.7,993.8 163.7,1002.6 164.9,1010.9C166.1,1019.3 167.5,1037.5 168.7,1043.6C170.0,1049.8 171.2,1048.5 172.5,1047.7C173.8,1046.9 175.0,1041.5 176.3,1038.7C177.6,1036.0 179.2,1031.6 180.4,1031.4C181.7,1031.1 182.5,1033.3 183.8,1037.1C185.2,1040.9 186.5,1048.0 188.4,1054.3C190.3,1060.5 192.8,1069.9 195.2,1074.7C197.6,1079.4 200.2,1081.1 202.7,1082.8C205.2,1084.6 207.8,1085.2 210.3,1085.3C212.8,1085.4 215.3,1085.2 217.8,1083.7C220.4,1082.2 222.9,1079.2 225.4,1076.3C227.9,1073.5 230.4,1070.6 232.9,1066.5C235.5,1062.4 237.4,1055.6 240.5,1051.8C243.7,1048.0 248.1,1046.4 251.8,1043.6C255.6,1040.9 259.4,1037.4 263.2,1035.5C267.0,1033.6 270.7,1033.6 274.5,1032.2C278.3,1030.8 281.4,1028.4 285.8,1027.3C290.2,1026.2 296.5,1025.4 301.0,1025.7C305.4,1025.9 307.9,1027.0 312.3,1028.9C316.7,1030.8 323.0,1034.2 327.4,1037.1C331.8,1040.0 335.6,1044.0 338.7,1046.1C341.9,1048.1 343.8,1048.7 346.3,1049.3C348.8,1050.0 351.6,1050.6 353.8,1050.2C356.0,1049.8 357.6,1047.6 359.5,1046.9C361.4,1046.2 364.2,1046.2 365.2,1046.1" fill="none" stroke="#ff2020" stroke-width="1.3"/>
<path d="M62.9,1054.3C66.1,1054.1 75.5,1053.8 81.8,1053.4C88.1,1053.0 95.1,1052.2 100.7,1051.8C106.4,1051.4 111.4,1051.0 115.8,1051.0C120.2,1051.0 123.4,1051.8 127.2,1051.8C130.9,1051.8 134.7,1050.6 138.5,1051.0C142.3,1051.4 147.2,1055.5 149.8,1054.3C152.5,1053.0 153.0,1050.6 154.4,1043.6C155.8,1036.7 156.9,1020.1 158.1,1012.6C159.3,1005.1 160.4,998.7 161.5,998.7C162.7,998.7 163.7,1005.1 164.9,1012.6C166.1,1020.1 167.5,1037.6 168.7,1043.6C170.0,1049.6 171.2,1049.6 172.5,1048.5C173.8,1047.4 174.9,1040.4 176.3,1037.1C177.7,1033.8 179.4,1028.9 180.8,1028.9C182.2,1028.9 183.3,1032.9 184.6,1037.1C185.9,1041.3 186.6,1047.9 188.4,1054.3C190.1,1060.7 192.8,1070.7 195.2,1075.5C197.6,1080.3 199.9,1081.3 202.7,1082.8C205.6,1084.3 209.3,1084.6 212.2,1084.5C215.0,1084.3 217.2,1083.5 219.7,1082.0C222.2,1080.5 224.8,1078.5 227.3,1075.5C229.8,1072.5 232.3,1068.4 234.8,1064.1C237.4,1059.7 239.6,1052.9 242.4,1049.3C245.2,1045.8 248.4,1045.0 251.8,1042.8C255.3,1040.6 259.4,1037.9 263.2,1036.3C267.0,1034.6 270.1,1034.2 274.5,1033.0C278.9,1031.8 284.0,1029.3 289.6,1028.9C295.3,1028.5 302.8,1029.9 308.5,1030.6C314.2,1031.2 318.6,1031.5 323.6,1033.0C328.7,1034.5 334.3,1036.7 338.7,1039.5C343.1,1042.4 346.9,1048.5 350.1,1050.2C353.2,1051.8 355.1,1049.8 357.6,1049.3C360.1,1048.9 363.9,1048.0 365.2,1047.7" fill="none" stroke="#ff9a10" stroke-opacity="0.18" stroke-width="3.5"/>
<path d="M62.9,1054.3C66.1,1054.1 75.5,1053.8 81.8,1053.4C88.1,1053.0 95.1,1052.2 100.7,1051.8C106.4,1051.4 111.4,1051.0 115.8,1051.0C120.2,1051.0 123.4,1051.8 127.2,1051.8C130.9,1051.8 134.7,1050.6 138.5,1051.0C142.3,1051.4 147.2,1055.5 149.8,1054.3C152.5,1053.0 153.0,1050.6 154.4,1043.6C155.8,1036.7 156.9,1020.1 158.1,1012.6C159.3,1005.1 160.4,998.7 161.5,998.7C162.7,998.7 163.7,1005.1 164.9,1012.6C166.1,1020.1 167.5,1037.6 168.7,1043.6C170.0,1049.6 171.2,1049.6 172.5,1048.5C173.8,1047.4 174.9,1040.4 176.3,1037.1C177.7,1033.8 179.4,1028.9 180.8,1028.9C182.2,1028.9 183.3,1032.9 184.6,1037.1C185.9,1041.3 186.6,1047.9 188.4,1054.3C190.1,1060.7 192.8,1070.7 195.2,1075.5C197.6,1080.3 199.9,1081.3 202.7,1082.8C205.6,1084.3 209.3,1084.6 212.2,1084.5C215.0,1084.3 217.2,1083.5 219.7,1082.0C222.2,1080.5 224.8,1078.5 227.3,1075.5C229.8,1072.5 232.3,1068.4 234.8,1064.1C237.4,1059.7 239.6,1052.9 242.4,1049.3C245.2,1045.8 248.4,1045.0 251.8,1042.8C255.3,1040.6 259.4,1037.9 263.2,1036.3C267.0,1034.6 270.1,1034.2 274.5,1033.0C278.9,1031.8 284.0,1029.3 289.6,1028.9C295.3,1028.5 302.8,1029.9 308.5,1030.6C314.2,1031.2 318.6,1031.5 323.6,1033.0C328.7,1034.5 334.3,1036.7 338.7,1039.5C343.1,1042.4 346.9,1048.5 350.1,1050.2C353.2,1051.8 355.1,1049.8 357.6,1049.3C360.1,1048.9 363.9,1048.0 365.2,1047.7" fill="none" stroke="#ff9a10" stroke-width="1.3"/>
<rect x="554.6" y="964.6" width="7.5" height="175.2" fill="#ececec"/>
<rect x="577.2" y="964.6" width="5.7" height="175.2" fill="#ececec"/>
<line x1="449.8" y1="970.1" x2="449.8" y2="1133.5" stroke="#333" stroke-width="0.9"/>
<line x1="445.8" y1="970.1" x2="449.8" y2="970.1" stroke="#333" stroke-width="0.9"/>
<text transform="translate(438.3,970.1) rotate(-90)" font-size="9.3" text-anchor="middle" fill="#222">10</text>
<line x1="445.8" y1="1010.9" x2="449.8" y2="1010.9" stroke="#333" stroke-width="0.9"/>
<text transform="translate(438.3,1010.9) rotate(-90)" font-size="9.3" text-anchor="middle" fill="#222">5</text>
<line x1="445.8" y1="1051.8" x2="449.8" y2="1051.8" stroke="#333" stroke-width="0.9"/>
<text transform="translate(438.3,1051.8) rotate(-90)" font-size="9.3" text-anchor="middle" fill="#222">0</text>
<line x1="445.8" y1="1092.6" x2="449.8" y2="1092.6" stroke="#333" stroke-width="0.9"/>
<text transform="translate(438.3,1092.6) rotate(-90)" font-size="9.3" text-anchor="middle" fill="#222">-5</text>
<line x1="445.8" y1="1133.5" x2="449.8" y2="1133.5" stroke="#333" stroke-width="0.9"/>
<text transform="translate(438.3,1133.5) rotate(-90)" font-size="9.3" text-anchor="middle" fill="#222">-10</text>
<line x1="462.2" y1="1139.8" x2="763.9" y2="1139.8" stroke="#333" stroke-width="0.9"/>
<line x1="462.2" y1="1139.8" x2="462.2" y2="1143.8" stroke="#333" stroke-width="0.9"/>
<text x="462.2" y="1159.2" font-size="9.3" text-anchor="middle" fill="#222">-200</text>
<line x1="537.6" y1="1139.8" x2="537.6" y2="1143.8" stroke="#333" stroke-width="0.9"/>
<text x="537.6" y="1159.2" font-size="9.3" text-anchor="middle" fill="#222">0</text>
<line x1="613.0" y1="1139.8" x2="613.0" y2="1143.8" stroke="#333" stroke-width="0.9"/>
<text x="613.0" y="1159.2" font-size="9.3" text-anchor="middle" fill="#222">200</text>
<line x1="688.5" y1="1139.8" x2="688.5" y2="1143.8" stroke="#333" stroke-width="0.9"/>
<text x="688.5" y="1159.2" font-size="9.3" text-anchor="middle" fill="#222">400</text>
<line x1="763.9" y1="1139.8" x2="763.9" y2="1143.8" stroke="#333" stroke-width="0.9"/>
<text x="763.9" y="1159.2" font-size="9.3" text-anchor="middle" fill="#222">600</text>
<text x="613.0" y="1178.6" font-size="13.3" text-anchor="middle" fill="#111">Time (ms)</text>
<line x1="449.8" y1="1051.8" x2="776.9" y2="1051.8" stroke="#444" stroke-width="0.9" stroke-dasharray="2,2.2"/>
<line x1="537.6" y1="964.6" x2="537.6" y2="1139.8" stroke="#333" stroke-width="0.8" stroke-dasharray="2,2"/>
<path d="M462.2,1054.3C465.3,1054.0 474.7,1053.7 481.0,1052.6C487.3,1051.5 494.2,1048.1 499.9,1047.7C505.5,1047.3 509.9,1049.2 515.0,1050.2C520.0,1051.1 526.3,1052.8 530.1,1053.4C533.8,1054.1 533.2,1054.1 537.6,1054.3C542.0,1054.4 550.2,1054.4 556.5,1054.3C562.7,1054.1 569.0,1053.4 575.3,1053.4C581.6,1053.4 587.9,1054.0 594.2,1054.3C600.5,1054.5 603.6,1054.9 613.0,1055.1C622.5,1055.2 638.2,1055.3 650.8,1055.1C663.3,1054.8 675.9,1053.7 688.5,1053.4C701.1,1053.2 716.1,1053.3 726.2,1053.4C736.3,1053.6 742.5,1054.5 748.8,1054.3C755.1,1054.0 761.4,1052.2 763.9,1051.8" fill="none" stroke="#22eeee" stroke-opacity="0.18" stroke-width="3.5"/>
<path d="M462.2,1054.3C465.3,1054.0 474.7,1053.7 481.0,1052.6C487.3,1051.5 494.2,1048.1 499.9,1047.7C505.5,1047.3 509.9,1049.2 515.0,1050.2C520.0,1051.1 526.3,1052.8 530.1,1053.4C533.8,1054.1 533.2,1054.1 537.6,1054.3C542.0,1054.4 550.2,1054.4 556.5,1054.3C562.7,1054.1 569.0,1053.4 575.3,1053.4C581.6,1053.4 587.9,1054.0 594.2,1054.3C600.5,1054.5 603.6,1054.9 613.0,1055.1C622.5,1055.2 638.2,1055.3 650.8,1055.1C663.3,1054.8 675.9,1053.7 688.5,1053.4C701.1,1053.2 716.1,1053.3 726.2,1053.4C736.3,1053.6 742.5,1054.5 748.8,1054.3C755.1,1054.0 761.4,1052.2 763.9,1051.8" fill="none" stroke="#22eeee" stroke-width="1.3"/>
<path d="M462.2,1053.4C465.3,1053.4 474.7,1053.7 481.0,1053.4C487.3,1053.2 493.6,1052.1 499.9,1051.8C506.2,1051.5 512.5,1052.3 518.7,1051.8C525.0,1051.3 533.2,1049.2 537.6,1048.5C542.0,1047.9 542.8,1047.3 545.1,1047.7C547.5,1048.1 550.0,1054.4 551.9,1051.0C553.8,1047.6 555.1,1035.6 556.5,1027.3C557.8,1019.0 558.8,1001.1 560.2,1001.1C561.6,1001.1 563.0,1019.3 564.8,1027.3C566.5,1035.3 568.4,1050.4 570.8,1049.3C573.2,1048.3 576.8,1022.4 579.1,1020.8C581.4,1019.1 582.9,1032.7 584.8,1039.5C586.6,1046.4 587.0,1056.8 590.4,1061.6C593.9,1066.4 600.2,1066.4 605.5,1068.1C610.8,1069.9 618.4,1072.5 622.5,1072.2C626.6,1072.0 627.5,1069.9 630.0,1066.5C632.5,1063.1 634.1,1056.3 637.6,1051.8C641.0,1047.3 645.4,1042.5 650.8,1039.5C656.1,1036.5 663.3,1035.1 669.6,1033.8C675.9,1032.6 681.6,1033.3 688.5,1032.2C695.4,1031.1 704.8,1026.7 711.1,1027.3C717.4,1027.8 721.2,1032.1 726.2,1035.5C731.2,1038.9 736.3,1044.6 741.3,1047.7C746.3,1050.8 752.6,1053.0 756.4,1054.3C760.1,1055.5 762.7,1054.9 763.9,1055.1" fill="none" stroke="#ff2020" stroke-opacity="0.18" stroke-width="3.5"/>
<path d="M462.2,1053.4C465.3,1053.4 474.7,1053.7 481.0,1053.4C487.3,1053.2 493.6,1052.1 499.9,1051.8C506.2,1051.5 512.5,1052.3 518.7,1051.8C525.0,1051.3 533.2,1049.2 537.6,1048.5C542.0,1047.9 542.8,1047.3 545.1,1047.7C547.5,1048.1 550.0,1054.4 551.9,1051.0C553.8,1047.6 555.1,1035.6 556.5,1027.3C557.8,1019.0 558.8,1001.1 560.2,1001.1C561.6,1001.1 563.0,1019.3 564.8,1027.3C566.5,1035.3 568.4,1050.4 570.8,1049.3C573.2,1048.3 576.8,1022.4 579.1,1020.8C581.4,1019.1 582.9,1032.7 584.8,1039.5C586.6,1046.4 587.0,1056.8 590.4,1061.6C593.9,1066.4 600.2,1066.4 605.5,1068.1C610.8,1069.9 618.4,1072.5 622.5,1072.2C626.6,1072.0 627.5,1069.9 630.0,1066.5C632.5,1063.1 634.1,1056.3 637.6,1051.8C641.0,1047.3 645.4,1042.5 650.8,1039.5C656.1,1036.5 663.3,1035.1 669.6,1033.8C675.9,1032.6 681.6,1033.3 688.5,1032.2C695.4,1031.1 704.8,1026.7 711.1,1027.3C717.4,1027.8 721.2,1032.1 726.2,1035.5C731.2,1038.9 736.3,1044.6 741.3,1047.7C746.3,1050.8 752.6,1053.0 756.4,1054.3C760.1,1055.5 762.7,1054.9 763.9,1055.1" fill="none" stroke="#ff2020" stroke-width="1.3"/>
<path d="M462.2,1051.8C465.3,1052.1 474.7,1053.4 481.0,1053.4C487.3,1053.4 493.6,1052.1 499.9,1051.8C506.2,1051.5 512.5,1051.8 518.7,1051.8C525.0,1051.8 532.6,1051.8 537.6,1051.8C542.6,1051.8 546.3,1053.4 548.9,1051.8C551.6,1050.2 551.6,1050.4 553.4,1042.0C555.3,1033.6 558.2,1003.6 560.2,1001.1C562.2,998.7 563.8,1019.3 565.5,1027.3C567.3,1035.3 568.5,1049.2 570.8,1049.3C573.1,1049.5 576.8,1028.8 579.1,1028.1C581.4,1027.4 582.9,1037.9 584.8,1045.3C586.6,1052.6 588.2,1065.7 590.4,1072.2C592.6,1078.8 594.5,1081.3 598.0,1084.5C601.4,1087.6 607.4,1090.6 611.2,1091.0C614.9,1091.4 617.1,1090.7 620.6,1086.9C624.0,1083.1 628.8,1074.7 631.9,1068.1C635.0,1061.6 636.3,1052.5 639.4,1047.7C642.6,1042.9 645.7,1042.3 650.8,1039.5C655.8,1036.8 663.3,1033.7 669.6,1031.4C675.9,1029.1 682.2,1025.7 688.5,1025.7C694.8,1025.7 701.1,1029.7 707.3,1031.4C713.6,1033.0 720.5,1032.7 726.2,1035.5C731.9,1038.2 736.9,1044.7 741.3,1047.7C745.7,1050.7 748.8,1052.5 752.6,1053.4C756.4,1054.4 762.0,1053.4 763.9,1053.4" fill="none" stroke="#ff9a10" stroke-opacity="0.18" stroke-width="3.5"/>
<path d="M462.2,1051.8C465.3,1052.1 474.7,1053.4 481.0,1053.4C487.3,1053.4 493.6,1052.1 499.9,1051.8C506.2,1051.5 512.5,1051.8 518.7,1051.8C525.0,1051.8 532.6,1051.8 537.6,1051.8C542.6,1051.8 546.3,1053.4 548.9,1051.8C551.6,1050.2 551.6,1050.4 553.4,1042.0C555.3,1033.6 558.2,1003.6 560.2,1001.1C562.2,998.7 563.8,1019.3 565.5,1027.3C567.3,1035.3 568.5,1049.2 570.8,1049.3C573.1,1049.5 576.8,1028.8 579.1,1028.1C581.4,1027.4 582.9,1037.9 584.8,1045.3C586.6,1052.6 588.2,1065.7 590.4,1072.2C592.6,1078.8 594.5,1081.3 598.0,1084.5C601.4,1087.6 607.4,1090.6 611.2,1091.0C614.9,1091.4 617.1,1090.7 620.6,1086.9C624.0,1083.1 628.8,1074.7 631.9,1068.1C635.0,1061.6 636.3,1052.5 639.4,1047.7C642.6,1042.9 645.7,1042.3 650.8,1039.5C655.8,1036.8 663.3,1033.7 669.6,1031.4C675.9,1029.1 682.2,1025.7 688.5,1025.7C694.8,1025.7 701.1,1029.7 707.3,1031.4C713.6,1033.0 720.5,1032.7 726.2,1035.5C731.9,1038.2 736.9,1044.7 741.3,1047.7C745.7,1050.7 748.8,1052.5 752.6,1053.4C756.4,1054.4 762.0,1053.4 763.9,1053.4" fill="none" stroke="#ff9a10" stroke-width="1.3"/>
<path d="M462.2,1047.7C463.4,1047.6 466.6,1046.8 469.7,1046.9C472.8,1047.0 477.2,1048.1 481.0,1048.5C484.8,1048.9 489.2,1048.8 492.3,1049.3C495.5,1049.9 497.4,1051.1 499.9,1051.8C502.4,1052.5 503.7,1053.0 507.4,1053.4C511.2,1053.8 518.7,1054.0 522.5,1054.3C526.3,1054.5 527.5,1055.1 530.1,1055.1C532.6,1055.1 534.5,1054.5 537.6,1054.3C540.7,1054.0 546.1,1054.4 548.9,1053.4C551.7,1052.5 552.7,1051.0 554.6,1048.5C556.5,1046.1 558.3,1039.4 560.2,1038.7C562.1,1038.0 564.0,1044.7 565.9,1044.4C567.8,1044.2 569.3,1045.1 571.5,1037.1C573.7,1029.1 576.9,997.9 579.1,996.2C581.3,994.6 582.9,1016.0 584.8,1027.3C586.6,1038.6 587.6,1057.2 590.4,1064.1C593.2,1070.9 598.0,1066.8 601.7,1068.1C605.5,1069.5 609.3,1072.5 613.0,1072.2C616.8,1072.0 620.6,1069.5 624.4,1066.5C628.1,1063.5 632.5,1056.7 635.7,1054.3C638.8,1051.8 639.4,1053.3 643.2,1051.8C647.0,1050.3 653.3,1047.2 658.3,1045.3C663.3,1043.4 668.4,1041.0 673.4,1040.4C678.4,1039.7 684.7,1041.5 688.5,1041.2C692.3,1040.9 691.6,1038.6 696.0,1038.7C700.4,1038.9 708.6,1040.2 714.9,1042.0C721.2,1043.8 728.1,1048.1 733.7,1049.3C739.4,1050.6 744.4,1049.6 748.8,1049.3C753.2,1049.1 757.6,1047.4 760.1,1047.7C762.7,1048.0 763.3,1050.4 763.9,1051.0" fill="none" stroke="#2222ff" stroke-opacity="0.18" stroke-width="3.5"/>
<path d="M462.2,1047.7C463.4,1047.6 466.6,1046.8 469.7,1046.9C472.8,1047.0 477.2,1048.1 481.0,1048.5C484.8,1048.9 489.2,1048.8 492.3,1049.3C495.5,1049.9 497.4,1051.1 499.9,1051.8C502.4,1052.5 503.7,1053.0 507.4,1053.4C511.2,1053.8 518.7,1054.0 522.5,1054.3C526.3,1054.5 527.5,1055.1 530.1,1055.1C532.6,1055.1 534.5,1054.5 537.6,1054.3C540.7,1054.0 546.1,1054.4 548.9,1053.4C551.7,1052.5 552.7,1051.0 554.6,1048.5C556.5,1046.1 558.3,1039.4 560.2,1038.7C562.1,1038.0 564.0,1044.7 565.9,1044.4C567.8,1044.2 569.3,1045.1 571.5,1037.1C573.7,1029.1 576.9,997.9 579.1,996.2C581.3,994.6 582.9,1016.0 584.8,1027.3C586.6,1038.6 587.6,1057.2 590.4,1064.1C593.2,1070.9 598.0,1066.8 601.7,1068.1C605.5,1069.5 609.3,1072.5 613.0,1072.2C616.8,1072.0 620.6,1069.5 624.4,1066.5C628.1,1063.5 632.5,1056.7 635.7,1054.3C638.8,1051.8 639.4,1053.3 643.2,1051.8C647.0,1050.3 653.3,1047.2 658.3,1045.3C663.3,1043.4 668.4,1041.0 673.4,1040.4C678.4,1039.7 684.7,1041.5 688.5,1041.2C692.3,1040.9 691.6,1038.6 696.0,1038.7C700.4,1038.9 708.6,1040.2 714.9,1042.0C721.2,1043.8 728.1,1048.1 733.7,1049.3C739.4,1050.6 744.4,1049.6 748.8,1049.3C753.2,1049.1 757.6,1047.4 760.1,1047.7C762.7,1048.0 763.3,1050.4 763.9,1051.0" fill="none" stroke="#2222ff" stroke-width="1.3"/>
<line x1="676.4" y1="1074" x2="702" y2="1074" stroke="#2222ff" stroke-width="1.4"/>
<circle cx="689.2" cy="1074" r="5.2" fill="none" stroke="#2222ff" stroke-width="1.5"/>
<text x="714.7" y="1078.9" font-size="13.5" fill="#111">S ipsi</text>
<line x1="676.4" y1="1090" x2="702" y2="1090" stroke="#ff2020" stroke-width="1.4"/>
<circle cx="689.2" cy="1090" r="5.2" fill="none" stroke="#ff2020" stroke-width="1.5"/>
<text x="714.7" y="1094.9" font-size="13.5" fill="#111">S contra</text>
<line x1="676.4" y1="1106.1" x2="702" y2="1106.1" stroke="#22eeee" stroke-width="1.4"/>
<circle cx="689.2" cy="1106.1" r="5.2" fill="none" stroke="#22eeee" stroke-width="1.5"/>
<text x="714.7" y="1111.0" font-size="13.5" fill="#111">SVI ipsi</text>
<line x1="676.4" y1="1122.3" x2="702" y2="1122.3" stroke="#ff9a10" stroke-width="1.4"/>
<circle cx="689.2" cy="1122.3" r="5.2" fill="none" stroke="#ff9a10" stroke-width="1.5"/>
<text x="714.7" y="1127.2" font-size="13.5" fill="#111">SVI contra</text>
<g transform="translate(120.00,0.00) scale(0.16625)" fill="none" stroke="#1a1a1a" stroke-width="6.01" stroke-linecap="round" stroke-linejoin="round">
<path d="M278.0,178.0C277.0,168.3 270.8,138.0 272.0,120.0C273.2,102.0 275.3,85.8 285.0,70.0C294.7,54.2 309.2,34.7 330.0,25.0C350.8,15.3 387.5,8.7 410.0,12.0C432.5,15.3 453.7,28.7 465.0,45.0C476.3,61.3 475.5,92.5 478.0,110.0C480.5,127.5 478.0,142.0 480.0,150.0C482.0,158.0 491.3,155.0 490.0,158.0C488.7,161.0 475.0,166.3 472.0,168.0"/>
<path d="M290.0,150.0C291.2,141.7 287.0,105.3 297.0,100.0C307.0,94.7 335.3,114.3 350.0,118.0C364.7,121.7 373.3,125.8 385.0,122.0C396.7,118.2 412.2,101.7 420.0,95.0C427.8,88.3 427.8,76.2 432.0,82.0C436.2,87.8 440.0,115.7 445.0,130.0C450.0,144.3 459.2,161.7 462.0,168.0"/>
<path d="M292.0,165.0C293.3,175.0 293.7,208.8 300.0,225.0C306.3,241.2 318.0,252.5 330.0,262.0C342.0,271.5 358.7,280.3 372.0,282.0C385.3,283.7 400.0,278.2 410.0,272.0C420.0,265.8 426.2,256.2 432.0,245.0C437.8,233.8 442.0,217.8 445.0,205.0C448.0,192.2 449.2,174.2 450.0,168.0"/>
<path d="M276.0,180.0C277.3,184.2 280.0,199.2 284.0,205.0C288.0,210.8 297.3,213.3 300.0,215.0"/>
<path d="M330,200L348,203"/>
<path d="M395,203L412,200"/>
<path d="M358.0,232.0C359.3,234.3 362.0,244.0 366.0,246.0C370.0,248.0 378.3,246.3 382.0,244.0C385.7,241.7 387.0,234.0 388.0,232.0"/>
<path d="M350.0,262.0C353.7,263.0 365.0,268.0 372.0,268.0C379.0,268.0 388.7,263.0 392.0,262.0"/>
<path d="M262.0,215.0C255.8,220.0 234.5,233.3 225.0,245.0C215.5,256.7 212.2,271.7 205.0,285.0C197.8,298.3 187.0,311.2 182.0,325.0C177.0,338.8 176.2,360.8 175.0,368.0"/>
<path d="M445.0,212.0C454.2,216.7 487.2,227.8 500.0,240.0C512.8,252.2 517.3,270.0 522.0,285.0C526.7,300.0 527.0,322.5 528.0,330.0"/>
<path d="M240.0,270.0C243.7,275.0 257.3,285.0 262.0,300.0C266.7,315.0 267.0,350.0 268.0,360.0"/>
<path d="M492.0,328.0C500.8,332.0 531.7,342.5 545.0,352.0C558.3,361.5 566.5,373.7 572.0,385.0C577.5,396.3 577.0,414.2 578.0,420.0"/>
<path d="M80,362L665,370"/>
<path d="M140.0,615.0C143.7,605.0 157.3,573.3 162.0,555.0C166.7,536.7 172.5,519.2 168.0,505.0C163.5,490.8 145.5,483.3 135.0,470.0C124.5,456.7 110.8,436.3 105.0,425.0C99.2,413.7 95.8,407.0 100.0,402.0C104.2,397.0 118.0,391.2 130.0,395.0C142.0,398.8 159.5,420.0 172.0,425.0C184.5,430.0 199.5,425.0 205.0,425.0"/>
<path d="M120.0,352.0C121.7,356.3 123.3,370.0 130.0,378.0C136.7,386.0 155.0,396.3 160.0,400.0"/>
<path d="M250.0,615.0C249.7,601.7 246.0,559.2 248.0,535.0C250.0,510.8 258.7,490.8 262.0,470.0C265.3,449.2 269.7,423.0 268.0,410.0C266.3,397.0 254.7,395.0 252.0,392.0"/>
<path d="M172.0,395.0C176.7,390.0 188.7,367.8 200.0,365.0C211.3,362.2 233.3,368.8 240.0,378.0C246.7,387.2 244.2,410.0 240.0,420.0C235.8,430.0 225.0,437.2 215.0,438.0C205.0,438.8 185.8,427.2 180.0,425.0"/>
<path d="M485.0,430.0C487.2,440.3 488.0,475.0 498.0,492.0C508.0,509.0 531.0,512.0 545.0,532.0C559.0,552.0 575.8,598.7 582.0,612.0"/>
<path d="M680.0,620.0C672.5,603.3 643.7,553.3 635.0,520.0C626.3,486.7 632.5,439.2 628.0,420.0C623.5,400.8 614.0,399.7 608.0,405.0C602.0,410.3 594.7,444.2 592.0,452.0"/>
<path d="M510.0,420.0C515.0,417.5 529.7,405.0 540.0,405.0C550.3,405.0 566.2,409.2 572.0,420.0C577.8,430.8 579.5,458.3 575.0,470.0C570.5,481.7 555.5,490.0 545.0,490.0C534.5,490.0 517.5,473.3 512.0,470.0"/>
<path d="M440.0,360.0C445.0,363.3 459.7,372.5 470.0,380.0C480.3,387.5 496.7,400.8 502.0,405.0"/>
</g>
<g transform="translate(540.00,0.00) scale(0.12788)" fill="none" stroke="#1a1a1a" stroke-width="7.82" stroke-linecap="round" stroke-linejoin="round">
<path d="M242.0,292.0C239.2,281.7 223.7,252.0 225.0,230.0C226.3,208.0 243.3,181.7 250.0,160.0C256.7,138.3 258.0,118.3 265.0,100.0C272.0,81.7 279.5,63.3 292.0,50.0C304.5,36.7 317.0,25.8 340.0,20.0C363.0,14.2 403.3,11.7 430.0,15.0C456.7,18.3 484.7,25.8 500.0,40.0C515.3,54.2 520.0,80.0 522.0,100.0C524.0,120.0 512.0,141.3 512.0,160.0C512.0,178.7 517.0,193.3 522.0,212.0C527.0,230.7 538.7,262.0 542.0,272.0"/>
<path d="M276.0,222.0C278.3,204.2 279.3,129.5 290.0,115.0C300.7,100.5 323.7,127.5 340.0,135.0C356.3,142.5 373.0,160.8 388.0,160.0C403.0,159.2 417.2,139.2 430.0,130.0C442.8,120.8 455.0,103.3 465.0,105.0C475.0,106.7 485.5,124.2 490.0,140.0C494.5,155.8 490.0,181.7 492.0,200.0C494.0,218.3 497.0,237.5 502.0,250.0C507.0,262.5 518.7,270.8 522.0,275.0"/>
<path d="M276.0,232.0C278.3,243.3 281.0,278.7 290.0,300.0C299.0,321.3 316.3,345.5 330.0,360.0C343.7,374.5 357.0,382.8 372.0,387.0C387.0,391.2 406.7,389.5 420.0,385.0C433.3,380.5 443.7,372.5 452.0,360.0C460.3,347.5 465.3,326.3 470.0,310.0C474.7,293.7 478.3,270.0 480.0,262.0"/>
<path d="M320,270L340,272"/>
<path d="M405,272L425,272"/>
<path d="M352.0,325.0C355.3,327.2 364.7,337.5 372.0,338.0C379.3,338.5 392.0,329.7 396.0,328.0"/>
<path d="M338.0,350.0C344.2,352.0 362.7,362.0 375.0,362.0C387.3,362.0 405.8,352.0 412.0,350.0"/>
<path d="M245.0,302.0C240.0,307.0 222.5,315.7 215.0,332.0C207.5,348.3 205.0,385.0 200.0,400.0C195.0,415.0 187.5,418.3 185.0,422.0"/>
<path d="M500.0,322.0C506.7,325.3 530.0,329.0 540.0,342.0C550.0,355.0 554.7,383.7 560.0,400.0C565.3,416.3 570.0,433.3 572.0,440.0"/>
<path d="M190.0,410.0C201.7,408.3 240.0,396.7 260.0,400.0C280.0,403.3 299.7,418.3 310.0,430.0C320.3,441.7 320.0,463.3 322.0,470.0"/>
<path d="M190.0,440.0C197.0,443.7 190.3,453.3 232.0,462.0C273.7,470.7 405.3,487.0 440.0,492.0"/>
<path d="M85,462L675,488"/>
<path d="M175.0,500.0C173.3,511.7 162.5,546.7 165.0,570.0C167.5,593.3 175.8,618.3 190.0,640.0C204.2,661.7 231.7,686.7 250.0,700.0C268.3,713.3 283.3,720.0 300.0,720.0C316.7,720.0 335.0,713.3 350.0,700.0C365.0,686.7 382.5,660.0 390.0,640.0C397.5,620.0 398.3,601.7 395.0,580.0C391.7,558.3 379.2,523.3 370.0,510.0C360.8,496.7 345.0,501.7 340.0,500.0"/>
<path d="M245.0,780.0C259.2,766.7 304.2,730.0 330.0,700.0C355.8,670.0 375.0,638.3 400.0,600.0C425.0,561.7 459.7,498.3 480.0,470.0C500.3,441.7 507.0,438.3 522.0,430.0C537.0,421.7 561.2,406.7 570.0,420.0C578.8,433.3 580.0,481.7 575.0,510.0C570.0,538.3 557.5,558.3 540.0,590.0C522.5,621.7 493.0,667.5 470.0,700.0C447.0,732.5 413.3,770.8 402.0,785.0"/>
<path d="M460,700L580,780"/>
<path d="M502.0,430.0C513.0,428.7 556.3,407.0 568.0,422.0C579.7,437.0 578.7,501.2 572.0,520.0C565.3,538.8 539.7,548.3 528.0,535.0C516.3,521.7 506.3,455.8 502.0,440.0"/>
<path d="M175.0,482.0C189.2,481.7 232.5,473.7 260.0,480.0C287.5,486.3 328.3,503.3 340.0,520.0C351.7,536.7 345.0,569.7 330.0,580.0C315.0,590.3 276.7,583.7 250.0,582.0C223.3,580.3 183.3,572.0 170.0,570.0"/>
</g>
<g transform="translate(55.42,1060.64) scale(0.11355)" fill="none" stroke="#1a1a1a" stroke-width="7.05" stroke-linecap="round" stroke-linejoin="round">
<path d="M278.0,178.0C277.0,168.3 270.8,138.0 272.0,120.0C273.2,102.0 275.3,85.8 285.0,70.0C294.7,54.2 309.2,34.7 330.0,25.0C350.8,15.3 387.5,8.7 410.0,12.0C432.5,15.3 453.7,28.7 465.0,45.0C476.3,61.3 475.5,92.5 478.0,110.0C480.5,127.5 478.0,142.0 480.0,150.0C482.0,158.0 491.3,155.0 490.0,158.0C488.7,161.0 475.0,166.3 472.0,168.0"/>
<path d="M290.0,150.0C291.2,141.7 287.0,105.3 297.0,100.0C307.0,94.7 335.3,114.3 350.0,118.0C364.7,121.7 373.3,125.8 385.0,122.0C396.7,118.2 412.2,101.7 420.0,95.0C427.8,88.3 427.8,76.2 432.0,82.0C436.2,87.8 440.0,115.7 445.0,130.0C450.0,144.3 459.2,161.7 462.0,168.0"/>
<path d="M292.0,165.0C293.3,175.0 293.7,208.8 300.0,225.0C306.3,241.2 318.0,252.5 330.0,262.0C342.0,271.5 358.7,280.3 372.0,282.0C385.3,283.7 400.0,278.2 410.0,272.0C420.0,265.8 426.2,256.2 432.0,245.0C437.8,233.8 442.0,217.8 445.0,205.0C448.0,192.2 449.2,174.2 450.0,168.0"/>
<path d="M276.0,180.0C277.3,184.2 280.0,199.2 284.0,205.0C288.0,210.8 297.3,213.3 300.0,215.0"/>
<path d="M330,200L348,203"/>
<path d="M395,203L412,200"/>
<path d="M358.0,232.0C359.3,234.3 362.0,244.0 366.0,246.0C370.0,248.0 378.3,246.3 382.0,244.0C385.7,241.7 387.0,234.0 388.0,232.0"/>
<path d="M350.0,262.0C353.7,263.0 365.0,268.0 372.0,268.0C379.0,268.0 388.7,263.0 392.0,262.0"/>
<path d="M262.0,215.0C255.8,220.0 234.5,233.3 225.0,245.0C215.5,256.7 212.2,271.7 205.0,285.0C197.8,298.3 187.0,311.2 182.0,325.0C177.0,338.8 176.2,360.8 175.0,368.0"/>
<path d="M445.0,212.0C454.2,216.7 487.2,227.8 500.0,240.0C512.8,252.2 517.3,270.0 522.0,285.0C526.7,300.0 527.0,322.5 528.0,330.0"/>
<path d="M240.0,270.0C243.7,275.0 257.3,285.0 262.0,300.0C266.7,315.0 267.0,350.0 268.0,360.0"/>
<path d="M492.0,328.0C500.8,332.0 531.7,342.5 545.0,352.0C558.3,361.5 566.5,373.7 572.0,385.0C577.5,396.3 577.0,414.2 578.0,420.0"/>
<path d="M80,362L665,370"/>
<path d="M140.0,615.0C143.7,605.0 157.3,573.3 162.0,555.0C166.7,536.7 172.5,519.2 168.0,505.0C163.5,490.8 145.5,483.3 135.0,470.0C124.5,456.7 110.8,436.3 105.0,425.0C99.2,413.7 95.8,407.0 100.0,402.0C104.2,397.0 118.0,391.2 130.0,395.0C142.0,398.8 159.5,420.0 172.0,425.0C184.5,430.0 199.5,425.0 205.0,425.0"/>
<path d="M120.0,352.0C121.7,356.3 123.3,370.0 130.0,378.0C136.7,386.0 155.0,396.3 160.0,400.0"/>
<path d="M250.0,615.0C249.7,601.7 246.0,559.2 248.0,535.0C250.0,510.8 258.7,490.8 262.0,470.0C265.3,449.2 269.7,423.0 268.0,410.0C266.3,397.0 254.7,395.0 252.0,392.0"/>
<path d="M172.0,395.0C176.7,390.0 188.7,367.8 200.0,365.0C211.3,362.2 233.3,368.8 240.0,378.0C246.7,387.2 244.2,410.0 240.0,420.0C235.8,430.0 225.0,437.2 215.0,438.0C205.0,438.8 185.8,427.2 180.0,425.0"/>
<path d="M485.0,430.0C487.2,440.3 488.0,475.0 498.0,492.0C508.0,509.0 531.0,512.0 545.0,532.0C559.0,552.0 575.8,598.7 582.0,612.0"/>
<path d="M680.0,620.0C672.5,603.3 643.7,553.3 635.0,520.0C626.3,486.7 632.5,439.2 628.0,420.0C623.5,400.8 614.0,399.7 608.0,405.0C602.0,410.3 594.7,444.2 592.0,452.0"/>
<path d="M510.0,420.0C515.0,417.5 529.7,405.0 540.0,405.0C550.3,405.0 566.2,409.2 572.0,420.0C577.8,430.8 579.5,458.3 575.0,470.0C570.5,481.7 555.5,490.0 545.0,490.0C534.5,490.0 517.5,473.3 512.0,470.0"/>
<path d="M440.0,360.0C445.0,363.3 459.7,372.5 470.0,380.0C480.3,387.5 496.7,400.8 502.0,405.0"/>
</g>
<g transform="translate(459.88,1064.32) scale(0.08593)" fill="none" stroke="#1a1a1a" stroke-width="9.31" stroke-linecap="round" stroke-linejoin="round">
<path d="M242.0,292.0C239.2,281.7 223.7,252.0 225.0,230.0C226.3,208.0 243.3,181.7 250.0,160.0C256.7,138.3 258.0,118.3 265.0,100.0C272.0,81.7 279.5,63.3 292.0,50.0C304.5,36.7 317.0,25.8 340.0,20.0C363.0,14.2 403.3,11.7 430.0,15.0C456.7,18.3 484.7,25.8 500.0,40.0C515.3,54.2 520.0,80.0 522.0,100.0C524.0,120.0 512.0,141.3 512.0,160.0C512.0,178.7 517.0,193.3 522.0,212.0C527.0,230.7 538.7,262.0 542.0,272.0"/>
<path d="M276.0,222.0C278.3,204.2 279.3,129.5 290.0,115.0C300.7,100.5 323.7,127.5 340.0,135.0C356.3,142.5 373.0,160.8 388.0,160.0C403.0,159.2 417.2,139.2 430.0,130.0C442.8,120.8 455.0,103.3 465.0,105.0C475.0,106.7 485.5,124.2 490.0,140.0C494.5,155.8 490.0,181.7 492.0,200.0C494.0,218.3 497.0,237.5 502.0,250.0C507.0,262.5 518.7,270.8 522.0,275.0"/>
<path d="M276.0,232.0C278.3,243.3 281.0,278.7 290.0,300.0C299.0,321.3 316.3,345.5 330.0,360.0C343.7,374.5 357.0,382.8 372.0,387.0C387.0,391.2 406.7,389.5 420.0,385.0C433.3,380.5 443.7,372.5 452.0,360.0C460.3,347.5 465.3,326.3 470.0,310.0C474.7,293.7 478.3,270.0 480.0,262.0"/>
<path d="M320,270L340,272"/>
<path d="M405,272L425,272"/>
<path d="M352.0,325.0C355.3,327.2 364.7,337.5 372.0,338.0C379.3,338.5 392.0,329.7 396.0,328.0"/>
<path d="M338.0,350.0C344.2,352.0 362.7,362.0 375.0,362.0C387.3,362.0 405.8,352.0 412.0,350.0"/>
<path d="M245.0,302.0C240.0,307.0 222.5,315.7 215.0,332.0C207.5,348.3 205.0,385.0 200.0,400.0C195.0,415.0 187.5,418.3 185.0,422.0"/>
<path d="M500.0,322.0C506.7,325.3 530.0,329.0 540.0,342.0C550.0,355.0 554.7,383.7 560.0,400.0C565.3,416.3 570.0,433.3 572.0,440.0"/>
<path d="M190.0,410.0C201.7,408.3 240.0,396.7 260.0,400.0C280.0,403.3 299.7,418.3 310.0,430.0C320.3,441.7 320.0,463.3 322.0,470.0"/>
<path d="M190.0,440.0C197.0,443.7 190.3,453.3 232.0,462.0C273.7,470.7 405.3,487.0 440.0,492.0"/>
<path d="M85,462L675,488"/>
<path d="M175.0,500.0C173.3,511.7 162.5,546.7 165.0,570.0C167.5,593.3 175.8,618.3 190.0,640.0C204.2,661.7 231.7,686.7 250.0,700.0C268.3,713.3 283.3,720.0 300.0,720.0C316.7,720.0 335.0,713.3 350.0,700.0C365.0,686.7 382.5,660.0 390.0,640.0C397.5,620.0 398.3,601.7 395.0,580.0C391.7,558.3 379.2,523.3 370.0,510.0C360.8,496.7 345.0,501.7 340.0,500.0"/>
<path d="M245.0,780.0C259.2,766.7 304.2,730.0 330.0,700.0C355.8,670.0 375.0,638.3 400.0,600.0C425.0,561.7 459.7,498.3 480.0,470.0C500.3,441.7 507.0,438.3 522.0,430.0C537.0,421.7 561.2,406.7 570.0,420.0C578.8,433.3 580.0,481.7 575.0,510.0C570.0,538.3 557.5,558.3 540.0,590.0C522.5,621.7 493.0,667.5 470.0,700.0C447.0,732.5 413.3,770.8 402.0,785.0"/>
<path d="M460,700L580,780"/>
<path d="M502.0,430.0C513.0,428.7 556.3,407.0 568.0,422.0C579.7,437.0 578.7,501.2 572.0,520.0C565.3,538.8 539.7,548.3 528.0,535.0C516.3,521.7 506.3,455.8 502.0,440.0"/>
<path d="M175.0,482.0C189.2,481.7 232.5,473.7 260.0,480.0C287.5,486.3 328.3,503.3 340.0,520.0C351.7,536.7 345.0,569.7 330.0,580.0C315.0,590.3 276.7,583.7 250.0,582.0C223.3,580.3 183.3,572.0 170.0,570.0"/>
</g>
<text transform="translate(16.8,1051) rotate(-90)" font-size="12.9" text-anchor="middle" fill="#111">ERP amplitude(uV)</text>
<text x="661" y="498.2" font-size="7" text-anchor="middle" fill="#111">iosi</text><text x="733.6" y="498.2" font-size="7" text-anchor="middle" fill="#111">contra</text>
<line x1="683.3" y1="16" x2="707.4" y2="16" stroke="#2222ff" stroke-width="1.4"/>
<circle cx="695.2" cy="16" r="5" fill="none" stroke="#2222ff" stroke-width="1.5"/>
<text x="719.2" y="20.6" font-size="12.7" fill="#111">S ipsi</text>
<line x1="683.3" y1="30.7" x2="707.4" y2="30.7" stroke="#ff2020" stroke-width="1.4"/>
<circle cx="695.2" cy="30.7" r="5" fill="none" stroke="#ff2020" stroke-width="1.5"/>
<text x="719.2" y="35.3" font-size="12.7" fill="#111">S contra</text>
<line x1="683.3" y1="45.2" x2="707.4" y2="45.2" stroke="#22eeee" stroke-width="1.4"/>
<circle cx="695.2" cy="45.2" r="5" fill="none" stroke="#22eeee" stroke-width="1.5"/>
<text x="719.2" y="49.8" font-size="12.7" fill="#111">SVI ipsi</text>
<line x1="683.3" y1="59.9" x2="707.4" y2="59.9" stroke="#ff9a10" stroke-width="1.4"/>
<circle cx="695.2" cy="59.9" r="5" fill="none" stroke="#ff9a10" stroke-width="1.5"/>
<text x="719.2" y="64.5" font-size="12.7" fill="#111">SVI contra</text>
</svg></body></html>
